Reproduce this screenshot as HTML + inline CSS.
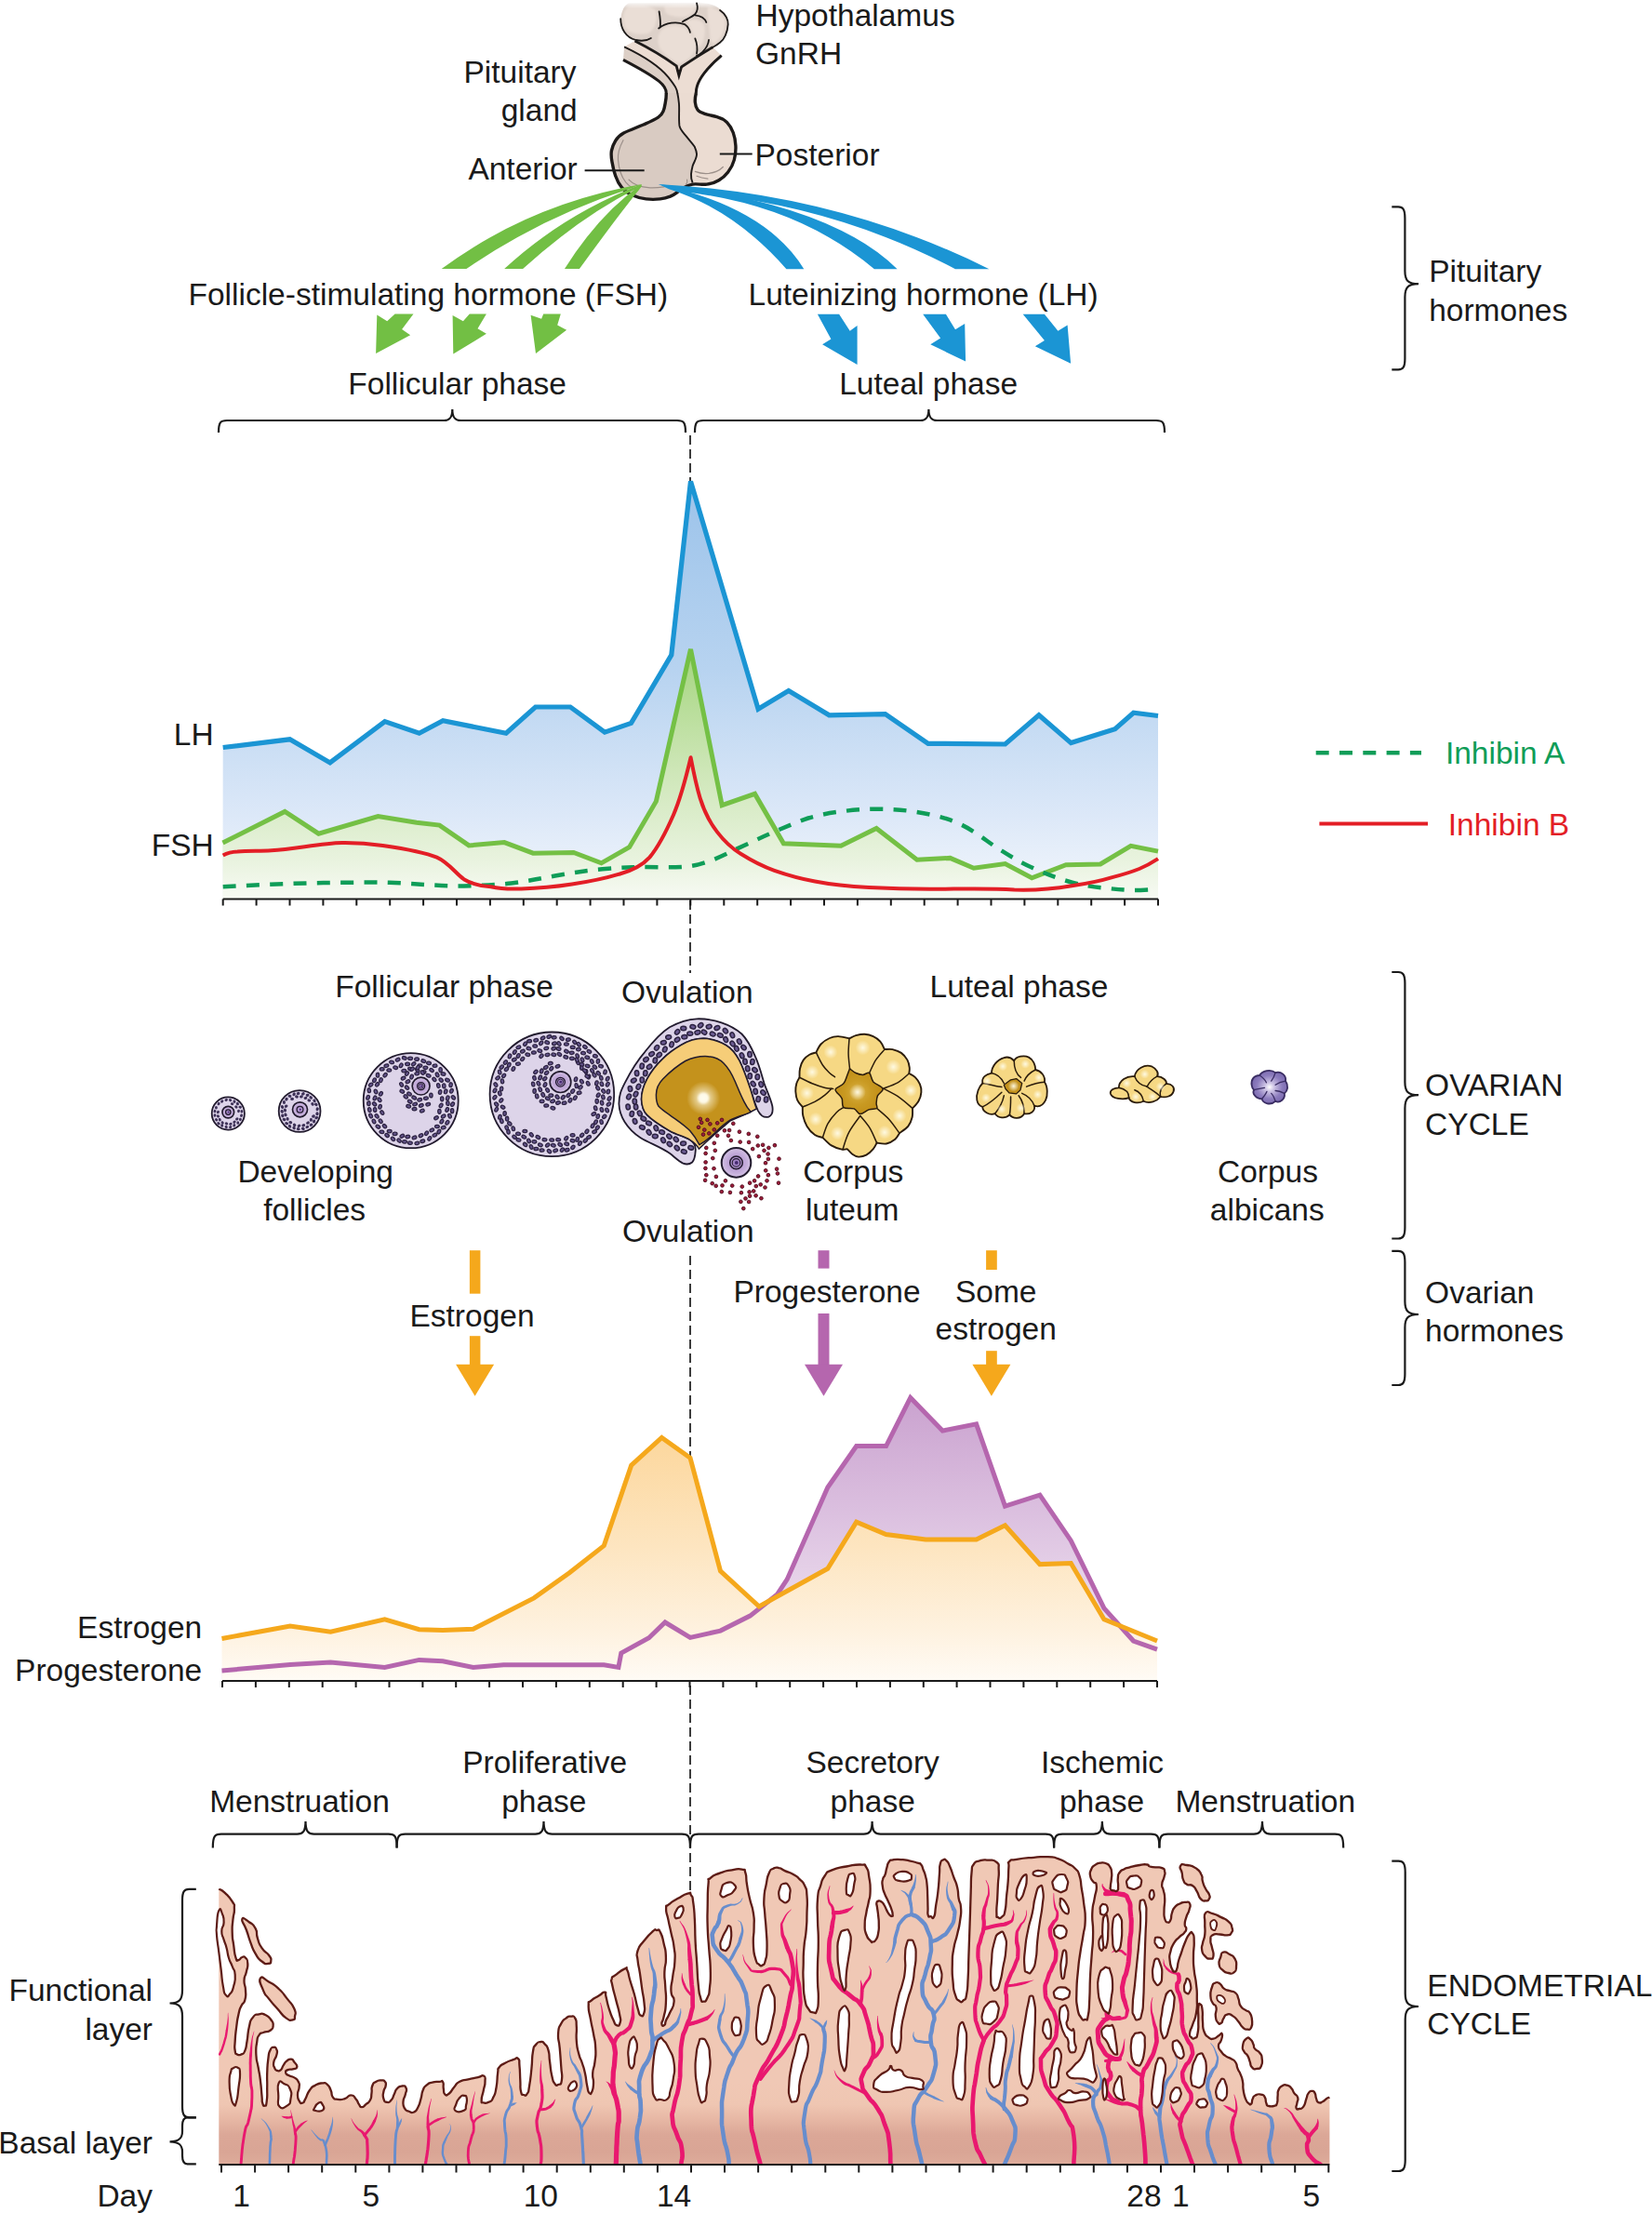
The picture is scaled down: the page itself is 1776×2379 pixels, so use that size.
<!DOCTYPE html>
<html lang="en"><head><meta charset="utf-8"><title>Menstrual cycle</title>
<style>
html,body{margin:0;padding:0;background:#fff;overflow:hidden}
body{width:1776px;height:2379px}
svg{display:block}
text{font-family:"Liberation Sans",sans-serif;font-size:33.5px;fill:#1a1a1a}
</style></head><body>
<svg width="1776" height="2379" viewBox="0 0 1776 2379">
<rect width="1776" height="2379" fill="#fff"/>
<g id="charts">
<defs>
<linearGradient id="gLH" x1="0" y1="517" x2="0" y2="966" gradientUnits="userSpaceOnUse"><stop offset="0" stop-color="#9cc3ea"/><stop offset="0.45" stop-color="#b7d3f0"/><stop offset="0.8" stop-color="#dce8f8"/><stop offset="1" stop-color="#f3f7fc"/></linearGradient>
<linearGradient id="gFSH" x1="0" y1="698" x2="0" y2="966" gradientUnits="userSpaceOnUse"><stop offset="0" stop-color="#a4d57e"/><stop offset="0.5" stop-color="#cfe7b9"/><stop offset="0.85" stop-color="#e9f3df"/><stop offset="1" stop-color="#f7faf3"/></linearGradient>
<linearGradient id="gEST" x1="0" y1="1545" x2="0" y2="1807" gradientUnits="userSpaceOnUse"><stop offset="0" stop-color="#fcd79d"/><stop offset="0.45" stop-color="#fde5c0"/><stop offset="0.8" stop-color="#fef2e0"/><stop offset="1" stop-color="#fffbf5"/></linearGradient>
<linearGradient id="gPRO" x1="0" y1="1502" x2="0" y2="1760" gradientUnits="userSpaceOnUse"><stop offset="0" stop-color="#caa2cf"/><stop offset="0.5" stop-color="#dcc1e0"/><stop offset="1" stop-color="#efe2f0"/></linearGradient>
</defs>
<g stroke="#1a1a1a" stroke-width="1.7" stroke-dasharray="10 5" fill="none">
<path d="M742,468 V517"/><path d="M742,968 V1046"/><path d="M742,1350 V1566"/><path d="M742,1812 V2120"/>
</g>
<polygon fill="url(#gLH)" points="239.7,803.5 311.6,794.8 354.8,819.9 413.7,775.6 450.7,788.3 476.2,774.8 544.1,788.3 575.7,760.0 613.1,760.0 650.1,787.2 678.5,777.4 721.8,704.1 742.5,517.4 815.1,762.2 847.8,742.6 891.4,768.8 951.7,767.7 997.8,799.3 1080.6,800.0 1116.9,768.8 1151.4,798.6 1198.7,783.7 1218.6,766.2 1245.0,769.5 1245.0,966.0 239.5,966.0"/>
<polygon fill="url(#gFSH)" points="239.5,906.0 306.2,872.5 342.5,896.2 406.4,877.6 447.8,884.2 472.5,887.1 504.1,908.9 542.2,905.6 573.1,917.2 616.7,916.5 646.5,927.8 676.6,910.7 705.4,861.4 742.5,697.9 776.2,865.7 811.5,853.4 842.4,906.8 904.1,909.3 942.2,890.4 985.8,924.2 1021.4,922.4 1046.8,933.3 1080.6,928.6 1109.3,943.8 1146.0,929.7 1183.0,928.9 1215.7,909.3 1245.0,915.1 1245.0,966.0 239.5,966.0"/>
<polyline fill="none" stroke="#1b95d4" stroke-width="5.2" stroke-linejoin="miter" points="239.7,803.5 311.6,794.8 354.8,819.9 413.7,775.6 450.7,788.3 476.2,774.8 544.1,788.3 575.7,760.0 613.1,760.0 650.1,787.2 678.5,777.4 721.8,704.1 742.5,517.4 815.1,762.2 847.8,742.6 891.4,768.8 951.7,767.7 997.8,799.3 1080.6,800.0 1116.9,768.8 1151.4,798.6 1198.7,783.7 1218.6,766.2 1245.0,769.5"/>
<polyline fill="none" stroke="#74c045" stroke-width="5" stroke-linejoin="miter" points="239.5,906.0 306.2,872.5 342.5,896.2 406.4,877.6 447.8,884.2 472.5,887.1 504.1,908.9 542.2,905.6 573.1,917.2 616.7,916.5 646.5,927.8 676.6,910.7 705.4,861.4 742.5,697.9 776.2,865.7 811.5,853.4 842.4,906.8 904.1,909.3 942.2,890.4 985.8,924.2 1021.4,922.4 1046.8,933.3 1080.6,928.6 1109.3,943.8 1146.0,929.7 1183.0,928.9 1215.7,909.3 1245.0,915.1"/>
<path fill="none" stroke="#0f9d58" stroke-width="4.5" stroke-dasharray="14 11.3" d="M239.7,953.2 C282,951 325,949 367.9,948.8 C385,948.6 402,948.4 418.8,948.8 C446,949.5 472,953 498.7,952.4 C516,952 533,951.5 549.5,949.5 C566,947.5 581,944.5 596.7,941.5 C614,938.3 630,936 647.6,934.3 C664,933 672,932.5 680,932.2 C700,931.5 722,933.5 742.5,931.1 C759,928.5 775,921 789,914 C804,907 818,900.5 832.5,894.1 C845,888.8 857,883.5 868.9,879.5 C881,876 893,873.6 905.2,872.3 C917,870.5 929,869.7 941.5,869.7 C955,869.7 968,870.3 981.5,872.3 C995,874.3 1009,877 1021.4,881.4 C1030,884.5 1039,889 1046.8,894.1 C1057,900.5 1066,908 1075.9,914 C1087,921 1097,927 1108.6,932.2 C1122,938.5 1135,943.5 1148.5,947.5 C1162,951.5 1175,953.6 1188.5,954.7 C1197,955.6 1205,956.5 1213.9,956.9 C1224,957.3 1235,956.3 1245.0,955.8"/>
<path fill="none" stroke="#e31e26" stroke-width="4" stroke-linejoin="round" d="M239.7,919.4 C245,916.5 250,915.6 255.3,915.4 C268,914.6 280,915 291.6,914.3 C318,912.5 345,906.5 367.9,906 C384,905.8 398,907 411.5,908.9 C433,912 455,915.5 469.6,921.6 C482,927 490,939 498.7,945.2 C508,951 517,952.5 527.7,953.2 C539,955.8 549,955.8 560.4,955.4 C579,955 597,953.4 614.9,950.6 C632,948 650,944.5 665.7,939.7 C679,936 690,931 698.4,921.6 C708,910 717,892 723.9,876.2 C731,860 737,838 742.6,814.3 C746,832 749,846 752.6,857.8 C757,872 763,884 770.8,894.1 C778,903.5 786,911.5 796.2,917.7 C807,924.5 819,931 832.5,935.8 C846,940.5 860,944.5 876.1,947.5 C894,951 914,953 934.2,954 C956,955.2 978,955.8 999.6,955.8 C1030,955.8 1060,954.5 1090.4,956.5 C1112,957.2 1133,955.5 1152.2,952.2 C1168,950 1183,947 1195.7,943.1 C1206,940.5 1216,937.5 1224.8,934 C1232,931 1239,927 1245.0,923.1"/>
<path fill="none" stroke="#1a1a1a" stroke-width="2" d="M239.7,966.5 H1245.0 M239.7,966.5 v7 M275.6,966.5 v7 M311.5,966.5 v7 M347.4,966.5 v7 M383.3,966.5 v7 M419.2,966.5 v7 M455.1,966.5 v7 M491.0,966.5 v7 M526.9,966.5 v7 M562.8,966.5 v7 M598.7,966.5 v7 M634.6,966.5 v7 M670.5,966.5 v7 M706.4,966.5 v7 M742.3,966.5 v7 M778.3,966.5 v7 M814.2,966.5 v7 M850.1,966.5 v7 M886.0,966.5 v7 M921.9,966.5 v7 M957.8,966.5 v7 M993.7,966.5 v7 M1029.6,966.5 v7 M1065.5,966.5 v7 M1101.4,966.5 v7 M1137.3,966.5 v7 M1173.2,966.5 v7 M1209.1,966.5 v7 M1245.0,966.5 v7"/>
<polygon fill="url(#gPRO)" points="238.5,1796.0 311.9,1789.4 355.4,1786.9 413.6,1792.4 450.6,1784.4 476.0,1785.8 508.7,1792.4 541.4,1789.8 649.3,1789.8 664.9,1792.4 667.8,1777.1 697.6,1760.8 715.0,1744.0 742.0,1760.4 774.5,1753.1 806.3,1737.1 835.3,1714.3 846.2,1697.9 889.8,1599.1 920.7,1554.5 952.6,1554.5 978.8,1502.5 1013.3,1538.1 1049.6,1530.8 1080.5,1619.1 1117.9,1607.1 1151.3,1656.2 1186.9,1728.8 1218.5,1764.0 1244.0,1773.1 1244,1807.0 238.5,1807.0"/>
<polygon fill="url(#gEST)" points="238.5,1761.5 311.9,1748.0 355.4,1754.2 413.6,1740.8 450.6,1751.7 476.0,1752.4 508.7,1751.3 574.1,1717.9 612.2,1690.7 649.3,1661.6 678.7,1575.2 711.4,1545.4 742.0,1567.2 774.5,1688.8 816.1,1727.0 889.8,1686.3 920.7,1636.2 952.6,1649.6 995.1,1655.1 1049.6,1655.1 1080.5,1639.8 1117.9,1681.6 1151.3,1680.5 1186.9,1740.8 1244.0,1764.0 1244,1807.0 238.5,1807.0"/>
<polyline fill="none" stroke="#b566ae" stroke-width="5" stroke-linejoin="miter" points="238.5,1796.0 311.9,1789.4 355.4,1786.9 413.6,1792.4 450.6,1784.4 476.0,1785.8 508.7,1792.4 541.4,1789.8 649.3,1789.8 664.9,1792.4 667.8,1777.1 697.6,1760.8 715.0,1744.0 742.0,1760.4 774.5,1753.1 806.3,1737.1 835.3,1714.3 846.2,1697.9 889.8,1599.1 920.7,1554.5 952.6,1554.5 978.8,1502.5 1013.3,1538.1 1049.6,1530.8 1080.5,1619.1 1117.9,1607.1 1151.3,1656.2 1186.9,1728.8 1218.5,1764.0 1244.0,1773.1"/>
<polyline fill="none" stroke="#f5a81c" stroke-width="5" stroke-linejoin="miter" points="238.5,1761.5 311.9,1748.0 355.4,1754.2 413.6,1740.8 450.6,1751.7 476.0,1752.4 508.7,1751.3 574.1,1717.9 612.2,1690.7 649.3,1661.6 678.7,1575.2 711.4,1545.4 742.0,1567.2 774.5,1688.8 816.1,1727.0 889.8,1686.3 920.7,1636.2 952.6,1649.6 995.1,1655.1 1049.6,1655.1 1080.5,1639.8 1117.9,1681.6 1151.3,1680.5 1186.9,1740.8 1244.0,1764.0"/>
<path fill="none" stroke="#1a1a1a" stroke-width="2" d="M239.0,1807.0 H1244.0 M239.0,1807.0 v7 M274.9,1807.0 v7 M310.8,1807.0 v7 M346.7,1807.0 v7 M382.6,1807.0 v7 M418.5,1807.0 v7 M454.4,1807.0 v7 M490.2,1807.0 v7 M526.1,1807.0 v7 M562.0,1807.0 v7 M597.9,1807.0 v7 M633.8,1807.0 v7 M669.7,1807.0 v7 M705.6,1807.0 v7 M741.5,1807.0 v7 M777.4,1807.0 v7 M813.3,1807.0 v7 M849.2,1807.0 v7 M885.1,1807.0 v7 M921.0,1807.0 v7 M956.9,1807.0 v7 M992.8,1807.0 v7 M1028.6,1807.0 v7 M1064.5,1807.0 v7 M1100.4,1807.0 v7 M1136.3,1807.0 v7 M1172.2,1807.0 v7 M1208.1,1807.0 v7 M1244.0,1807.0 v7"/>
<path d="M1414.7,809.2 H1528" stroke="#0f9d58" stroke-width="4.5" stroke-dasharray="14 11.3" fill="none"/>
<path d="M1418.4,885.4 H1535" stroke="#e31e26" stroke-width="4" fill="none"/>
</g>
<g id="pituitary">
<defs>
<linearGradient id="gHypTop" x1="0" y1="0" x2="0" y2="9" gradientUnits="userSpaceOnUse"><stop offset="0.2" stop-color="#fff"/><stop offset="1" stop-color="#fff" stop-opacity="0"/></linearGradient>
<filter id="blur1" x="-10%" y="-10%" width="120%" height="120%"><feGaussianBlur stdDeviation="1.2"/></filter>
</defs>
<path d="M 671.1,50.3 C 689.0,58.8 707.6,69.7 718.4,82.8 C 726.1,92.6 728.0,95.9 728.3,101.3 L 748.4,101.3 C 747.9,92.6 751.1,80.6 775.7,59.7 L 766.4,50.7 L 729.3,71.9 L 682.5,44.1 Z" fill="#ecddd3"/>
<path d="M 671.1,50.3 C 689.0,58.8 707.6,69.7 718.4,82.8 C 726.1,92.6 728.0,95.9 728.3,101.3 L 716.3,101.3 C 716.8,92.6 709.7,85.0 670.0,64.3 Z" fill="#dccfc6"/>
<path d="M716.3,100 C716.3,104 715.8,108 715.2,110.9 C714.6,114.5 714.2,117 713,119.6 C711.8,122.5 710.2,124.5 707.6,126.1 C703,129 698,131.2 692.3,133.8 C685,137 677,139.8 670.5,143 C666.5,145.2 663.8,147.8 661.8,151.2 C659.5,155 658,158.5 657.4,162.1 C656.8,166 657.2,170 658,174.1 C658.9,179.5 660,184.5 661.8,189.3 C663.3,193.8 665.3,197.8 668.3,201.3 C671.5,205.2 675.5,208 680.3,210 C685,212.1 689.5,213.5 694.5,213.9 C699.5,214.5 704.5,214.5 709.7,213.9 C713.5,213.4 717,212.5 720.6,211.1 C723,210.1 725.2,208.8 727.2,207.3 C729.8,205.4 732,203.4 734.8,201.9 C737.8,200.1 741,198.7 744.6,198.1 C749.5,197.4 754.8,198.8 759.9,198.1 C764.5,197.5 769,196.1 772.9,193.7 C776.8,191.4 780,188.6 782.7,185 C785.7,181.2 788,176.8 789.3,171.9 C790.6,167 791.2,162 790.9,156.7 C790.7,151.8 789.9,147 788.2,142.5 C786.7,138.4 784.6,134.7 781.6,131.6 C778.6,128.6 775,126.8 770.7,125.6 C766.5,124.4 762,123.7 757.7,122.3 C754.5,121.3 751.7,120.2 750,118 C748.3,115.8 747.6,113 747.3,109.8 C747,106.5 747.6,103 748.4,100 Z" fill="#ebdcd2"/>
<path d="M716.3,100 C716.3,104 715.8,108 715.2,110.9 C714.6,114.5 714.2,117 713,119.6 C711.8,122.5 710.2,124.5 707.6,126.1 C703,129 698,131.2 692.3,133.8 C685,137 677,139.8 670.5,143 C666.5,145.2 663.8,147.8 661.8,151.2 C659.5,155 658,158.5 657.4,162.1 C656.8,166 657.2,170 658,174.1 C658.9,179.5 660,184.5 661.8,189.3 C663.3,193.8 665.3,197.8 668.3,201.3 C671.5,205.2 675.5,208 680.3,210 C685,212.1 689.5,213.5 694.5,213.9 C699.5,214.5 704.5,214.5 709.7,213.9 C713.5,213.4 717,212.5 720.6,211.1 C723,210.1 725.2,208.8 727.2,207.3 C729.8,205.4 732,203.4 734.8,201.9 C737.8,200.1 741,198.7 744.6,196.5 C743.2,193 742.8,190 743,187.2 C743.3,184 743.9,181 744.6,178.4 C746.3,173.5 749.3,170 749,165.4 C748.7,162 747.8,160 746.8,157.8 C744,153.5 740.8,150.5 738.1,146.9 C734.8,142.6 731,139.5 730.4,134.9 C729.5,126 730.6,118 729.9,110.9 C729.5,106.5 728.8,102.5 728.3,100 Z" fill="#d9cbc2"/>
<g fill="none" stroke="#9c908a" stroke-width="1.2" stroke-linecap="round">
<path d="M 670.0,150.7 C 665.6,158.8 664.0,165.4 664.5,171.9 C 665.3,181.7 668.3,190.4 672.7,195.9 C 677.0,200.8 681.4,203.5 685.8,204.6"/>
<path d="M 676.0,193.2 C 680.3,198.1 689.0,201.3 698.8,201.9 C 705.4,202.2 709.7,201.5 714.1,200.8"/>
<path d="M 747.3,184.4 C 752.2,186.3 757.7,186.8 762.0,186.4 C 768.6,185.6 774.0,182.8 777.3,179.5"/>
<path d="M 749.0,189.3 C 753.3,191.0 757.7,191.7 760.9,192.1"/>
<path d="M 738.6,193.2 C 739.2,195.3 738.6,197.0 737.5,198.1"/>
</g>
<path d="M716.3,100 C716.3,104 715.8,108 715.2,110.9 C714.6,114.5 714.2,117 713,119.6 C711.8,122.5 710.2,124.5 707.6,126.1 C703,129 698,131.2 692.3,133.8 C685,137 677,139.8 670.5,143 C666.5,145.2 663.8,147.8 661.8,151.2 C659.5,155 658,158.5 657.4,162.1 C656.8,166 657.2,170 658,174.1 C658.9,179.5 660,184.5 661.8,189.3 C663.3,193.8 665.3,197.8 668.3,201.3 C671.5,205.2 675.5,208 680.3,210 C685,212.1 689.5,213.5 694.5,213.9 C699.5,214.5 704.5,214.5 709.7,213.9 C713.5,213.4 717,212.5 720.6,211.1 C723,210.1 725.2,208.8 727.2,207.3 C729.8,205.4 732,203.4 734.8,201.9 C737.8,200.1 741,198.7 744.6,198.1 C749.5,197.4 754.8,198.8 759.9,198.1 C764.5,197.5 769,196.1 772.9,193.7 C776.8,191.4 780,188.6 782.7,185 C785.7,181.2 788,176.8 789.3,171.9 C790.6,167 791.2,162 790.9,156.7 C790.7,151.8 789.9,147 788.2,142.5 C786.7,138.4 784.6,134.7 781.6,131.6 C778.6,128.6 775,126.8 770.7,125.6 C766.5,124.4 762,123.7 757.7,122.3 C754.5,121.3 751.7,120.2 750,118 C748.3,115.8 747.6,113 747.3,109.8 C747,106.5 747.6,103 748.4,100" fill="none" stroke="#1d1a19" stroke-width="3.4" stroke-linejoin="round"/>
<path d="M728.3,100 C728.8,102.5 729.5,106.5 729.9,110.9 C730.6,118 729.5,126 730.4,134.9 C731,139.5 734.8,142.6 738.1,146.9 C740.8,150.5 744,153.5 746.8,157.8 C747.8,160 748.7,162 749,165.4 C749.3,170 746.3,173.5 744.6,178.4 C743.9,181 743.3,184 743,187.2 C742.8,190 743.2,193 744.6,196.5" fill="none" stroke="#1d1a19" stroke-width="1.9"/>
<path d="M 670.0,64.3 C 709.7,85.0 716.8,92.6 716.3,100.5" fill="none" stroke="#1d1a19" stroke-width="3"/>
<path d="M 775.7,59.7 C 751.1,80.6 747.9,92.6 748.4,100.5" fill="none" stroke="#1d1a19" stroke-width="3"/>
<path d="M 671.1,50.3 C 689.0,58.8 707.6,69.7 718.4,82.8 C 726.1,92.6 728.0,95.9 728.3,100.5" fill="none" stroke="#1d1a19" stroke-width="1.9"/>
<path d="M 676.0,3.3 C 671.6,5.4 668.3,10.9 667.2,20.7 C 667.0,28.3 671.6,37.0 676.0,39.8 C 678.1,41.9 680.3,43.4 682.5,44.1 L 729.3,71.9 L 766.4,50.7 C 771.8,47.4 777.3,41.4 780.6,34.9 C 783.0,27.2 783.0,20.7 780.6,16.3 C 778.4,12.0 770.7,6.5 765.3,4.9 C 759.9,3.3 754.4,2.7 749.0,2.7 Z" fill="#ddd1c9"/>
<g fill="#eaded6" filter="url(#blur1)">
<path d="M 676.0,6.5 C 685.8,4.4 701.0,5.4 705.4,12.0 C 707.6,21.8 703.2,32.7 696.7,36.0 C 687.9,38.1 677.0,36.0 672.7,30.5 C 668.3,21.8 669.4,10.9 676.0,6.5 Z"/>
<path d="M 710.8,32.7 C 716.3,27.2 729.3,26.1 737.0,30.5 C 744.6,37.0 749.0,45.8 746.8,54.5 C 743.5,62.1 735.9,67.6 729.3,68.6 C 722.8,65.4 714.1,58.8 709.7,52.3 C 706.5,45.8 706.5,38.1 710.8,32.7 Z"/>
<path d="M 714.1,6.5 C 722.8,4.4 738.1,4.4 746.8,6.5 C 747.9,10.9 744.6,15.3 738.1,17.4 C 729.3,19.6 718.4,17.4 715.2,13.1 Z"/>
<path d="M 738.1,22.9 C 744.6,19.6 753.3,20.7 756.6,26.1 C 758.8,32.7 757.7,41.4 754.4,47.9 C 752.2,51.2 749.0,52.3 747.9,47.9 C 746.8,39.2 743.5,30.5 738.1,22.9 Z"/>
<path d="M 760.9,7.6 C 768.6,7.6 777.3,14.2 779.5,21.8 C 780.6,30.5 776.2,40.3 769.7,45.8 C 765.3,47.9 763.1,43.6 763.1,37.0 C 763.1,28.3 759.9,17.4 760.9,7.6 Z"/>
</g>
<rect x="655" y="0" width="140" height="9" fill="url(#gHypTop)"/>
<g fill="none" stroke="#1d1a19" stroke-width="1.8" stroke-linecap="round">
<path d="M 667.2,20.2 C 667.2,30.5 672.7,40.3 683.6,43.0 C 691.2,44.7 696.7,43.0 699.9,40.9"/>
<path d="M 708.6,12.5 C 709.7,18.5 710.3,24.0 709.7,29.4"/>
<path d="M 708.1,30.5 C 716.3,24.0 727.2,22.9 735.9,26.1 C 739.2,28.3 741.3,31.6 741.9,34.9"/>
<path d="M 749.0,3.3 C 750.3,7.6 750.0,12.0 747.3,15.3 C 743.5,18.5 738.1,20.7 733.7,23.4"/>
<path d="M 747.3,16.3 C 753.3,16.9 757.7,19.6 759.3,24.0"/>
<path d="M 774.0,10.9 C 780.6,15.3 783.0,21.8 782.7,26.1 C 782.2,34.9 778.4,42.5 774.0,45.8 C 770.7,48.5 768.6,49.6 766.4,50.7"/>
<path d="M 747.3,41.4 C 749.5,46.9 750.0,52.3 749.0,57.7"/>
<path d="M 762.0,43.0 C 761.5,47.9 758.8,52.3 755.5,55.6 C 753.3,57.7 751.1,59.4 749.0,59.9"/>
</g>
<path d="M 682.5,44.1 C 696.7,51.2 716.3,63.2 727.2,70.8 L 729.9,81.2 L 732.6,71.9 C 742.4,65.4 755.5,56.7 766.4,50.7" fill="none" stroke="#1d1a19" stroke-width="2.8" stroke-linejoin="miter"/>
<path d="M 727.2,75.2 L 729.9,81.7 L 732.6,75.2 Z" fill="#1d1a19"/>
</g>
<g id="arrows">
<g fill="#72bf44">
<path d="M689.7,198.1 Q568.7,219.3 474.7,289.1 L501.4,289.1 Q581.7,233.5 678.4,202.6 Z"/>
<path d="M689.7,198.1 Q605.0,230.8 542.2,289.1 L562.1,289.1 Q622.2,234.3 684.6,202.6 Z"/>
<path d="M689.7,198.1 Q642.6,231.7 607.0,289.1 L622.9,289.1 Q659.3,238.7 689.7,200.6 Z"/>
<polygon points="405.3,338.4 416.2,345.3 424.6,337.6 444.5,337.6 432.1,354.0 441.1,360.2 404.1,380.1"/>
<polygon points="486.6,339.0 497.9,345.3 504.8,337.6 522.9,337.6 513.5,353.2 522.9,358.8 487.3,380.6"/>
<polygon points="570.6,338.7 582.1,342.8 584.2,337.6 602.8,337.6 599.2,349.6 609.1,354.7 576.0,380.1"/>
</g>
<g fill="#1b95d4">
<path d="M708.0,198.0 Q823.4,222.7 864.3,289.2 L845.4,289.2 Q789.4,225.3 719.1,203.2 Z"/>
<path d="M708.0,198.0 Q892.2,218.1 964.6,289.2 L939.9,289.2 Q857.1,219.8 733.6,206.1 Z"/>
<path d="M708.0,198.0 Q900.9,208.2 1063.4,289.2 L1027.0,289.2 Q903.6,224.2 762.6,209.1 Z"/>
<polygon points="878.9,337.8 902.1,337.8 913.7,355.8 921.6,350.0 921.6,392.1 884.1,370.3 893.4,364.5"/>
<polygon points="992.2,337.8 1016.9,337.8 1027.0,354.3 1037.2,347.9 1038.1,388.6 1000.3,370.3 1011.1,363.6"/>
<polygon points="1099.7,337.8 1122.9,337.8 1137.4,355.8 1147.6,349.4 1151.1,390.7 1112.8,372.3 1122.9,366.0"/>
</g>
<rect x="504.9" y="1344.2" width="11.5" height="46.5" fill="#f5a81c"/><rect x="504.9" y="1436.2" width="11.5" height="31.3" fill="#f5a81c"/><polygon fill="#f5a81c" points="490.1,1466.8 531.1,1466.8 510.6,1500.7"/>
<rect x="879.5" y="1344.2" width="12" height="19.4" fill="#b566ae"/><rect x="879.5" y="1412" width="12" height="55.5" fill="#b566ae"/><polygon fill="#b566ae" points="865.0,1466.8 906.0,1466.8 885.5,1500.7"/>
<rect x="1060.1" y="1344.2" width="11.7" height="20.8" fill="#f5a81c"/><rect x="1060.1" y="1452.2" width="11.7" height="15.3" fill="#f5a81c"/><polygon fill="#f5a81c" points="1045.4,1466.8 1086.4,1466.8 1065.9,1500.7"/>
</g>
<g id="ovary">
<defs>
<radialGradient id="gOo" cx="0.5" cy="0.5" r="0.5"><stop offset="0" stop-color="#b294cd"/><stop offset="0.6" stop-color="#c0a7d8"/><stop offset="1" stop-color="#d3c2e4"/></radialGradient>
<radialGradient id="gGold" cx="0.5" cy="0.5" r="0.5"><stop offset="0" stop-color="#fffdf2"/><stop offset="0.1" stop-color="#f6e7b4"/><stop offset="0.35" stop-color="#d3a63a"/><stop offset="0.6" stop-color="#c4921c"/><stop offset="1" stop-color="#c4921c"/></radialGradient>
<radialGradient id="gAlb" cx="0.5" cy="0.5" r="0.5"><stop offset="0" stop-color="#fff"/><stop offset="0.25" stop-color="#cfc6e6"/><stop offset="0.7" stop-color="#8d7dbe"/><stop offset="1" stop-color="#7c6bb0"/></radialGradient>
<radialGradient id="gGold2" cx="0.48" cy="0.52" r="0.55"><stop offset="0" stop-color="#d9b044"/><stop offset="0.5" stop-color="#c99a22"/><stop offset="1" stop-color="#c08c16"/></radialGradient>
<radialGradient id="gHi" cx="0.5" cy="0.5" r="0.5"><stop offset="0" stop-color="#fffbe6" stop-opacity="0.95"/><stop offset="1" stop-color="#fffbe6" stop-opacity="0"/></radialGradient>
</defs>
<circle cx="245.3" cy="1197" r="17.6" fill="#ddd4e9" stroke="#221b2e" stroke-width="1.8"/>
<circle cx="322.1" cy="1194.5" r="22.4" fill="#ddd4e9" stroke="#221b2e" stroke-width="1.8"/>
<circle cx="441.7" cy="1183.2" r="51.0" fill="#ddd4e9" stroke="#221b2e" stroke-width="1.8"/>
<circle cx="593.4" cy="1176.3" r="66.8" fill="#ddd4e9" stroke="#221b2e" stroke-width="1.8"/>
<path d="M 665.4,1186.5 C 665.4,1176.9 667.8,1172.0 671.5,1164.7 C 677.5,1152.6 684.8,1140.5 693.3,1130.8 C 701.7,1120.0 710.2,1110.3 719.9,1104.2 C 729.6,1098.9 739.3,1095.7 749.0,1095.3 C 758.6,1095.0 767.1,1096.5 775.6,1099.4 C 784.1,1102.3 791.3,1106.2 797.4,1111.5 C 804.6,1118.7 808.3,1127.2 811.9,1135.7 C 816.3,1145.4 818.7,1155.1 821.6,1164.7 C 824.5,1173.2 828.4,1180.5 830.3,1189.0 C 831.3,1195.0 830.1,1199.1 826.4,1200.6 C 822.1,1201.8 818.0,1199.9 814.8,1193.8 C 811.4,1186.5 809.5,1179.3 807.1,1172.0 C 803.4,1161.1 799.8,1150.2 795.0,1140.5 C 791.3,1133.3 786.5,1127.2 780.4,1123.6 C 773.2,1119.2 764.7,1116.8 756.2,1116.3 C 747.7,1116.3 739.3,1119.2 732.0,1123.6 C 724.7,1127.9 718.2,1132.5 712.6,1138.1 C 705.4,1144.9 700.0,1151.9 695.7,1159.9 C 692.1,1166.7 689.6,1174.4 689.6,1181.7 C 689.9,1189.0 691.3,1194.3 695.7,1198.6 C 701.7,1204.7 710.7,1210.3 719.9,1215.6 C 727.7,1220.0 735.6,1221.6 741.7,1225.3 C 746.5,1228.2 748.2,1232.5 747.7,1237.4 C 747.3,1243.4 746.5,1247.1 744.1,1249.5 C 741.2,1251.9 737.6,1251.9 734.4,1250.7 C 729.6,1248.3 724.7,1243.4 719.9,1239.8 C 710.2,1233.0 698.1,1228.9 688.4,1222.9 C 681.6,1218.5 675.8,1212.7 671.5,1205.9 C 668.1,1200.6 665.7,1193.8 665.4,1186.5 Z" fill="#ddd4e9" stroke="#221b2e" stroke-width="1.8"/>
<path d="M 689.6,1181.7 C 689.6,1174.4 692.1,1166.7 695.7,1159.9 C 700.0,1151.9 705.4,1144.9 712.6,1138.1 C 718.2,1132.5 724.7,1127.9 732.0,1123.6 C 739.3,1119.2 747.7,1116.3 756.2,1116.3 C 764.7,1116.8 773.2,1119.2 780.4,1123.6 C 786.5,1127.2 791.3,1133.3 795.0,1140.5 C 799.8,1150.2 803.4,1161.1 807.1,1172.0 C 809.5,1179.3 810.9,1186.5 813.4,1191.9 L 806.1,1195.7 L 785.3,1204.7 L 767.1,1220.4 L 751.4,1235.0 C 749.4,1231.3 746.5,1228.2 741.7,1225.3 C 735.6,1221.6 727.7,1220.0 719.9,1215.6 C 710.7,1210.3 701.7,1204.7 695.7,1198.6 C 691.3,1194.3 689.9,1189.0 689.6,1181.7 Z" fill="#f6cd78" stroke="#221b2e" stroke-width="1.5"/>
<path d="M 705.4,1176.9 C 705.4,1169.6 708.3,1164.3 712.6,1159.9 C 719.9,1152.6 728.4,1145.4 736.9,1140.5 C 744.6,1136.9 753.3,1135.2 761.1,1135.7 C 768.3,1136.2 773.7,1138.6 778.0,1143.0 C 783.3,1148.3 787.2,1155.5 790.1,1162.3 C 793.5,1170.1 796.2,1177.3 799.8,1184.1 C 801.7,1188.0 804.2,1191.9 807.1,1195.3 C 799.8,1199.1 792.5,1200.1 785.3,1204.0 C 778.0,1208.3 772.0,1214.6 765.9,1220.4 C 761.1,1224.8 756.7,1228.2 751.9,1230.6 C 749.0,1225.3 745.6,1220.0 741.7,1215.6 C 735.6,1209.3 727.2,1204.0 719.9,1198.6 C 715.1,1195.3 710.7,1192.3 707.8,1189.0 C 705.9,1185.6 705.4,1181.7 705.4,1176.9 Z" fill="#c4921c" stroke="#221b2e" stroke-width="1.5"/>
<circle cx="756.2" cy="1180.5" r="18" fill="url(#gHi)"/>
<circle cx="756.2" cy="1180.5" r="6" fill="#fffdf0" opacity="0.9" filter="url(#blur1)"/>
<g fill="#63548a" stroke="#2d2342" stroke-width="1.25"><ellipse cx="486.5" cy="1187.1" rx="2.45" ry="1.7" transform="rotate(124 486.5 1187.1)"/><ellipse cx="486.1" cy="1194.2" rx="2.45" ry="1.7" transform="rotate(90 486.1 1194.2)"/><ellipse cx="483.5" cy="1199.7" rx="2.45" ry="1.7" transform="rotate(68 483.5 1199.7)"/><ellipse cx="480.9" cy="1206.8" rx="2.45" ry="1.7" transform="rotate(123 480.9 1206.8)"/><ellipse cx="476.7" cy="1212.1" rx="2.45" ry="1.7" transform="rotate(163 476.7 1212.1)"/><ellipse cx="471.9" cy="1216.6" rx="2.45" ry="1.7" transform="rotate(116 471.9 1216.6)"/><ellipse cx="467.4" cy="1220.2" rx="2.45" ry="1.7" transform="rotate(153 467.4 1220.2)"/><ellipse cx="461.8" cy="1223.9" rx="2.45" ry="1.7" transform="rotate(121 461.8 1223.9)"/><ellipse cx="454.3" cy="1226.7" rx="2.45" ry="1.7" transform="rotate(160 454.3 1226.7)"/><ellipse cx="448.4" cy="1228.9" rx="2.45" ry="1.7" transform="rotate(164 448.4 1228.9)"/><ellipse cx="440.9" cy="1228.7" rx="2.45" ry="1.7" transform="rotate(184 440.9 1228.7)"/><ellipse cx="435.0" cy="1227.4" rx="2.45" ry="1.7" transform="rotate(183 435.0 1227.4)"/><ellipse cx="429.1" cy="1226.1" rx="2.45" ry="1.7" transform="rotate(223 429.1 1226.1)"/><ellipse cx="422.5" cy="1224.4" rx="2.45" ry="1.7" transform="rotate(225 422.5 1224.4)"/><ellipse cx="416.1" cy="1220.5" rx="2.45" ry="1.7" transform="rotate(216 416.1 1220.5)"/><ellipse cx="410.4" cy="1216.8" rx="2.45" ry="1.7" transform="rotate(188 410.4 1216.8)"/><ellipse cx="406.4" cy="1211.2" rx="2.45" ry="1.7" transform="rotate(211 406.4 1211.2)"/><ellipse cx="402.0" cy="1205.5" rx="2.45" ry="1.7" transform="rotate(246 402.0 1205.5)"/><ellipse cx="398.6" cy="1199.6" rx="2.45" ry="1.7" transform="rotate(244 398.6 1199.6)"/><ellipse cx="397.3" cy="1193.1" rx="2.45" ry="1.7" transform="rotate(258 397.3 1193.1)"/><ellipse cx="396.4" cy="1186.2" rx="2.45" ry="1.7" transform="rotate(269 396.4 1186.2)"/><ellipse cx="395.6" cy="1179.8" rx="2.45" ry="1.7" transform="rotate(292 395.6 1179.8)"/><ellipse cx="396.8" cy="1172.2" rx="2.45" ry="1.7" transform="rotate(262 396.8 1172.2)"/><ellipse cx="398.7" cy="1166.2" rx="2.45" ry="1.7" transform="rotate(322 398.7 1166.2)"/><ellipse cx="402.5" cy="1161.3" rx="2.45" ry="1.7" transform="rotate(294 402.5 1161.3)"/><ellipse cx="406.0" cy="1155.7" rx="2.45" ry="1.7" transform="rotate(269 406.0 1155.7)"/><ellipse cx="410.7" cy="1149.3" rx="2.45" ry="1.7" transform="rotate(353 410.7 1149.3)"/><ellipse cx="415.4" cy="1145.7" rx="2.45" ry="1.7" transform="rotate(339 415.4 1145.7)"/><ellipse cx="421.1" cy="1141.9" rx="2.45" ry="1.7" transform="rotate(376 421.1 1141.9)"/><ellipse cx="427.6" cy="1139.2" rx="2.45" ry="1.7" transform="rotate(333 427.6 1139.2)"/><ellipse cx="434.8" cy="1137.4" rx="2.45" ry="1.7" transform="rotate(381 434.8 1137.4)"/><ellipse cx="441.1" cy="1137.8" rx="2.45" ry="1.7" transform="rotate(361 441.1 1137.8)"/><ellipse cx="448.1" cy="1138.6" rx="2.45" ry="1.7" transform="rotate(352 448.1 1138.6)"/><ellipse cx="455.3" cy="1140.6" rx="2.45" ry="1.7" transform="rotate(383 455.3 1140.6)"/><ellipse cx="461.0" cy="1142.9" rx="2.45" ry="1.7" transform="rotate(370 461.0 1142.9)"/><ellipse cx="467.5" cy="1145.7" rx="2.45" ry="1.7" transform="rotate(355 467.5 1145.7)"/><ellipse cx="473.6" cy="1150.1" rx="2.45" ry="1.7" transform="rotate(446 473.6 1150.1)"/><ellipse cx="476.5" cy="1154.5" rx="2.45" ry="1.7" transform="rotate(369 476.5 1154.5)"/><ellipse cx="481.0" cy="1161.1" rx="2.45" ry="1.7" transform="rotate(387 481.0 1161.1)"/><ellipse cx="484.6" cy="1166.2" rx="2.45" ry="1.7" transform="rotate(457 484.6 1166.2)"/><ellipse cx="485.4" cy="1172.8" rx="2.45" ry="1.7" transform="rotate(474 485.4 1172.8)"/><ellipse cx="487.4" cy="1179.9" rx="2.45" ry="1.7" transform="rotate(409 487.4 1179.9)"/><ellipse cx="481.4" cy="1186.0" rx="2.45" ry="1.7" transform="rotate(87 481.4 1186.0)"/><ellipse cx="480.7" cy="1192.9" rx="2.45" ry="1.7" transform="rotate(116 480.7 1192.9)"/><ellipse cx="476.7" cy="1200.0" rx="2.45" ry="1.7" transform="rotate(148 476.7 1200.0)"/><ellipse cx="474.9" cy="1205.6" rx="2.45" ry="1.7" transform="rotate(120 474.9 1205.6)"/><ellipse cx="469.9" cy="1211.0" rx="2.45" ry="1.7" transform="rotate(173 469.9 1211.0)"/><ellipse cx="464.3" cy="1214.9" rx="2.45" ry="1.7" transform="rotate(147 464.3 1214.9)"/><ellipse cx="458.5" cy="1218.3" rx="2.45" ry="1.7" transform="rotate(124 458.5 1218.3)"/><ellipse cx="452.5" cy="1220.7" rx="2.45" ry="1.7" transform="rotate(147 452.5 1220.7)"/><ellipse cx="445.5" cy="1222.9" rx="2.45" ry="1.7" transform="rotate(156 445.5 1222.9)"/><ellipse cx="438.3" cy="1222.0" rx="2.45" ry="1.7" transform="rotate(171 438.3 1222.0)"/><ellipse cx="432.3" cy="1221.2" rx="2.45" ry="1.7" transform="rotate(150 432.3 1221.2)"/><ellipse cx="424.6" cy="1218.9" rx="2.45" ry="1.7" transform="rotate(178 424.6 1218.9)"/><ellipse cx="418.7" cy="1216.1" rx="2.45" ry="1.7" transform="rotate(180 418.7 1216.1)"/><ellipse cx="413.5" cy="1210.7" rx="2.45" ry="1.7" transform="rotate(225 413.5 1210.7)"/><ellipse cx="409.2" cy="1205.3" rx="2.45" ry="1.7" transform="rotate(236 409.2 1205.3)"/><ellipse cx="405.1" cy="1199.9" rx="2.45" ry="1.7" transform="rotate(231 405.1 1199.9)"/><ellipse cx="403.1" cy="1193.0" rx="2.45" ry="1.7" transform="rotate(268 403.1 1193.0)"/><ellipse cx="402.6" cy="1186.8" rx="2.45" ry="1.7" transform="rotate(225 402.6 1186.8)"/><ellipse cx="403.0" cy="1180.4" rx="2.45" ry="1.7" transform="rotate(296 403.0 1180.4)"/><ellipse cx="404.0" cy="1173.5" rx="2.45" ry="1.7" transform="rotate(247 404.0 1173.5)"/><ellipse cx="405.6" cy="1165.8" rx="2.45" ry="1.7" transform="rotate(311 405.6 1165.8)"/><ellipse cx="409.5" cy="1161.1" rx="2.45" ry="1.7" transform="rotate(286 409.5 1161.1)"/><ellipse cx="414.1" cy="1155.7" rx="2.45" ry="1.7" transform="rotate(310 414.1 1155.7)"/><ellipse cx="418.3" cy="1150.5" rx="2.45" ry="1.7" transform="rotate(367 418.3 1150.5)"/><ellipse cx="425.2" cy="1147.7" rx="2.45" ry="1.7" transform="rotate(377 425.2 1147.7)"/><ellipse cx="431.2" cy="1145.3" rx="2.45" ry="1.7" transform="rotate(300 431.2 1145.3)"/><ellipse cx="438.1" cy="1143.9" rx="2.45" ry="1.7" transform="rotate(355 438.1 1143.9)"/><ellipse cx="444.7" cy="1143.8" rx="2.45" ry="1.7" transform="rotate(320 444.7 1143.8)"/><ellipse cx="451.4" cy="1145.6" rx="2.45" ry="1.7" transform="rotate(365 451.4 1145.6)"/><ellipse cx="457.4" cy="1147.8" rx="2.45" ry="1.7" transform="rotate(366 457.4 1147.8)"/><ellipse cx="464.1" cy="1150.5" rx="2.45" ry="1.7" transform="rotate(397 464.1 1150.5)"/><ellipse cx="470.1" cy="1155.4" rx="2.45" ry="1.7" transform="rotate(425 470.1 1155.4)"/><ellipse cx="474.2" cy="1161.1" rx="2.45" ry="1.7" transform="rotate(400 474.2 1161.1)"/><ellipse cx="477.3" cy="1167.4" rx="2.45" ry="1.7" transform="rotate(446 477.3 1167.4)"/><ellipse cx="479.2" cy="1173.4" rx="2.45" ry="1.7" transform="rotate(466 479.2 1173.4)"/><ellipse cx="481.3" cy="1180.4" rx="2.45" ry="1.7" transform="rotate(467 481.3 1180.4)"/><ellipse cx="434.3" cy="1151.1" rx="2.45" ry="1.7" transform="rotate(-11 434.3 1151.1)"/><ellipse cx="441.0" cy="1149.2" rx="2.45" ry="1.7" transform="rotate(26 441.0 1149.2)"/><ellipse cx="448.7" cy="1150.3" rx="2.45" ry="1.7" transform="rotate(47 448.7 1150.3)"/><ellipse cx="455.5" cy="1152.4" rx="2.45" ry="1.7" transform="rotate(-0 455.5 1152.4)"/><ellipse cx="460.7" cy="1156.3" rx="2.45" ry="1.7" transform="rotate(23 460.7 1156.3)"/><ellipse cx="466.9" cy="1160.4" rx="2.45" ry="1.7" transform="rotate(53 466.9 1160.4)"/><ellipse cx="471.3" cy="1167.1" rx="2.45" ry="1.7" transform="rotate(78 471.3 1167.1)"/><ellipse cx="473.1" cy="1174.0" rx="2.45" ry="1.7" transform="rotate(101 473.1 1174.0)"/><ellipse cx="475.2" cy="1181.3" rx="2.45" ry="1.7" transform="rotate(90 475.2 1181.3)"/><ellipse cx="474.1" cy="1188.4" rx="2.45" ry="1.7" transform="rotate(120 474.1 1188.4)"/><ellipse cx="472.4" cy="1194.8" rx="2.45" ry="1.7" transform="rotate(90 472.4 1194.8)"/><ellipse cx="469.0" cy="1201.8" rx="2.45" ry="1.7" transform="rotate(146 469.0 1201.8)"/><ellipse cx="410.8" cy="1196.1" rx="2.45" ry="1.7" transform="rotate(237 410.8 1196.1)"/><ellipse cx="408.6" cy="1189.8" rx="2.45" ry="1.7" transform="rotate(283 408.6 1189.8)"/><ellipse cx="408.0" cy="1182.3" rx="2.45" ry="1.7" transform="rotate(233 408.0 1182.3)"/><ellipse cx="409.4" cy="1175.8" rx="2.45" ry="1.7" transform="rotate(305 409.4 1175.8)"/><ellipse cx="463.4" cy="1177.5" rx="2.45" ry="1.7" transform="rotate(89 463.4 1177.5)"/><ellipse cx="457.9" cy="1180.7" rx="2.45" ry="1.7" transform="rotate(173 457.9 1180.7)"/><ellipse cx="451.2" cy="1182.3" rx="2.45" ry="1.7" transform="rotate(167 451.2 1182.3)"/><ellipse cx="445.2" cy="1180.0" rx="2.45" ry="1.7" transform="rotate(208 445.2 1180.0)"/><ellipse cx="440.0" cy="1176.0" rx="2.45" ry="1.7" transform="rotate(209 440.0 1176.0)"/><ellipse cx="437.5" cy="1169.2" rx="2.45" ry="1.7" transform="rotate(221 437.5 1169.2)"/><ellipse cx="438.4" cy="1162.7" rx="2.45" ry="1.7" transform="rotate(331 438.4 1162.7)"/><ellipse cx="442.6" cy="1157.6" rx="2.45" ry="1.7" transform="rotate(289 442.6 1157.6)"/><ellipse cx="448.3" cy="1154.2" rx="2.45" ry="1.7" transform="rotate(349 448.3 1154.2)"/><ellipse cx="454.2" cy="1153.1" rx="2.45" ry="1.7" transform="rotate(407 454.2 1153.1)"/><ellipse cx="460.2" cy="1187.2" rx="2.45" ry="1.7" transform="rotate(159 460.2 1187.2)"/><ellipse cx="452.8" cy="1188.4" rx="2.45" ry="1.7" transform="rotate(155 452.8 1188.4)"/><ellipse cx="446.1" cy="1187.0" rx="2.45" ry="1.7" transform="rotate(156 446.1 1187.0)"/><ellipse cx="440.7" cy="1184.2" rx="2.45" ry="1.7" transform="rotate(211 440.7 1184.2)"/><ellipse cx="436.2" cy="1178.9" rx="2.45" ry="1.7" transform="rotate(221 436.2 1178.9)"/><ellipse cx="432.3" cy="1173.2" rx="2.45" ry="1.7" transform="rotate(210 432.3 1173.2)"/><ellipse cx="431.6" cy="1165.9" rx="2.45" ry="1.7" transform="rotate(240 431.6 1165.9)"/><ellipse cx="433.6" cy="1159.1" rx="2.45" ry="1.7" transform="rotate(330 433.6 1159.1)"/><ellipse cx="437.5" cy="1154.1" rx="2.45" ry="1.7" transform="rotate(302 437.5 1154.1)"/><ellipse cx="443.1" cy="1149.3" rx="2.45" ry="1.7" transform="rotate(320 443.1 1149.3)"/><ellipse cx="449.2" cy="1147.7" rx="2.45" ry="1.7" transform="rotate(310 449.2 1147.7)"/><ellipse cx="453.8" cy="1194.1" rx="2.45" ry="1.7" transform="rotate(158 453.8 1194.1)"/><ellipse cx="445.5" cy="1192.2" rx="2.45" ry="1.7" transform="rotate(175 445.5 1192.2)"/><ellipse cx="439.2" cy="1189.3" rx="2.45" ry="1.7" transform="rotate(200 439.2 1189.3)"/><ellipse cx="655.1" cy="1180.9" rx="2.45" ry="1.7" transform="rotate(122 655.1 1180.9)"/><ellipse cx="654.4" cy="1187.0" rx="2.45" ry="1.7" transform="rotate(140 654.4 1187.0)"/><ellipse cx="652.6" cy="1193.5" rx="2.45" ry="1.7" transform="rotate(66 652.6 1193.5)"/><ellipse cx="649.7" cy="1200.3" rx="2.45" ry="1.7" transform="rotate(136 649.7 1200.3)"/><ellipse cx="646.6" cy="1206.1" rx="2.45" ry="1.7" transform="rotate(79 646.6 1206.1)"/><ellipse cx="642.3" cy="1212.3" rx="2.45" ry="1.7" transform="rotate(124 642.3 1212.3)"/><ellipse cx="639.1" cy="1216.6" rx="2.45" ry="1.7" transform="rotate(153 639.1 1216.6)"/><ellipse cx="633.1" cy="1222.5" rx="2.45" ry="1.7" transform="rotate(153 633.1 1222.5)"/><ellipse cx="629.3" cy="1226.1" rx="2.45" ry="1.7" transform="rotate(135 629.3 1226.1)"/><ellipse cx="623.5" cy="1229.1" rx="2.45" ry="1.7" transform="rotate(124 623.5 1229.1)"/><ellipse cx="615.9" cy="1233.3" rx="2.45" ry="1.7" transform="rotate(133 615.9 1233.3)"/><ellipse cx="609.6" cy="1236.2" rx="2.45" ry="1.7" transform="rotate(160 609.6 1236.2)"/><ellipse cx="604.4" cy="1236.1" rx="2.45" ry="1.7" transform="rotate(133 604.4 1236.1)"/><ellipse cx="597.2" cy="1236.8" rx="2.45" ry="1.7" transform="rotate(153 597.2 1236.8)"/><ellipse cx="590.5" cy="1237.6" rx="2.45" ry="1.7" transform="rotate(218 590.5 1237.6)"/><ellipse cx="582.6" cy="1236.5" rx="2.45" ry="1.7" transform="rotate(182 582.6 1236.5)"/><ellipse cx="576.4" cy="1235.0" rx="2.45" ry="1.7" transform="rotate(182 576.4 1235.0)"/><ellipse cx="571.1" cy="1233.0" rx="2.45" ry="1.7" transform="rotate(244 571.1 1233.0)"/><ellipse cx="564.6" cy="1230.4" rx="2.45" ry="1.7" transform="rotate(220 564.6 1230.4)"/><ellipse cx="557.5" cy="1225.4" rx="2.45" ry="1.7" transform="rotate(196 557.5 1225.4)"/><ellipse cx="553.1" cy="1222.3" rx="2.45" ry="1.7" transform="rotate(216 553.1 1222.3)"/><ellipse cx="546.5" cy="1216.7" rx="2.45" ry="1.7" transform="rotate(263 546.5 1216.7)"/><ellipse cx="544.7" cy="1212.3" rx="2.45" ry="1.7" transform="rotate(252 544.7 1212.3)"/><ellipse cx="539.3" cy="1205.1" rx="2.45" ry="1.7" transform="rotate(250 539.3 1205.1)"/><ellipse cx="537.4" cy="1200.8" rx="2.45" ry="1.7" transform="rotate(285 537.4 1200.8)"/><ellipse cx="533.7" cy="1192.7" rx="2.45" ry="1.7" transform="rotate(297 533.7 1192.7)"/><ellipse cx="533.7" cy="1187.1" rx="2.45" ry="1.7" transform="rotate(229 533.7 1187.1)"/><ellipse cx="531.9" cy="1179.7" rx="2.45" ry="1.7" transform="rotate(307 531.9 1179.7)"/><ellipse cx="532.0" cy="1172.3" rx="2.45" ry="1.7" transform="rotate(298 532.0 1172.3)"/><ellipse cx="532.9" cy="1166.1" rx="2.45" ry="1.7" transform="rotate(238 532.9 1166.1)"/><ellipse cx="535.1" cy="1158.8" rx="2.45" ry="1.7" transform="rotate(325 535.1 1158.8)"/><ellipse cx="537.2" cy="1152.6" rx="2.45" ry="1.7" transform="rotate(259 537.2 1152.6)"/><ellipse cx="539.3" cy="1147.1" rx="2.45" ry="1.7" transform="rotate(316 539.3 1147.1)"/><ellipse cx="543.4" cy="1142.0" rx="2.45" ry="1.7" transform="rotate(307 543.4 1142.0)"/><ellipse cx="548.0" cy="1135.4" rx="2.45" ry="1.7" transform="rotate(287 548.0 1135.4)"/><ellipse cx="553.3" cy="1131.0" rx="2.45" ry="1.7" transform="rotate(301 553.3 1131.0)"/><ellipse cx="557.4" cy="1125.8" rx="2.45" ry="1.7" transform="rotate(338 557.4 1125.8)"/><ellipse cx="564.6" cy="1122.2" rx="2.45" ry="1.7" transform="rotate(308 564.6 1122.2)"/><ellipse cx="569.1" cy="1119.2" rx="2.45" ry="1.7" transform="rotate(355 569.1 1119.2)"/><ellipse cx="576.2" cy="1118.3" rx="2.45" ry="1.7" transform="rotate(343 576.2 1118.3)"/><ellipse cx="583.6" cy="1115.9" rx="2.45" ry="1.7" transform="rotate(329 583.6 1115.9)"/><ellipse cx="590.3" cy="1114.4" rx="2.45" ry="1.7" transform="rotate(333 590.3 1114.4)"/><ellipse cx="595.7" cy="1115.3" rx="2.45" ry="1.7" transform="rotate(355 595.7 1115.3)"/><ellipse cx="604.0" cy="1116.4" rx="2.45" ry="1.7" transform="rotate(397 604.0 1116.4)"/><ellipse cx="610.9" cy="1117.6" rx="2.45" ry="1.7" transform="rotate(350 610.9 1117.6)"/><ellipse cx="617.8" cy="1120.4" rx="2.45" ry="1.7" transform="rotate(412 617.8 1120.4)"/><ellipse cx="622.3" cy="1122.7" rx="2.45" ry="1.7" transform="rotate(412 622.3 1122.7)"/><ellipse cx="628.9" cy="1125.4" rx="2.45" ry="1.7" transform="rotate(395 628.9 1125.4)"/><ellipse cx="633.4" cy="1130.4" rx="2.45" ry="1.7" transform="rotate(394 633.4 1130.4)"/><ellipse cx="639.9" cy="1135.3" rx="2.45" ry="1.7" transform="rotate(377 639.9 1135.3)"/><ellipse cx="642.9" cy="1140.9" rx="2.45" ry="1.7" transform="rotate(457 642.9 1140.9)"/><ellipse cx="646.0" cy="1146.2" rx="2.45" ry="1.7" transform="rotate(381 646.0 1146.2)"/><ellipse cx="650.5" cy="1152.4" rx="2.45" ry="1.7" transform="rotate(462 650.5 1152.4)"/><ellipse cx="653.2" cy="1159.7" rx="2.45" ry="1.7" transform="rotate(473 653.2 1159.7)"/><ellipse cx="653.3" cy="1165.7" rx="2.45" ry="1.7" transform="rotate(479 653.3 1165.7)"/><ellipse cx="653.9" cy="1173.5" rx="2.45" ry="1.7" transform="rotate(462 653.9 1173.5)"/><ellipse cx="648.4" cy="1179.4" rx="2.45" ry="1.7" transform="rotate(78 648.4 1179.4)"/><ellipse cx="647.1" cy="1185.6" rx="2.45" ry="1.7" transform="rotate(80 647.1 1185.6)"/><ellipse cx="646.9" cy="1193.0" rx="2.45" ry="1.7" transform="rotate(73 646.9 1193.0)"/><ellipse cx="642.8" cy="1200.1" rx="2.45" ry="1.7" transform="rotate(103 642.8 1200.1)"/><ellipse cx="640.5" cy="1206.3" rx="2.45" ry="1.7" transform="rotate(116 640.5 1206.3)"/><ellipse cx="637.1" cy="1210.2" rx="2.45" ry="1.7" transform="rotate(116 637.1 1210.2)"/><ellipse cx="630.9" cy="1216.3" rx="2.45" ry="1.7" transform="rotate(125 630.9 1216.3)"/><ellipse cx="625.6" cy="1220.3" rx="2.45" ry="1.7" transform="rotate(136 625.6 1220.3)"/><ellipse cx="620.7" cy="1224.9" rx="2.45" ry="1.7" transform="rotate(109 620.7 1224.9)"/><ellipse cx="615.6" cy="1226.2" rx="2.45" ry="1.7" transform="rotate(194 615.6 1226.2)"/><ellipse cx="609.2" cy="1229.7" rx="2.45" ry="1.7" transform="rotate(199 609.2 1229.7)"/><ellipse cx="602.2" cy="1230.5" rx="2.45" ry="1.7" transform="rotate(212 602.2 1230.5)"/><ellipse cx="594.8" cy="1231.2" rx="2.45" ry="1.7" transform="rotate(198 594.8 1231.2)"/><ellipse cx="588.7" cy="1231.0" rx="2.45" ry="1.7" transform="rotate(140 588.7 1231.0)"/><ellipse cx="580.9" cy="1230.8" rx="2.45" ry="1.7" transform="rotate(205 580.9 1230.8)"/><ellipse cx="574.4" cy="1227.4" rx="2.45" ry="1.7" transform="rotate(176 574.4 1227.4)"/><ellipse cx="568.5" cy="1226.5" rx="2.45" ry="1.7" transform="rotate(247 568.5 1226.5)"/><ellipse cx="563.3" cy="1222.2" rx="2.45" ry="1.7" transform="rotate(207 563.3 1222.2)"/><ellipse cx="557.0" cy="1218.8" rx="2.45" ry="1.7" transform="rotate(192 557.0 1218.8)"/><ellipse cx="551.8" cy="1213.3" rx="2.45" ry="1.7" transform="rotate(257 551.8 1213.3)"/><ellipse cx="547.8" cy="1207.9" rx="2.45" ry="1.7" transform="rotate(220 547.8 1207.9)"/><ellipse cx="545.1" cy="1202.7" rx="2.45" ry="1.7" transform="rotate(267 545.1 1202.7)"/><ellipse cx="542.6" cy="1197.0" rx="2.45" ry="1.7" transform="rotate(271 542.6 1197.0)"/><ellipse cx="540.6" cy="1190.2" rx="2.45" ry="1.7" transform="rotate(213 540.6 1190.2)"/><ellipse cx="538.8" cy="1182.9" rx="2.45" ry="1.7" transform="rotate(306 538.8 1182.9)"/><ellipse cx="537.3" cy="1175.4" rx="2.45" ry="1.7" transform="rotate(250 537.3 1175.4)"/><ellipse cx="539.1" cy="1170.5" rx="2.45" ry="1.7" transform="rotate(276 539.1 1170.5)"/><ellipse cx="540.0" cy="1162.4" rx="2.45" ry="1.7" transform="rotate(261 540.0 1162.4)"/><ellipse cx="541.6" cy="1156.4" rx="2.45" ry="1.7" transform="rotate(307 541.6 1156.4)"/><ellipse cx="544.5" cy="1149.4" rx="2.45" ry="1.7" transform="rotate(314 544.5 1149.4)"/><ellipse cx="547.3" cy="1144.7" rx="2.45" ry="1.7" transform="rotate(286 547.3 1144.7)"/><ellipse cx="552.8" cy="1139.1" rx="2.45" ry="1.7" transform="rotate(334 552.8 1139.1)"/><ellipse cx="557.2" cy="1135.0" rx="2.45" ry="1.7" transform="rotate(296 557.2 1135.0)"/><ellipse cx="561.9" cy="1130.1" rx="2.45" ry="1.7" transform="rotate(333 561.9 1130.1)"/><ellipse cx="568.5" cy="1127.1" rx="2.45" ry="1.7" transform="rotate(377 568.5 1127.1)"/><ellipse cx="575.2" cy="1124.5" rx="2.45" ry="1.7" transform="rotate(368 575.2 1124.5)"/><ellipse cx="581.7" cy="1121.4" rx="2.45" ry="1.7" transform="rotate(312 581.7 1121.4)"/><ellipse cx="588.2" cy="1120.7" rx="2.45" ry="1.7" transform="rotate(385 588.2 1120.7)"/><ellipse cx="596.0" cy="1121.8" rx="2.45" ry="1.7" transform="rotate(344 596.0 1121.8)"/><ellipse cx="601.0" cy="1122.0" rx="2.45" ry="1.7" transform="rotate(411 601.0 1122.0)"/><ellipse cx="608.9" cy="1122.5" rx="2.45" ry="1.7" transform="rotate(365 608.9 1122.5)"/><ellipse cx="615.7" cy="1125.8" rx="2.45" ry="1.7" transform="rotate(362 615.7 1125.8)"/><ellipse cx="621.9" cy="1128.1" rx="2.45" ry="1.7" transform="rotate(355 621.9 1128.1)"/><ellipse cx="627.0" cy="1132.1" rx="2.45" ry="1.7" transform="rotate(372 627.0 1132.1)"/><ellipse cx="631.3" cy="1136.8" rx="2.45" ry="1.7" transform="rotate(377 631.3 1136.8)"/><ellipse cx="636.3" cy="1141.1" rx="2.45" ry="1.7" transform="rotate(424 636.3 1141.1)"/><ellipse cx="639.4" cy="1147.1" rx="2.45" ry="1.7" transform="rotate(402 639.4 1147.1)"/><ellipse cx="643.3" cy="1153.8" rx="2.45" ry="1.7" transform="rotate(409 643.3 1153.8)"/><ellipse cx="646.3" cy="1158.8" rx="2.45" ry="1.7" transform="rotate(436 646.3 1158.8)"/><ellipse cx="646.9" cy="1165.3" rx="2.45" ry="1.7" transform="rotate(429 646.9 1165.3)"/><ellipse cx="648.8" cy="1173.0" rx="2.45" ry="1.7" transform="rotate(410 648.8 1173.0)"/><ellipse cx="551.9" cy="1149.0" rx="2.45" ry="1.7" transform="rotate(-65 551.9 1149.0)"/><ellipse cx="556.9" cy="1143.7" rx="2.45" ry="1.7" transform="rotate(-7 556.9 1143.7)"/><ellipse cx="561.7" cy="1138.4" rx="2.45" ry="1.7" transform="rotate(-53 561.7 1138.4)"/><ellipse cx="567.3" cy="1133.8" rx="2.45" ry="1.7" transform="rotate(13 567.3 1133.8)"/><ellipse cx="573.9" cy="1131.5" rx="2.45" ry="1.7" transform="rotate(-3 573.9 1131.5)"/><ellipse cx="580.3" cy="1129.6" rx="2.45" ry="1.7" transform="rotate(20 580.3 1129.6)"/><ellipse cx="587.3" cy="1126.9" rx="2.45" ry="1.7" transform="rotate(-15 587.3 1126.9)"/><ellipse cx="595.3" cy="1127.1" rx="2.45" ry="1.7" transform="rotate(-28 595.3 1127.1)"/><ellipse cx="600.6" cy="1127.5" rx="2.45" ry="1.7" transform="rotate(21 600.6 1127.5)"/><ellipse cx="609.0" cy="1130.2" rx="2.45" ry="1.7" transform="rotate(30 609.0 1130.2)"/><ellipse cx="614.7" cy="1131.8" rx="2.45" ry="1.7" transform="rotate(-6 614.7 1131.8)"/><ellipse cx="620.7" cy="1135.2" rx="2.45" ry="1.7" transform="rotate(72 620.7 1135.2)"/><ellipse cx="626.0" cy="1139.3" rx="2.45" ry="1.7" transform="rotate(69 626.0 1139.3)"/><ellipse cx="631.6" cy="1145.9" rx="2.45" ry="1.7" transform="rotate(18 631.6 1145.9)"/><ellipse cx="636.6" cy="1151.0" rx="2.45" ry="1.7" transform="rotate(58 636.6 1151.0)"/><ellipse cx="639.0" cy="1155.8" rx="2.45" ry="1.7" transform="rotate(56 639.0 1155.8)"/><ellipse cx="641.4" cy="1164.3" rx="2.45" ry="1.7" transform="rotate(105 641.4 1164.3)"/><ellipse cx="642.7" cy="1169.7" rx="2.45" ry="1.7" transform="rotate(57 642.7 1169.7)"/><ellipse cx="643.2" cy="1177.3" rx="2.45" ry="1.7" transform="rotate(121 643.2 1177.3)"/><ellipse cx="641.7" cy="1183.8" rx="2.45" ry="1.7" transform="rotate(90 641.7 1183.8)"/><ellipse cx="640.2" cy="1191.3" rx="2.45" ry="1.7" transform="rotate(74 640.2 1191.3)"/><ellipse cx="638.3" cy="1197.5" rx="2.45" ry="1.7" transform="rotate(151 638.3 1197.5)"/><ellipse cx="615.6" cy="1220.4" rx="2.45" ry="1.7" transform="rotate(176 615.6 1220.4)"/><ellipse cx="608.7" cy="1223.7" rx="2.45" ry="1.7" transform="rotate(128 608.7 1223.7)"/><ellipse cx="600.2" cy="1225.2" rx="2.45" ry="1.7" transform="rotate(184 600.2 1225.2)"/><ellipse cx="593.2" cy="1225.5" rx="2.45" ry="1.7" transform="rotate(188 593.2 1225.5)"/><ellipse cx="585.5" cy="1225.2" rx="2.45" ry="1.7" transform="rotate(184 585.5 1225.2)"/><ellipse cx="578.4" cy="1222.5" rx="2.45" ry="1.7" transform="rotate(209 578.4 1222.5)"/><ellipse cx="571.3" cy="1219.9" rx="2.45" ry="1.7" transform="rotate(231 571.3 1219.9)"/><ellipse cx="564.3" cy="1216.0" rx="2.45" ry="1.7" transform="rotate(187 564.3 1216.0)"/><ellipse cx="582.0" cy="1135.2" rx="2.45" ry="1.7" transform="rotate(-49 582.0 1135.2)"/><ellipse cx="588.5" cy="1133.9" rx="2.45" ry="1.7" transform="rotate(-12 588.5 1133.9)"/><ellipse cx="595.3" cy="1133.8" rx="2.45" ry="1.7" transform="rotate(15 595.3 1133.8)"/><ellipse cx="601.4" cy="1133.4" rx="2.45" ry="1.7" transform="rotate(36 601.4 1133.4)"/><ellipse cx="608.3" cy="1136.4" rx="2.45" ry="1.7" transform="rotate(21 608.3 1136.4)"/><ellipse cx="614.9" cy="1137.9" rx="2.45" ry="1.7" transform="rotate(-4 614.9 1137.9)"/><ellipse cx="621.3" cy="1142.2" rx="2.45" ry="1.7" transform="rotate(60 621.3 1142.2)"/><ellipse cx="625.3" cy="1147.8" rx="2.45" ry="1.7" transform="rotate(92 625.3 1147.8)"/><ellipse cx="630.1" cy="1152.0" rx="2.45" ry="1.7" transform="rotate(94 630.1 1152.0)"/><ellipse cx="633.0" cy="1157.6" rx="2.45" ry="1.7" transform="rotate(103 633.0 1157.6)"/><ellipse cx="619.0" cy="1160.3" rx="2.45" ry="1.7" transform="rotate(103 619.0 1160.3)"/><ellipse cx="619.7" cy="1167.1" rx="2.45" ry="1.7" transform="rotate(82 619.7 1167.1)"/><ellipse cx="615.7" cy="1173.0" rx="2.45" ry="1.7" transform="rotate(127 615.7 1173.0)"/><ellipse cx="611.0" cy="1177.4" rx="2.45" ry="1.7" transform="rotate(128 611.0 1177.4)"/><ellipse cx="605.3" cy="1179.7" rx="2.45" ry="1.7" transform="rotate(129 605.3 1179.7)"/><ellipse cx="599.1" cy="1179.3" rx="2.45" ry="1.7" transform="rotate(231 599.1 1179.3)"/><ellipse cx="592.3" cy="1177.6" rx="2.45" ry="1.7" transform="rotate(186 592.3 1177.6)"/><ellipse cx="588.6" cy="1171.9" rx="2.45" ry="1.7" transform="rotate(241 588.6 1171.9)"/><ellipse cx="586.0" cy="1166.1" rx="2.45" ry="1.7" transform="rotate(293 586.0 1166.1)"/><ellipse cx="585.7" cy="1159.6" rx="2.45" ry="1.7" transform="rotate(316 585.7 1159.6)"/><ellipse cx="587.6" cy="1153.4" rx="2.45" ry="1.7" transform="rotate(315 587.6 1153.4)"/><ellipse cx="592.8" cy="1148.7" rx="2.45" ry="1.7" transform="rotate(305 592.8 1148.7)"/><ellipse cx="599.5" cy="1146.3" rx="2.45" ry="1.7" transform="rotate(337 599.5 1146.3)"/><ellipse cx="625.4" cy="1162.7" rx="2.45" ry="1.7" transform="rotate(60 625.4 1162.7)"/><ellipse cx="624.0" cy="1168.9" rx="2.45" ry="1.7" transform="rotate(134 624.0 1168.9)"/><ellipse cx="622.6" cy="1174.8" rx="2.45" ry="1.7" transform="rotate(164 622.6 1174.8)"/><ellipse cx="618.3" cy="1180.2" rx="2.45" ry="1.7" transform="rotate(120 618.3 1180.2)"/><ellipse cx="613.0" cy="1182.8" rx="2.45" ry="1.7" transform="rotate(120 613.0 1182.8)"/><ellipse cx="606.6" cy="1185.7" rx="2.45" ry="1.7" transform="rotate(171 606.6 1185.7)"/><ellipse cx="600.0" cy="1185.5" rx="2.45" ry="1.7" transform="rotate(162 600.0 1185.5)"/><ellipse cx="594.1" cy="1183.8" rx="2.45" ry="1.7" transform="rotate(157 594.1 1183.8)"/><ellipse cx="588.8" cy="1180.9" rx="2.45" ry="1.7" transform="rotate(205 588.8 1180.9)"/><ellipse cx="583.8" cy="1176.9" rx="2.45" ry="1.7" transform="rotate(242 583.8 1176.9)"/><ellipse cx="580.7" cy="1171.2" rx="2.45" ry="1.7" transform="rotate(248 580.7 1171.2)"/><ellipse cx="578.9" cy="1164.8" rx="2.45" ry="1.7" transform="rotate(243 578.9 1164.8)"/><ellipse cx="580.7" cy="1158.4" rx="2.45" ry="1.7" transform="rotate(295 580.7 1158.4)"/><ellipse cx="582.2" cy="1151.4" rx="2.45" ry="1.7" transform="rotate(291 582.2 1151.4)"/><ellipse cx="586.8" cy="1147.5" rx="2.45" ry="1.7" transform="rotate(328 586.8 1147.5)"/><ellipse cx="591.8" cy="1143.1" rx="2.45" ry="1.7" transform="rotate(345 591.8 1143.1)"/><ellipse cx="620.3" cy="1139.4" rx="2.45" ry="1.7" transform="rotate(58 620.3 1139.4)"/><ellipse cx="625.4" cy="1144.3" rx="2.45" ry="1.7" transform="rotate(9 625.4 1144.3)"/><ellipse cx="628.7" cy="1151.0" rx="2.45" ry="1.7" transform="rotate(41 628.7 1151.0)"/><ellipse cx="631.3" cy="1157.1" rx="2.45" ry="1.7" transform="rotate(34 631.3 1157.1)"/><ellipse cx="632.2" cy="1164.8" rx="2.45" ry="1.7" transform="rotate(61 632.2 1164.8)"/><ellipse cx="594.4" cy="1191.2" rx="2.45" ry="1.7" transform="rotate(197 594.4 1191.2)"/><ellipse cx="587.3" cy="1188.5" rx="2.45" ry="1.7" transform="rotate(182 587.3 1188.5)"/><ellipse cx="582.6" cy="1183.9" rx="2.45" ry="1.7" transform="rotate(183 582.6 1183.9)"/><ellipse cx="577.2" cy="1178.4" rx="2.45" ry="1.7" transform="rotate(258 577.2 1178.4)"/><ellipse cx="574.6" cy="1172.9" rx="2.45" ry="1.7" transform="rotate(273 574.6 1172.9)"/><ellipse cx="573.2" cy="1165.5" rx="2.45" ry="1.7" transform="rotate(261 573.2 1165.5)"/><ellipse cx="574.5" cy="1158.9" rx="2.45" ry="1.7" transform="rotate(255 574.5 1158.9)"/><ellipse cx="575.9" cy="1152.4" rx="2.45" ry="1.7" transform="rotate(315 575.9 1152.4)"/></g>
<g fill="#3d3157"><ellipse cx="259.5" cy="1199.2" rx="1.75" ry="1.45" transform="rotate(112 259.5 1199.2)"/><ellipse cx="258.4" cy="1203.4" rx="1.75" ry="1.45" transform="rotate(104 258.4 1203.4)"/><ellipse cx="255.8" cy="1207.1" rx="1.75" ry="1.45" transform="rotate(92 255.8 1207.1)"/><ellipse cx="251.8" cy="1209.8" rx="1.75" ry="1.45" transform="rotate(116 251.8 1209.8)"/><ellipse cx="247.7" cy="1211.6" rx="1.75" ry="1.45" transform="rotate(137 247.7 1211.6)"/><ellipse cx="243.2" cy="1211.5" rx="1.75" ry="1.45" transform="rotate(229 243.2 1211.5)"/><ellipse cx="238.7" cy="1209.9" rx="1.75" ry="1.45" transform="rotate(250 238.7 1209.9)"/><ellipse cx="235.0" cy="1207.7" rx="1.75" ry="1.45" transform="rotate(205 235.0 1207.7)"/><ellipse cx="232.6" cy="1203.7" rx="1.75" ry="1.45" transform="rotate(225 232.6 1203.7)"/><ellipse cx="231.0" cy="1199.1" rx="1.75" ry="1.45" transform="rotate(269 231.0 1199.1)"/><ellipse cx="231.0" cy="1194.6" rx="1.75" ry="1.45" transform="rotate(284 231.0 1194.6)"/><ellipse cx="232.4" cy="1190.7" rx="1.75" ry="1.45" transform="rotate(270 232.4 1190.7)"/><ellipse cx="235.1" cy="1186.6" rx="1.75" ry="1.45" transform="rotate(299 235.1 1186.6)"/><ellipse cx="238.7" cy="1184.0" rx="1.75" ry="1.45" transform="rotate(315 238.7 1184.0)"/><ellipse cx="243.2" cy="1182.4" rx="1.75" ry="1.45" transform="rotate(329 243.2 1182.4)"/><ellipse cx="247.6" cy="1182.6" rx="1.75" ry="1.45" transform="rotate(403 247.6 1182.6)"/><ellipse cx="252.0" cy="1184.2" rx="1.75" ry="1.45" transform="rotate(431 252.0 1184.2)"/><ellipse cx="255.4" cy="1186.6" rx="1.75" ry="1.45" transform="rotate(427 255.4 1186.6)"/><ellipse cx="258.2" cy="1190.2" rx="1.75" ry="1.45" transform="rotate(381 258.2 1190.2)"/><ellipse cx="259.9" cy="1194.8" rx="1.75" ry="1.45" transform="rotate(448 259.9 1194.8)"/><ellipse cx="254.8" cy="1202.9" rx="1.75" ry="1.45" transform="rotate(140 254.8 1202.9)"/><ellipse cx="252.0" cy="1206.2" rx="1.75" ry="1.45" transform="rotate(140 252.0 1206.2)"/><ellipse cx="247.9" cy="1208.3" rx="1.75" ry="1.45" transform="rotate(165 247.9 1208.3)"/><ellipse cx="243.5" cy="1207.9" rx="1.75" ry="1.45" transform="rotate(207 243.5 1207.9)"/><ellipse cx="239.2" cy="1206.9" rx="1.75" ry="1.45" transform="rotate(241 239.2 1206.9)"/><ellipse cx="236.3" cy="1203.7" rx="1.75" ry="1.45" transform="rotate(248 236.3 1203.7)"/><ellipse cx="234.4" cy="1199.9" rx="1.75" ry="1.45" transform="rotate(225 234.4 1199.9)"/><ellipse cx="234.4" cy="1195.5" rx="1.75" ry="1.45" transform="rotate(302 234.4 1195.5)"/><ellipse cx="249.6" cy="1186.7" rx="1.75" ry="1.45" transform="rotate(13 249.6 1186.7)"/><ellipse cx="253.9" cy="1190.0" rx="1.75" ry="1.45" transform="rotate(46 253.9 1190.0)"/><ellipse cx="256.5" cy="1194.4" rx="1.75" ry="1.45" transform="rotate(106 256.5 1194.4)"/><ellipse cx="341.0" cy="1197.2" rx="1.95" ry="1.6" transform="rotate(90 341.0 1197.2)"/><ellipse cx="340.2" cy="1201.6" rx="1.95" ry="1.6" transform="rotate(152 340.2 1201.6)"/><ellipse cx="337.6" cy="1205.5" rx="1.95" ry="1.6" transform="rotate(101 337.6 1205.5)"/><ellipse cx="334.5" cy="1209.2" rx="1.95" ry="1.6" transform="rotate(148 334.5 1209.2)"/><ellipse cx="330.3" cy="1211.5" rx="1.95" ry="1.6" transform="rotate(147 330.3 1211.5)"/><ellipse cx="325.8" cy="1213.4" rx="1.95" ry="1.6" transform="rotate(210 325.8 1213.4)"/><ellipse cx="320.7" cy="1213.7" rx="1.95" ry="1.6" transform="rotate(195 320.7 1213.7)"/><ellipse cx="316.1" cy="1212.5" rx="1.95" ry="1.6" transform="rotate(234 316.1 1212.5)"/><ellipse cx="311.5" cy="1210.8" rx="1.95" ry="1.6" transform="rotate(240 311.5 1210.8)"/><ellipse cx="308.2" cy="1207.7" rx="1.95" ry="1.6" transform="rotate(191 308.2 1207.7)"/><ellipse cx="305.5" cy="1203.5" rx="1.95" ry="1.6" transform="rotate(203 305.5 1203.5)"/><ellipse cx="303.8" cy="1199.4" rx="1.95" ry="1.6" transform="rotate(241 303.8 1199.4)"/><ellipse cx="303.2" cy="1194.8" rx="1.95" ry="1.6" transform="rotate(238 303.2 1194.8)"/><ellipse cx="303.5" cy="1190.0" rx="1.95" ry="1.6" transform="rotate(241 303.5 1190.0)"/><ellipse cx="305.4" cy="1185.0" rx="1.95" ry="1.6" transform="rotate(268 305.4 1185.0)"/><ellipse cx="308.0" cy="1181.6" rx="1.95" ry="1.6" transform="rotate(300 308.0 1181.6)"/><ellipse cx="311.5" cy="1178.3" rx="1.95" ry="1.6" transform="rotate(371 311.5 1178.3)"/><ellipse cx="316.1" cy="1176.3" rx="1.95" ry="1.6" transform="rotate(305 316.1 1176.3)"/><ellipse cx="320.6" cy="1175.5" rx="1.95" ry="1.6" transform="rotate(334 320.6 1175.5)"/><ellipse cx="325.9" cy="1175.9" rx="1.95" ry="1.6" transform="rotate(329 325.9 1175.9)"/><ellipse cx="330.6" cy="1177.3" rx="1.95" ry="1.6" transform="rotate(354 330.6 1177.3)"/><ellipse cx="334.2" cy="1179.9" rx="1.95" ry="1.6" transform="rotate(402 334.2 1179.9)"/><ellipse cx="338.0" cy="1183.4" rx="1.95" ry="1.6" transform="rotate(433 338.0 1183.4)"/><ellipse cx="339.8" cy="1187.3" rx="1.95" ry="1.6" transform="rotate(398 339.8 1187.3)"/><ellipse cx="341.2" cy="1192.3" rx="1.95" ry="1.6" transform="rotate(469 341.2 1192.3)"/><ellipse cx="314.1" cy="1181.3" rx="1.95" ry="1.6" transform="rotate(-3 314.1 1181.3)"/><ellipse cx="319.0" cy="1179.0" rx="1.95" ry="1.6" transform="rotate(16 319.0 1179.0)"/><ellipse cx="323.9" cy="1178.9" rx="1.95" ry="1.6" transform="rotate(-18 323.9 1178.9)"/><ellipse cx="328.5" cy="1180.4" rx="1.95" ry="1.6" transform="rotate(-18 328.5 1180.4)"/><ellipse cx="332.3" cy="1182.9" rx="1.95" ry="1.6" transform="rotate(20 332.3 1182.9)"/><ellipse cx="336.0" cy="1186.9" rx="1.95" ry="1.6" transform="rotate(57 336.0 1186.9)"/><ellipse cx="337.0" cy="1200.0" rx="1.95" ry="1.6" transform="rotate(151 337.0 1200.0)"/><ellipse cx="334.4" cy="1203.8" rx="1.95" ry="1.6" transform="rotate(102 334.4 1203.8)"/><ellipse cx="331.0" cy="1207.1" rx="1.95" ry="1.6" transform="rotate(156 331.0 1207.1)"/><ellipse cx="326.3" cy="1209.7" rx="1.95" ry="1.6" transform="rotate(163 326.3 1209.7)"/><ellipse cx="321.5" cy="1210.3" rx="1.95" ry="1.6" transform="rotate(145 321.5 1210.3)"/><ellipse cx="316.6" cy="1209.4" rx="1.95" ry="1.6" transform="rotate(226 316.6 1209.4)"/><ellipse cx="312.3" cy="1206.7" rx="1.95" ry="1.6" transform="rotate(190 312.3 1206.7)"/><ellipse cx="309.1" cy="1202.9" rx="1.95" ry="1.6" transform="rotate(264 309.1 1202.9)"/><ellipse cx="307.0" cy="1198.4" rx="1.95" ry="1.6" transform="rotate(247 307.0 1198.4)"/><ellipse cx="306.4" cy="1193.5" rx="1.95" ry="1.6" transform="rotate(244 306.4 1193.5)"/><ellipse cx="307.6" cy="1189.2" rx="1.95" ry="1.6" transform="rotate(326 307.6 1189.2)"/></g>
<g fill="#6b5b92" stroke="#2d2342" stroke-width="1.5"><ellipse cx="735.3" cy="1238.0" rx="3.0" ry="2.2" transform="rotate(-162 735.3 1238.0)"/><ellipse cx="727.8" cy="1234.1" rx="3.0" ry="2.2" transform="rotate(-130 727.8 1234.1)"/><ellipse cx="719.9" cy="1229.9" rx="3.0" ry="2.2" transform="rotate(-139 719.9 1229.9)"/><ellipse cx="713.0" cy="1225.7" rx="3.0" ry="2.2" transform="rotate(-120 713.0 1225.7)"/><ellipse cx="704.3" cy="1221.5" rx="3.0" ry="2.2" transform="rotate(-172 704.3 1221.5)"/><ellipse cx="697.6" cy="1217.3" rx="3.0" ry="2.2" transform="rotate(-122 697.6 1217.3)"/><ellipse cx="690.4" cy="1211.9" rx="3.0" ry="2.2" transform="rotate(-156 690.4 1211.9)"/><ellipse cx="682.6" cy="1205.4" rx="3.0" ry="2.2" transform="rotate(-106 682.6 1205.4)"/><ellipse cx="679.3" cy="1197.4" rx="3.0" ry="2.2" transform="rotate(-78 679.3 1197.4)"/><ellipse cx="675.2" cy="1189.9" rx="3.0" ry="2.2" transform="rotate(-101 675.2 1189.9)"/><ellipse cx="676.1" cy="1179.0" rx="3.0" ry="2.2" transform="rotate(-60 676.1 1179.0)"/><ellipse cx="677.5" cy="1170.4" rx="3.0" ry="2.2" transform="rotate(-101 677.5 1170.4)"/><ellipse cx="681.3" cy="1161.5" rx="3.0" ry="2.2" transform="rotate(-31 681.3 1161.5)"/><ellipse cx="684.6" cy="1153.7" rx="3.0" ry="2.2" transform="rotate(-95 684.6 1153.7)"/><ellipse cx="690.2" cy="1146.1" rx="3.0" ry="2.2" transform="rotate(-80 690.2 1146.1)"/><ellipse cx="694.5" cy="1139.0" rx="3.0" ry="2.2" transform="rotate(-36 694.5 1139.0)"/><ellipse cx="700.6" cy="1133.1" rx="3.0" ry="2.2" transform="rotate(-32 700.6 1133.1)"/><ellipse cx="706.1" cy="1126.3" rx="3.0" ry="2.2" transform="rotate(-54 706.1 1126.3)"/><ellipse cx="713.3" cy="1120.8" rx="3.0" ry="2.2" transform="rotate(-12 713.3 1120.8)"/><ellipse cx="718.7" cy="1115.0" rx="3.0" ry="2.2" transform="rotate(-10 718.7 1115.0)"/><ellipse cx="728.1" cy="1109.4" rx="3.0" ry="2.2" transform="rotate(-50 728.1 1109.4)"/><ellipse cx="734.8" cy="1105.5" rx="3.0" ry="2.2" transform="rotate(1 734.8 1105.5)"/><ellipse cx="744.9" cy="1103.8" rx="3.0" ry="2.2" transform="rotate(18 744.9 1103.8)"/><ellipse cx="753.2" cy="1102.2" rx="3.0" ry="2.2" transform="rotate(-40 753.2 1102.2)"/><ellipse cx="762.2" cy="1103.6" rx="3.0" ry="2.2" transform="rotate(-12 762.2 1103.6)"/><ellipse cx="770.9" cy="1105.0" rx="3.0" ry="2.2" transform="rotate(-26 770.9 1105.0)"/><ellipse cx="779.9" cy="1108.2" rx="3.0" ry="2.2" transform="rotate(50 779.9 1108.2)"/><ellipse cx="787.3" cy="1112.8" rx="3.0" ry="2.2" transform="rotate(69 787.3 1112.8)"/><ellipse cx="794.8" cy="1119.7" rx="3.0" ry="2.2" transform="rotate(62 794.8 1119.7)"/><ellipse cx="799.5" cy="1126.0" rx="3.0" ry="2.2" transform="rotate(47 799.5 1126.0)"/><ellipse cx="806.0" cy="1133.6" rx="3.0" ry="2.2" transform="rotate(85 806.0 1133.6)"/><ellipse cx="808.9" cy="1141.5" rx="3.0" ry="2.2" transform="rotate(97 808.9 1141.5)"/><ellipse cx="811.5" cy="1150.2" rx="3.0" ry="2.2" transform="rotate(42 811.5 1150.2)"/><ellipse cx="814.3" cy="1157.7" rx="3.0" ry="2.2" transform="rotate(93 814.3 1157.7)"/><ellipse cx="818.2" cy="1165.7" rx="3.0" ry="2.2" transform="rotate(71 818.2 1165.7)"/><ellipse cx="820.5" cy="1174.6" rx="3.0" ry="2.2" transform="rotate(44 820.5 1174.6)"/><ellipse cx="823.6" cy="1182.0" rx="3.0" ry="2.2" transform="rotate(96 823.6 1182.0)"/><ellipse cx="742.8" cy="1233.8" rx="3.0" ry="2.2" transform="rotate(-166 742.8 1233.8)"/><ellipse cx="734.6" cy="1229.2" rx="3.0" ry="2.2" transform="rotate(-185 734.6 1229.2)"/><ellipse cx="726.8" cy="1224.9" rx="3.0" ry="2.2" transform="rotate(-130 726.8 1224.9)"/><ellipse cx="719.5" cy="1221.7" rx="3.0" ry="2.2" transform="rotate(-140 719.5 1221.7)"/><ellipse cx="711.6" cy="1217.1" rx="3.0" ry="2.2" transform="rotate(-159 711.6 1217.1)"/><ellipse cx="705.3" cy="1212.7" rx="3.0" ry="2.2" transform="rotate(-111 705.3 1212.7)"/><ellipse cx="697.5" cy="1207.5" rx="3.0" ry="2.2" transform="rotate(-161 697.5 1207.5)"/><ellipse cx="691.8" cy="1202.6" rx="3.0" ry="2.2" transform="rotate(-151 691.8 1202.6)"/><ellipse cx="687.8" cy="1196.9" rx="3.0" ry="2.2" transform="rotate(-120 687.8 1196.9)"/><ellipse cx="683.6" cy="1189.9" rx="3.0" ry="2.2" transform="rotate(-96 683.6 1189.9)"/><ellipse cx="682.3" cy="1184.0" rx="3.0" ry="2.2" transform="rotate(-92 682.3 1184.0)"/><ellipse cx="683.5" cy="1176.2" rx="3.0" ry="2.2" transform="rotate(-65 683.5 1176.2)"/><ellipse cx="686.4" cy="1168.2" rx="3.0" ry="2.2" transform="rotate(-68 686.4 1168.2)"/><ellipse cx="690.3" cy="1161.0" rx="3.0" ry="2.2" transform="rotate(-93 690.3 1161.0)"/><ellipse cx="693.8" cy="1153.7" rx="3.0" ry="2.2" transform="rotate(-84 693.8 1153.7)"/><ellipse cx="698.1" cy="1146.8" rx="3.0" ry="2.2" transform="rotate(-35 698.1 1146.8)"/><ellipse cx="704.3" cy="1139.9" rx="3.0" ry="2.2" transform="rotate(-79 704.3 1139.9)"/><ellipse cx="708.7" cy="1134.0" rx="3.0" ry="2.2" transform="rotate(-41 708.7 1134.0)"/><ellipse cx="714.8" cy="1128.1" rx="3.0" ry="2.2" transform="rotate(-68 714.8 1128.1)"/><ellipse cx="722.1" cy="1122.8" rx="3.0" ry="2.2" transform="rotate(-75 722.1 1122.8)"/><ellipse cx="728.1" cy="1117.7" rx="3.0" ry="2.2" transform="rotate(-36 728.1 1117.7)"/><ellipse cx="735.8" cy="1114.7" rx="3.0" ry="2.2" transform="rotate(-8 735.8 1114.7)"/><ellipse cx="741.8" cy="1111.1" rx="3.0" ry="2.2" transform="rotate(3 741.8 1111.1)"/><ellipse cx="749.9" cy="1109.9" rx="3.0" ry="2.2" transform="rotate(-17 749.9 1109.9)"/><ellipse cx="757.0" cy="1109.7" rx="3.0" ry="2.2" transform="rotate(35 757.0 1109.7)"/><ellipse cx="766.2" cy="1111.6" rx="3.0" ry="2.2" transform="rotate(23 766.2 1111.6)"/><ellipse cx="774.3" cy="1112.9" rx="3.0" ry="2.2" transform="rotate(20 774.3 1112.9)"/><ellipse cx="780.2" cy="1117.6" rx="3.0" ry="2.2" transform="rotate(65 780.2 1117.6)"/><ellipse cx="787.5" cy="1122.0" rx="3.0" ry="2.2" transform="rotate(52 787.5 1122.0)"/><ellipse cx="791.8" cy="1127.3" rx="3.0" ry="2.2" transform="rotate(70 791.8 1127.3)"/><ellipse cx="797.6" cy="1134.8" rx="3.0" ry="2.2" transform="rotate(68 797.6 1134.8)"/><ellipse cx="801.0" cy="1141.3" rx="3.0" ry="2.2" transform="rotate(80 801.0 1141.3)"/><ellipse cx="803.7" cy="1148.8" rx="3.0" ry="2.2" transform="rotate(78 803.7 1148.8)"/><ellipse cx="806.2" cy="1156.8" rx="3.0" ry="2.2" transform="rotate(94 806.2 1156.8)"/><ellipse cx="809.7" cy="1165.2" rx="3.0" ry="2.2" transform="rotate(52 809.7 1165.2)"/><ellipse cx="812.2" cy="1173.3" rx="3.0" ry="2.2" transform="rotate(79 812.2 1173.3)"/><ellipse cx="815.2" cy="1181.6" rx="3.0" ry="2.2" transform="rotate(103 815.2 1181.6)"/></g>
<circle cx="245.3" cy="1195.6" r="6.3" fill="url(#gOo)" stroke="#221b2e" stroke-width="1.7"/><circle cx="245.3" cy="1195.6" r="2.7" fill="#b093cf" stroke="#221b2e" stroke-width="1.3"/><circle cx="245.60000000000002" cy="1195.6" r="1.0" fill="#45296f"/>
<circle cx="322.5" cy="1192.8" r="8.0" fill="url(#gOo)" stroke="#221b2e" stroke-width="1.7"/><circle cx="322.5" cy="1192.8" r="3.4" fill="#b093cf" stroke="#221b2e" stroke-width="1.3"/><circle cx="322.8" cy="1192.8" r="1.0" fill="#45296f"/>
<circle cx="452.6" cy="1167.6" r="9.4" fill="url(#gOo)" stroke="#221b2e" stroke-width="1.7"/><circle cx="452.6" cy="1167.6" r="4.0" fill="#b093cf" stroke="#221b2e" stroke-width="1.3"/><circle cx="452.6" cy="1167.6" r="2.5" fill="#a183c4" stroke="#221b2e" stroke-width="0.9"/><circle cx="452.90000000000003" cy="1167.6" r="1.1" fill="#45296f"/>
<circle cx="602.5" cy="1163.2" r="11.3" fill="url(#gOo)" stroke="#221b2e" stroke-width="1.7"/><circle cx="602.5" cy="1163.2" r="4.9" fill="#b093cf" stroke="#221b2e" stroke-width="1.3"/><circle cx="602.5" cy="1163.2" r="3.1" fill="#a183c4" stroke="#221b2e" stroke-width="0.9"/><circle cx="602.8" cy="1163.2" r="1.4" fill="#45296f"/>
<g fill="#9e1d3a" stroke="#4f0c1d" stroke-width="0.9"><circle cx="752.8" cy="1202.9" r="1.85"/><circle cx="760.5" cy="1203.9" r="1.85"/><circle cx="776.0" cy="1203.9" r="1.85"/><circle cx="754.2" cy="1206.8" r="1.85"/><circle cx="763.4" cy="1208.3" r="1.85"/><circle cx="771.2" cy="1207.3" r="1.85"/><circle cx="751.0" cy="1211.8" r="1.85"/><circle cx="757.3" cy="1214.6" r="1.85"/><circle cx="767.8" cy="1214.4" r="1.85"/><circle cx="756.0" cy="1219.6" r="1.85"/><circle cx="762.3" cy="1218.4" r="1.85"/><circle cx="788.3" cy="1207.8" r="1.85"/><circle cx="778.9" cy="1215.3" r="1.85"/><circle cx="784.1" cy="1215.0" r="1.85"/><circle cx="794.9" cy="1216.7" r="1.85"/><circle cx="804.8" cy="1218.9" r="1.85"/><circle cx="814.3" cy="1221.8" r="1.85"/><circle cx="771.2" cy="1220.8" r="1.85"/><circle cx="783.0" cy="1220.8" r="1.85"/><circle cx="785.9" cy="1226.0" r="1.85"/><circle cx="795.7" cy="1227.6" r="1.85"/><circle cx="805.1" cy="1227.9" r="1.85"/><circle cx="767.8" cy="1228.8" r="1.85"/><circle cx="759.3" cy="1233.9" r="1.85"/><circle cx="768.8" cy="1236.8" r="1.85"/><circle cx="758.6" cy="1239.9" r="1.85"/><circle cx="766.3" cy="1245.1" r="1.85"/><circle cx="758.6" cy="1249.4" r="1.85"/><circle cx="758.4" cy="1255.9" r="1.85"/><circle cx="767.5" cy="1256.2" r="1.85"/><circle cx="759.3" cy="1263.2" r="1.85"/><circle cx="769.9" cy="1264.9" r="1.85"/><circle cx="758.1" cy="1268.8" r="1.85"/><circle cx="765.7" cy="1272.2" r="1.85"/><circle cx="769.7" cy="1274.8" r="1.85"/><circle cx="779.9" cy="1269.3" r="1.85"/><circle cx="776.5" cy="1274.4" r="1.85"/><circle cx="787.2" cy="1274.6" r="1.85"/><circle cx="775.8" cy="1281.1" r="1.85"/><circle cx="784.9" cy="1281.9" r="1.85"/><circle cx="797.8" cy="1275.6" r="1.85"/><circle cx="796.9" cy="1282.2" r="1.85"/><circle cx="806.1" cy="1271.7" r="1.85"/><circle cx="811.1" cy="1269.3" r="1.85"/><circle cx="815.1" cy="1264.4" r="1.85"/><circle cx="812.8" cy="1275.1" r="1.85"/><circle cx="817.7" cy="1273.4" r="1.85"/><circle cx="822.5" cy="1276.5" r="1.85"/><circle cx="824.5" cy="1269.3" r="1.85"/><circle cx="825.9" cy="1263.2" r="1.85"/><circle cx="823.2" cy="1258.3" r="1.85"/><circle cx="823.0" cy="1250.2" r="1.85"/><circle cx="825.9" cy="1246.0" r="1.85"/><circle cx="825.6" cy="1240.5" r="1.85"/><circle cx="821.5" cy="1236.8" r="1.85"/><circle cx="826.4" cy="1233.9" r="1.85"/><circle cx="820.1" cy="1230.8" r="1.85"/><circle cx="814.8" cy="1231.5" r="1.85"/><circle cx="809.2" cy="1235.1" r="1.85"/><circle cx="815.9" cy="1243.1" r="1.85"/><circle cx="832.9" cy="1231.2" r="1.85"/><circle cx="837.5" cy="1245.7" r="1.85"/><circle cx="835.1" cy="1256.7" r="1.85"/><circle cx="835.9" cy="1261.5" r="1.85"/><circle cx="837.0" cy="1271.7" r="1.85"/><circle cx="805.6" cy="1281.4" r="1.85"/><circle cx="810.2" cy="1280.4" r="1.85"/><circle cx="806.1" cy="1285.7" r="1.85"/><circle cx="812.6" cy="1285.3" r="1.85"/><circle cx="801.5" cy="1288.4" r="1.85"/><circle cx="818.4" cy="1288.2" r="1.85"/><circle cx="796.4" cy="1291.8" r="1.85"/><circle cx="805.1" cy="1292.0" r="1.85"/><circle cx="799.3" cy="1299.1" r="1.85"/></g>
<circle cx="791.5" cy="1249.9" r="15.8" fill="url(#gOo)" stroke="#221b2e" stroke-width="2.0"/><circle cx="791.5" cy="1249.9" r="6.8" fill="#b093cf" stroke="#221b2e" stroke-width="1.5"/><circle cx="791.5" cy="1249.9" r="4.3" fill="#a183c4" stroke="#221b2e" stroke-width="1.1"/><circle cx="791.8" cy="1249.9" r="1.9" fill="#45296f"/>
<path d="M913.0,1116.4 C914.2,1115.9 917.3,1113.9 920.1,1113.1 C922.8,1112.4 926.3,1111.6 929.4,1111.7 C932.6,1111.9 936.0,1112.7 938.8,1114.1 C941.6,1115.4 944.3,1117.4 946.3,1119.7 C948.4,1122.0 950.2,1126.7 951.0,1128.1 C952.4,1128.1 956.5,1127.5 959.5,1128.1 C962.4,1128.8 966.2,1130.0 968.9,1131.9 C971.5,1133.8 973.9,1136.7 975.4,1139.4 C976.9,1142.1 977.5,1145.4 977.8,1147.9 C978.1,1150.3 977.4,1152.9 977.3,1154.0 C978.4,1154.7 981.9,1156.2 983.9,1158.2 C985.8,1160.1 987.9,1163.0 989.0,1165.7 C990.1,1168.3 990.7,1171.2 990.4,1174.1 C990.2,1177.1 989.2,1180.6 987.6,1183.5 C986.1,1186.4 982.1,1190.2 981.0,1191.5 C981.0,1193.1 981.4,1198.1 980.6,1201.3 C979.8,1204.5 978.6,1207.9 976.4,1210.7 C974.1,1213.5 968.5,1217.0 967.0,1218.2 C966.2,1219.3 964.6,1222.9 962.3,1224.8 C959.9,1226.7 956.2,1228.9 952.9,1229.5 C949.6,1230.1 944.3,1228.7 942.6,1228.5 C942.0,1229.6 940.7,1232.9 938.8,1235.1 C936.9,1237.3 934.0,1240.3 931.3,1241.7 C928.7,1243.1 925.4,1243.7 922.9,1243.6 C920.4,1243.4 918.3,1242.1 916.3,1240.7 C914.3,1239.3 911.6,1236.0 910.7,1235.1 C909.7,1235.2 907.9,1236.2 905.0,1235.6 C902.2,1235.0 897.2,1233.5 893.8,1231.4 C890.3,1229.2 886.0,1224.3 884.4,1222.9 C883.0,1222.4 878.8,1222.1 876.0,1220.1 C873.1,1218.1 869.6,1214.2 867.5,1210.7 C865.4,1207.3 864.1,1202.9 863.3,1199.5 C862.5,1196.0 862.9,1191.6 862.8,1190.1 C861.9,1188.8 858.4,1185.4 857.2,1182.6 C855.9,1179.8 855.5,1176.2 855.3,1173.2 C855.2,1170.2 855.6,1167.2 856.3,1164.7 C857.0,1162.2 859.0,1159.3 859.5,1158.2 C859.6,1156.6 859.3,1151.9 860.0,1148.8 C860.7,1145.7 862.0,1141.9 863.8,1139.4 C865.5,1136.9 868.1,1135.1 870.3,1133.8 C872.6,1132.4 876.2,1131.8 877.4,1131.4 C878.2,1129.9 880.1,1125.1 882.5,1122.5 C885.0,1119.9 888.8,1117.4 891.9,1116.0 C895.0,1114.5 897.8,1114.0 901.3,1114.1 C904.8,1114.2 911.1,1116.0 913.0,1116.4 Z" fill="#f6d884" stroke="#2b1c0c" stroke-width="1.9" stroke-linejoin="round"/>
<path d="M913.5,1148.8 C914.6,1149.6 917.7,1152.4 920.1,1153.5 C922.4,1154.6 925.1,1155.4 927.6,1155.4 C930.0,1155.4 932.7,1152.2 934.6,1153.5 C936.5,1154.7 936.4,1160.0 938.8,1162.9 C941.3,1165.7 948.4,1167.9 949.1,1170.4 C949.9,1172.9 944.7,1175.2 943.5,1177.9 C942.3,1180.5 942.3,1184.1 942.1,1186.3 C942.0,1188.6 943.9,1190.4 942.6,1191.5 C941.3,1192.6 937.1,1191.9 934.1,1192.9 C931.2,1193.9 927.4,1197.7 924.8,1197.6 C922.1,1197.4 921.2,1193.1 918.2,1191.9 C915.2,1190.8 909.1,1192.4 906.9,1190.5 C904.7,1188.7 906.3,1183.4 905.0,1180.7 C903.8,1178.0 900.5,1175.8 899.4,1174.1 C898.3,1172.4 897.2,1171.9 898.5,1170.4 C899.7,1168.8 904.9,1167.1 906.9,1164.7 C909.0,1162.4 909.6,1159.0 910.7,1156.3 C911.8,1153.6 913.0,1150.0 913.5,1148.8 Z" fill="url(#gGold2)" stroke="#2b1c0c" stroke-width="1.5" stroke-linejoin="round"/>
<g stroke="#2b1c0c" stroke-width="1.5" fill="none" stroke-linecap="round">
<path d="M913.0,1116.4 C912.9,1119.2 912.0,1127.4 912.1,1132.8 C912.2,1138.2 913.3,1146.1 913.5,1148.8"/>
<path d="M951.0,1128.1 C949.5,1130.0 944.4,1135.2 941.6,1139.4 C938.9,1143.6 935.8,1151.1 934.6,1153.5"/>
<path d="M977.3,1154.0 C975.3,1155.6 969.8,1161.1 965.1,1163.8 C960.4,1166.5 951.8,1169.3 949.1,1170.4"/>
<path d="M981.0,1191.5 C978.7,1189.5 972.1,1183.3 967.0,1179.8 C961.8,1176.2 952.9,1171.9 950.1,1170.4"/>
<path d="M967.0,1218.2 C965.1,1215.7 959.8,1207.7 955.7,1203.2 C951.6,1198.8 944.8,1193.4 942.6,1191.5"/>
<path d="M942.6,1228.5 C941.3,1225.9 938.0,1217.4 935.1,1212.6 C932.1,1207.7 926.5,1201.6 924.8,1199.5"/>
<path d="M906.0,1235.6 C907.1,1232.5 909.4,1223.3 912.6,1217.3 C915.7,1211.3 922.7,1202.4 924.8,1199.5"/>
<path d="M884.4,1222.9 C885.3,1220.4 887.5,1212.4 890.0,1207.9 C892.5,1203.4 896.6,1198.6 899.4,1195.7 C902.2,1192.8 905.7,1191.4 906.9,1190.5"/>
<path d="M862.8,1190.1 C865.0,1189.1 871.9,1186.6 876.0,1184.4 C880.0,1182.3 884.3,1179.3 887.2,1176.9 C890.2,1174.6 892.7,1171.5 893.8,1170.4"/>
<path d="M859.5,1158.2 C861.8,1159.3 868.5,1162.9 873.1,1164.7 C877.8,1166.6 883.5,1168.5 887.2,1169.4 C891.0,1170.4 894.3,1170.2 895.7,1170.4"/>
<path d="M877.4,1131.4 C878.5,1133.7 882.0,1141.4 884.4,1145.0 C886.8,1148.7 889.7,1151.4 891.9,1153.5 C894.1,1155.6 896.6,1157.0 897.5,1157.7"/>
</g>
<circle cx="927.6" cy="1126.3" r="8" fill="url(#gHi)"/>
<circle cx="960.4" cy="1146.9" r="8" fill="url(#gHi)"/>
<circle cx="979.2" cy="1172.2" r="7" fill="url(#gHi)"/>
<circle cx="967.0" cy="1199.5" r="7.5" fill="url(#gHi)"/>
<circle cx="951.0" cy="1217.3" r="7.5" fill="url(#gHi)"/>
<circle cx="900.4" cy="1218.2" r="7.5" fill="url(#gHi)"/>
<circle cx="876.9" cy="1203.2" r="7.5" fill="url(#gHi)"/>
<circle cx="867.5" cy="1175.1" r="7.5" fill="url(#gHi)"/>
<circle cx="873.1" cy="1152.5" r="7.5" fill="url(#gHi)"/>
<circle cx="892.9" cy="1131.0" r="7.5" fill="url(#gHi)"/>
<circle cx="921.9" cy="1174.1" r="9" fill="url(#gHi)"/>
<path d="M 1050.3,1182.6 C 1049.1,1175.4 1052.7,1168.1 1056.3,1164.5 C 1055.1,1158.4 1060.0,1154.8 1066.0,1153.6 C 1066.0,1146.3 1072.1,1139.1 1079.3,1137.1 C 1084.2,1135.4 1087.8,1137.8 1090.2,1140.3 C 1092.6,1135.4 1101.1,1134.2 1106.0,1136.6 C 1110.8,1139.1 1113.2,1145.1 1113.2,1150.0 C 1119.3,1151.2 1124.1,1157.2 1122.9,1163.3 C 1126.5,1168.1 1126.5,1177.8 1124.1,1182.6 C 1120.5,1189.9 1115.6,1189.9 1112.0,1188.7 C 1113.2,1194.7 1107.2,1198.4 1101.1,1197.2 C 1097.5,1203.2 1089.0,1203.2 1085.4,1198.4 C 1080.5,1203.2 1073.3,1202.0 1069.6,1197.2 C 1063.6,1199.6 1056.3,1194.7 1056.3,1189.9 C 1052.7,1188.7 1051.0,1186.3 1050.3,1182.6 Z" fill="#f6d884" stroke="#2b1c0c" stroke-width="1.8"/>
<g stroke="#2b1c0c" stroke-width="1.5" fill="none" stroke-linecap="round">
<path d="M 1066.0,1153.6 C 1072.1,1154.8 1076.9,1159.6 1079.3,1164.5"/>
<path d="M 1090.2,1140.3 C 1090.2,1147.5 1092.6,1154.8 1097.5,1158.4"/>
<path d="M 1113.2,1150.0 C 1108.4,1152.4 1103.5,1156.0 1101.1,1162.1"/>
<path d="M 1122.9,1163.3 C 1115.6,1163.8 1109.6,1165.7 1103.5,1168.1"/>
<path d="M 1112.0,1188.7 C 1109.6,1182.6 1104.7,1177.8 1098.7,1175.4"/>
<path d="M 1101.1,1197.2 C 1101.1,1189.9 1098.7,1182.6 1095.1,1177.8"/>
<path d="M 1085.4,1198.4 C 1086.6,1191.1 1086.6,1183.8 1086.6,1179.0"/>
<path d="M 1069.6,1197.2 C 1074.5,1191.1 1078.1,1183.8 1079.3,1177.8"/>
<path d="M 1056.3,1189.9 C 1063.6,1186.3 1070.8,1180.2 1076.9,1174.2"/>
<path d="M 1056.3,1164.5 C 1063.6,1165.7 1070.8,1167.6 1076.9,1168.6"/>
</g>
<path d="M 1079.3,1166.2 L 1086.6,1160.8 L 1092.6,1159.6 L 1098.7,1164.5 L 1097.0,1171.7 L 1092.6,1175.9 L 1084.9,1174.9 L 1081.0,1170.5 Z" fill="#c4921c" stroke="#2b1c0c" stroke-width="1.3" stroke-linejoin="round"/>
<circle cx="1089.7" cy="1167.6" r="6" fill="url(#gHi)"/>
<circle cx="1078.1" cy="1146.3" r="5" fill="url(#gHi)"/>
<circle cx="1102.3" cy="1143.9" r="5" fill="url(#gHi)"/>
<circle cx="1116.9" cy="1158.4" r="5" fill="url(#gHi)"/>
<circle cx="1115.6" cy="1176.6" r="5" fill="url(#gHi)"/>
<circle cx="1097.5" cy="1191.1" r="5" fill="url(#gHi)"/>
<circle cx="1076.9" cy="1192.3" r="5" fill="url(#gHi)"/>
<circle cx="1060.0" cy="1180.2" r="5" fill="url(#gHi)"/>
<circle cx="1061.2" cy="1162.1" r="5" fill="url(#gHi)"/>
<path d="M 1193.8,1175.4 C 1193.1,1171.7 1198.0,1169.3 1202.8,1169.3 C 1202.8,1162.1 1211.3,1156.0 1219.8,1157.2 C 1221.0,1148.7 1230.7,1143.9 1237.9,1146.3 C 1242.8,1148.7 1246.4,1153.6 1244.0,1157.2 C 1250.0,1157.2 1254.9,1162.1 1253.7,1165.2 C 1259.7,1164.5 1263.3,1169.3 1261.6,1173.4 C 1259.7,1179.0 1252.4,1180.2 1247.6,1179.0 C 1244.0,1183.8 1235.5,1187.0 1229.4,1183.8 C 1223.4,1187.0 1214.9,1185.1 1213.7,1180.2 C 1207.7,1182.6 1195.5,1181.4 1193.8,1175.4 Z" fill="#f6d884" stroke="#2b1c0c" stroke-width="1.8"/>
<g stroke="#2b1c0c" stroke-width="1.5" fill="none" stroke-linecap="round">
<path d="M 1202.8,1169.3 C 1208.9,1170.5 1213.7,1174.2 1213.7,1180.2"/>
<path d="M 1219.8,1157.2 C 1222.2,1163.3 1227.0,1166.9 1233.1,1168.1"/>
<path d="M 1244.0,1157.2 C 1239.1,1159.6 1235.5,1163.8 1233.1,1168.1"/>
<path d="M 1253.7,1165.2 C 1248.8,1168.1 1246.4,1173.0 1247.6,1179.0"/>
<path d="M 1229.4,1183.8 C 1228.2,1177.8 1224.6,1173.4 1219.8,1171.7"/>
<path d="M 1233.1,1168.1 C 1237.9,1171.7 1242.8,1174.2 1247.6,1179.0"/>
</g>
<circle cx="1211.3" cy="1164.5" r="5" fill="url(#gHi)"/>
<circle cx="1230.7" cy="1154.8" r="5" fill="url(#gHi)"/>
<circle cx="1247.6" cy="1168.1" r="5" fill="url(#gHi)"/>
<circle cx="1221.0" cy="1179.0" r="5" fill="url(#gHi)"/>
<circle cx="1239.1" cy="1179.0" r="5" fill="url(#gHi)"/>
<path d="M 1345.7,1166.9 C 1344.5,1160.8 1348.1,1156.0 1354.1,1156.0 C 1356.6,1151.2 1366.2,1148.7 1371.1,1153.1 C 1377.1,1151.2 1383.2,1156.0 1382.0,1162.1 C 1385.6,1166.9 1384.4,1173.0 1380.8,1175.4 C 1382.0,1181.4 1375.9,1186.3 1371.1,1183.8 C 1366.2,1188.7 1357.8,1186.3 1356.6,1181.4 C 1350.5,1181.4 1345.7,1175.4 1348.1,1171.7 C 1346.4,1170.5 1345.9,1168.6 1345.7,1166.9 Z" fill="url(#gAlb)" stroke="#3a2d63" stroke-width="1.8"/>
<g stroke="#3a2d63" stroke-width="1.3" fill="none" stroke-linecap="round">
<path d="M 1354.1,1156.0 C 1357.8,1158.4 1360.2,1160.8 1361.4,1163.8"/>
<path d="M 1371.1,1153.1 C 1369.9,1157.2 1368.7,1159.6 1366.7,1162.1"/>
<path d="M 1382.0,1162.1 C 1377.1,1162.8 1373.5,1164.5 1371.1,1166.2"/>
<path d="M 1380.8,1175.4 C 1377.1,1173.4 1374.0,1172.5 1371.1,1172.5"/>
<path d="M 1371.1,1183.8 C 1369.9,1180.2 1368.7,1177.3 1366.7,1175.4"/>
<path d="M 1356.6,1181.4 C 1359.0,1178.3 1360.9,1175.9 1361.9,1173.4"/>
<path d="M 1348.1,1171.7 C 1352.9,1170.5 1356.6,1170.0 1359.5,1169.3"/>
</g>
</g>
<g id="endo">
<defs>
<linearGradient id="gEndo" x1="0" y1="2240" x2="0" y2="2327" gradientUnits="userSpaceOnUse">
<stop offset="0" stop-color="#f0c8b5"/><stop offset="0.26" stop-color="#efc6b2"/><stop offset="0.42" stop-color="#e8b9a6"/><stop offset="0.63" stop-color="#dba797"/><stop offset="0.85" stop-color="#d9a595"/><stop offset="1" stop-color="#deac9b"/></linearGradient>
<clipPath id="cEndo"><rect x="231.3" y="1990" width="1198.1000000000001" height="337.5"/></clipPath>
</defs>
<path d="M235.3,2030.6 C237.6,2032.1 237.3,2030.6 242.1,2035.1 C246.9,2039.7 246.4,2038.7 249.7,2044.2 C253.0,2049.8 251.7,2045.2 251.9,2051.8 C252.2,2058.3 251.2,2055.3 250.4,2063.9 C249.7,2072.5 249.4,2068.4 249.7,2077.5 C249.9,2086.6 249.9,2082.0 251.2,2091.1 C252.4,2100.2 251.7,2099.4 253.5,2104.7 C255.2,2110.0 254.2,2107.3 256.5,2107.0 C258.8,2106.8 257.7,2104.7 260.3,2104.0 C262.8,2103.2 262.0,2102.5 264.0,2104.7 C266.1,2107.0 266.1,2105.8 266.3,2110.8 C266.6,2115.8 266.1,2113.8 264.8,2119.9 C263.5,2125.9 262.8,2122.4 262.5,2129.0 C262.3,2135.5 263.8,2132.5 264.0,2139.6 C264.3,2146.6 264.8,2144.6 263.3,2150.1 C261.8,2155.7 261.8,2151.2 259.5,2156.2 C257.2,2161.2 258.2,2157.7 256.5,2165.3 C254.7,2172.8 255.5,2169.3 254.2,2178.9 C253.0,2188.5 253.2,2185.5 252.7,2194.0 C252.2,2202.6 251.9,2199.8 252.7,2204.6 C253.5,2209.4 252.7,2207.1 255.0,2208.4 C257.2,2209.7 256.7,2209.7 259.5,2208.4 C262.3,2207.1 261.3,2209.4 263.3,2204.6 C265.3,2199.8 264.0,2202.6 265.6,2194.0 C267.1,2185.5 265.8,2187.2 267.8,2178.9 C269.9,2170.6 268.1,2173.6 271.6,2169.1 C275.1,2164.5 273.9,2166.3 278.4,2165.3 C283.0,2164.3 280.9,2164.0 285.2,2166.0 C289.5,2168.1 288.5,2167.5 291.3,2171.3 C294.1,2175.1 293.8,2173.6 293.6,2177.4 C293.3,2181.2 294.1,2180.2 290.5,2182.7 C287.0,2185.2 287.0,2183.2 283.0,2185.0 C278.9,2186.7 280.7,2184.4 278.4,2188.0 C276.2,2191.5 277.2,2188.5 276.2,2195.5 C275.1,2202.6 274.9,2200.1 275.4,2209.2 C275.9,2218.2 276.2,2213.7 277.7,2222.8 C279.2,2231.9 278.7,2226.3 279.9,2236.4 C281.2,2246.5 280.7,2245.0 281.5,2253.1 C282.2,2261.1 281.2,2257.1 282.2,2260.6 C283.2,2264.1 283.0,2264.1 284.5,2263.6 C286.0,2263.1 285.8,2265.7 286.7,2259.1 C287.7,2252.5 287.1,2254.1 287.2,2244.0 C287.4,2233.9 286.9,2238.9 287.2,2228.8 C287.6,2218.7 287.2,2222.0 288.3,2213.7 C289.4,2205.4 288.5,2208.2 290.5,2203.9 C292.6,2199.6 292.0,2201.1 294.3,2200.8 C296.6,2200.6 296.3,2200.3 297.3,2203.1 C298.4,2205.9 298.4,2204.6 297.3,2209.2 C296.3,2213.7 295.1,2212.2 294.3,2216.7 C293.6,2221.3 293.8,2219.8 295.1,2222.8 C296.3,2225.8 295.8,2225.1 298.1,2225.8 C300.4,2226.6 299.6,2227.1 301.9,2225.1 C304.2,2223.0 302.6,2223.0 304.9,2219.8 C307.2,2216.5 305.9,2217.2 308.7,2215.2 C311.5,2213.2 310.7,2213.2 313.2,2213.7 C315.8,2214.2 314.2,2214.0 316.3,2216.7 C318.3,2219.5 319.8,2219.5 319.3,2222.0 C318.8,2224.6 318.0,2223.3 314.7,2224.3 C311.5,2225.3 312.0,2223.8 309.4,2225.1 C306.9,2226.3 306.9,2226.1 307.2,2228.1 C307.4,2230.1 307.2,2229.3 310.2,2231.1 C313.2,2232.9 312.7,2231.1 316.3,2233.4 C319.8,2235.6 319.0,2234.4 320.8,2237.9 C322.6,2241.4 321.8,2239.4 321.6,2244.0 C321.3,2248.5 320.0,2246.7 320.0,2251.5 C320.0,2256.3 319.8,2255.3 321.6,2258.3 C323.3,2261.4 323.1,2261.4 325.3,2260.6 C327.6,2259.9 325.8,2260.6 328.4,2256.1 C330.9,2251.5 329.4,2251.8 332.9,2247.0 C336.4,2242.2 334.4,2244.2 339.0,2241.7 C343.5,2239.2 342.2,2239.7 346.5,2239.4 C350.8,2239.2 348.8,2238.4 351.8,2240.9 C354.8,2243.5 353.6,2242.5 355.6,2247.0 C357.6,2251.5 355.4,2251.3 357.9,2254.6 C360.4,2257.8 358.9,2256.3 363.2,2256.8 C367.5,2257.3 365.9,2257.6 370.7,2256.1 C375.5,2254.6 373.5,2252.0 377.5,2252.3 C381.6,2252.5 380.1,2253.6 382.8,2256.8 C385.6,2260.1 383.9,2259.4 385.9,2262.1 C387.9,2264.9 386.4,2265.2 388.9,2265.2 C391.4,2265.2 390.4,2264.7 393.4,2262.1 C396.5,2259.6 396.0,2261.6 398.0,2257.6 C400.0,2253.6 398.7,2255.1 399.5,2250.0 C400.2,2245.0 398.7,2246.5 400.2,2242.5 C401.8,2238.4 400.8,2239.9 404.0,2237.9 C407.3,2235.9 406.8,2236.4 410.1,2236.4 C413.4,2236.4 412.4,2235.9 413.9,2237.9 C415.4,2239.9 415.1,2238.9 414.6,2242.5 C414.1,2246.0 413.1,2244.0 412.4,2248.5 C411.6,2253.1 411.1,2252.3 412.4,2256.1 C413.6,2259.9 413.4,2259.4 416.1,2259.9 C418.9,2260.4 418.2,2260.4 420.7,2257.6 C423.2,2254.8 421.7,2255.6 423.7,2251.5 C425.7,2247.5 424.0,2248.5 426.7,2245.5 C429.5,2242.5 428.7,2242.7 432.0,2242.5 C435.3,2242.2 435.3,2241.7 436.6,2244.7 C437.8,2247.8 436.8,2246.7 435.8,2251.5 C434.8,2256.3 433.8,2254.1 433.5,2259.1 C433.3,2264.1 433.0,2263.1 435.1,2266.7 C437.1,2270.2 436.3,2268.4 439.6,2269.7 C442.9,2271.0 441.6,2272.0 444.9,2270.5 C448.2,2268.9 446.9,2269.9 449.4,2265.2 C452.0,2260.4 450.7,2262.1 452.5,2256.1 C454.2,2250.0 452.7,2251.8 454.7,2247.0 C456.7,2242.2 455.2,2244.5 458.5,2241.7 C461.8,2238.9 460.0,2239.9 464.6,2238.7 C469.1,2237.4 468.3,2238.1 472.1,2237.9 C476.0,2237.7 474.5,2235.7 476.1,2238.1 C477.6,2240.5 476.1,2240.8 476.8,2245.2 C477.6,2249.6 476.3,2249.5 478.3,2251.3 C480.3,2253.0 479.6,2253.0 482.9,2250.5 C486.1,2248.0 484.4,2248.0 488.2,2243.7 C491.9,2239.4 489.2,2240.4 494.2,2237.7 C499.3,2234.9 496.7,2236.9 503.3,2235.4 C509.9,2233.9 508.3,2234.4 513.9,2233.1 C519.4,2231.9 517.4,2230.1 519.9,2231.6 C522.5,2233.1 521.5,2232.6 521.5,2237.7 C521.5,2242.7 521.2,2240.2 519.9,2246.7 C518.7,2253.3 517.7,2252.8 517.7,2257.3 C517.7,2261.9 517.2,2259.6 519.9,2260.4 C522.7,2261.1 522.5,2261.6 526.0,2259.6 C529.5,2257.6 528.0,2259.6 530.5,2254.3 C533.1,2249.0 532.0,2252.3 533.6,2243.7 C535.1,2235.1 534.1,2235.6 535.1,2228.6 C536.1,2221.5 534.1,2226.0 536.6,2222.5 C539.1,2219.0 537.6,2220.8 542.6,2218.0 C547.7,2215.2 546.9,2215.8 551.7,2214.2 C556.5,2212.6 554.7,2210.9 557.0,2213.1 C559.3,2215.4 557.8,2213.3 558.5,2221.0 C559.3,2228.7 558.8,2227.1 559.3,2236.1 C559.8,2245.2 558.8,2242.9 560.0,2248.2 C561.3,2253.5 560.8,2251.3 563.1,2252.0 C565.3,2252.8 564.8,2253.8 566.9,2250.5 C568.9,2247.2 567.6,2251.0 569.1,2242.2 C570.6,2233.4 570.1,2236.1 571.4,2224.0 C572.7,2211.9 571.4,2214.4 572.9,2205.9 C574.4,2197.3 573.2,2201.9 575.9,2198.3 C578.7,2194.7 577.9,2195.2 581.2,2195.0 C584.5,2194.7 583.0,2194.4 585.8,2197.5 C588.5,2200.7 587.8,2198.1 589.6,2204.4 C591.3,2210.7 589.8,2207.4 591.1,2216.5 C592.3,2225.5 591.6,2223.8 593.3,2231.6 C595.1,2239.4 594.1,2236.8 596.4,2239.9 C598.6,2243.0 597.6,2242.2 600.1,2241.0 C602.7,2239.7 602.9,2242.8 603.9,2236.1 C604.9,2229.5 603.9,2232.6 603.2,2221.0 C602.4,2209.4 602.7,2212.9 601.7,2201.3 C600.6,2189.7 599.6,2194.8 600.1,2186.2 C600.6,2177.6 600.4,2181.2 603.2,2175.6 C605.9,2170.1 604.9,2172.2 608.5,2169.6 C612.0,2166.9 610.5,2167.7 613.8,2167.7 C617.0,2167.7 616.3,2165.9 618.3,2169.6 C620.3,2173.2 619.3,2170.6 619.8,2178.6 C620.3,2186.7 619.1,2184.2 619.8,2193.8 C620.6,2203.3 620.1,2199.3 622.1,2207.4 C624.1,2215.5 623.6,2210.9 625.9,2218.0 C628.1,2225.0 627.1,2220.5 628.9,2228.6 C630.7,2236.6 629.7,2235.1 631.2,2242.2 C632.7,2249.3 631.7,2247.7 633.4,2249.8 C635.2,2251.8 635.0,2251.8 636.5,2248.2 C638.0,2244.7 637.7,2245.7 638.0,2239.2 C638.2,2232.6 636.7,2236.1 637.2,2228.6 C637.7,2221.0 638.5,2225.5 639.5,2216.5 C640.5,2207.4 640.8,2211.4 640.2,2201.3 C639.7,2191.2 639.7,2196.3 638.0,2186.2 C636.2,2176.1 636.7,2181.2 635.0,2171.1 C633.2,2161.0 632.4,2162.7 632.7,2155.9 C632.9,2149.1 631.9,2154.2 635.7,2150.6 C639.5,2147.1 639.2,2148.4 644.0,2145.3 C648.8,2142.3 647.6,2141.1 650.1,2141.6 C652.6,2142.1 650.1,2141.1 651.6,2146.9 C653.1,2152.7 652.1,2150.9 654.6,2159.0 C657.1,2167.0 656.4,2165.0 659.2,2171.1 C661.9,2177.1 660.4,2176.1 662.9,2177.1 C665.5,2178.1 665.7,2178.1 666.7,2174.1 C667.7,2170.1 667.5,2173.1 666.0,2165.0 C664.5,2156.9 664.7,2160.0 662.2,2149.9 C659.7,2139.8 659.9,2142.3 658.4,2134.7 C656.9,2127.2 656.6,2131.0 657.7,2127.2 C658.7,2123.4 656.9,2126.9 661.4,2123.4 C666.0,2119.9 667.0,2118.4 671.3,2116.6 C675.6,2114.8 672.3,2114.1 674.3,2118.1 C676.3,2122.1 674.8,2120.1 677.3,2128.7 C679.8,2137.3 679.1,2133.7 681.9,2143.8 C684.6,2153.9 683.4,2151.4 685.6,2159.0 C687.9,2166.5 686.4,2165.0 688.7,2166.5 C690.9,2168.0 691.2,2168.0 692.5,2163.5 C693.7,2159.0 693.2,2161.5 692.5,2152.9 C691.7,2144.3 691.7,2148.4 690.2,2137.8 C688.7,2127.2 689.4,2131.2 687.9,2121.1 C686.4,2111.0 686.4,2115.6 685.6,2107.5 C684.9,2099.4 683.4,2104.0 685.6,2096.9 C687.9,2089.9 687.2,2093.1 692.5,2086.3 C697.8,2079.5 697.0,2080.3 701.5,2076.5 C706.1,2072.7 703.3,2074.7 706.1,2075.0 C708.9,2075.2 707.3,2072.4 709.9,2077.2 C712.4,2082.0 711.6,2080.3 713.6,2089.3 C715.7,2098.4 715.7,2094.4 715.9,2104.5 C716.2,2114.6 714.7,2109.5 714.4,2119.6 C714.1,2129.7 714.7,2123.6 715.2,2134.7 C715.7,2145.8 716.4,2141.8 715.9,2152.9 C715.4,2164.0 715.2,2160.5 713.6,2168.0 C712.1,2175.6 711.1,2172.7 711.4,2175.6 C711.6,2178.5 712.8,2178.1 714.4,2176.8 C716.0,2175.5 714.3,2176.0 716.1,2171.7 C718.0,2167.4 717.2,2170.7 720.0,2164.0 C722.8,2157.4 724.1,2159.4 724.6,2151.7 C725.1,2144.0 722.0,2149.7 721.5,2141.0 C721.0,2132.3 721.8,2136.4 723.1,2125.6 C724.3,2114.9 724.9,2119.5 725.4,2108.7 C725.9,2098.0 725.9,2103.6 724.6,2093.3 C723.3,2083.1 723.6,2087.7 721.5,2078.0 C719.5,2068.2 720.2,2072.9 718.5,2064.1 C716.7,2055.4 715.9,2057.5 716.1,2051.9 C716.4,2046.2 715.1,2050.8 719.2,2047.2 C723.3,2043.7 721.8,2044.9 728.4,2041.1 C735.1,2037.3 734.3,2037.0 739.2,2035.7 C744.1,2034.4 741.0,2033.9 743.0,2037.3 C745.1,2040.6 744.1,2036.7 745.3,2045.7 C746.6,2054.7 746.1,2050.3 746.9,2064.1 C747.6,2078.0 746.9,2071.8 747.6,2087.2 C748.4,2102.6 748.2,2094.9 749.2,2110.2 C750.2,2125.6 749.4,2121.0 750.7,2133.3 C752.0,2145.6 751.2,2141.0 753.0,2147.1 C754.8,2153.3 753.5,2151.7 756.1,2151.7 C758.7,2151.7 758.4,2152.2 760.7,2147.1 C763.0,2142.0 762.0,2146.1 763.0,2136.4 C764.0,2126.6 764.0,2131.8 763.8,2117.9 C763.5,2104.1 763.3,2110.2 762.2,2094.9 C761.2,2079.5 761.2,2087.2 760.7,2071.8 C760.2,2056.5 760.5,2064.1 760.7,2048.8 C761.0,2033.4 760.5,2035.7 761.5,2025.7 C762.5,2015.7 759.4,2022.9 763.8,2018.8 C768.1,2014.7 766.9,2016.3 774.5,2013.4 C782.2,2010.6 779.1,2011.6 786.8,2010.4 C794.5,2009.1 792.7,2008.6 797.6,2009.6 C802.5,2010.6 799.6,2008.1 801.4,2013.4 C803.2,2018.8 801.4,2016.5 803.0,2025.7 C804.5,2035.0 803.7,2030.9 806.0,2041.1 C808.3,2051.3 808.3,2046.2 809.9,2056.5 C811.4,2066.7 810.6,2060.6 810.6,2071.8 C810.6,2083.1 809.4,2079.0 809.9,2090.3 C810.4,2101.5 810.1,2098.5 812.2,2105.6 C814.2,2112.8 813.5,2109.5 816.0,2111.8 C818.6,2114.1 817.6,2114.1 819.9,2112.5 C822.2,2111.0 821.4,2113.1 822.9,2107.2 C824.5,2101.3 824.2,2105.6 824.5,2094.9 C824.7,2084.1 824.5,2087.7 823.7,2074.9 C822.9,2062.1 822.9,2067.7 822.2,2056.5 C821.4,2045.2 820.9,2051.3 821.4,2041.1 C821.9,2030.9 821.9,2035.0 823.7,2025.7 C825.5,2016.5 824.2,2019.1 826.8,2013.4 C829.3,2007.8 827.8,2010.6 831.4,2008.8 C835.0,2007.0 833.4,2007.3 837.5,2008.1 C841.6,2008.8 838.6,2008.8 843.7,2011.1 C848.8,2013.4 847.5,2011.9 852.9,2015.0 C858.3,2018.0 855.7,2016.3 859.8,2020.4 C863.9,2024.5 862.6,2021.4 865.2,2027.3 C867.8,2033.2 866.7,2028.3 867.5,2038.0 C868.3,2047.8 867.8,2044.2 867.5,2056.5 C867.2,2068.8 867.8,2062.6 866.7,2074.9 C865.7,2087.2 865.4,2081.0 864.4,2093.3 C863.4,2105.6 863.9,2099.5 863.7,2111.8 C863.4,2124.1 863.1,2117.9 863.7,2130.2 C864.2,2142.5 863.4,2138.9 865.2,2148.7 C867.0,2158.4 866.0,2154.5 869.0,2159.4 C872.1,2164.3 871.3,2162.7 874.4,2163.3 C877.5,2163.8 876.5,2165.8 878.3,2160.9 C880.0,2156.1 879.5,2158.9 879.8,2148.7 C880.0,2138.4 879.3,2142.5 879.0,2130.2 C878.8,2117.9 878.8,2126.1 879.0,2111.8 C879.3,2097.4 879.8,2103.1 879.8,2087.2 C879.8,2071.3 879.3,2079.5 879.0,2064.1 C878.8,2048.8 878.0,2053.4 879.0,2041.1 C880.0,2028.8 879.5,2035.5 882.1,2027.3 C884.7,2019.1 882.6,2022.1 886.7,2016.5 C890.8,2010.9 886.7,2013.7 894.4,2010.4 C902.1,2007.0 899.5,2008.5 909.8,2006.5 C920.0,2004.6 917.9,2004.3 925.1,2004.5 C932.3,2004.8 928.2,2002.8 931.3,2007.3 C934.3,2011.8 932.9,2009.3 934.3,2018.0 C935.8,2026.8 935.8,2024.2 935.6,2033.4 C935.3,2042.6 935.0,2038.0 933.6,2045.7 C932.1,2053.4 932.5,2048.8 931.3,2056.5 C930.0,2064.1 929.7,2061.1 929.7,2068.8 C929.7,2076.4 929.2,2073.6 931.3,2079.5 C933.3,2085.4 933.6,2083.8 935.9,2086.4 C938.2,2089.1 936.2,2087.9 938.2,2087.5 C940.1,2087.0 939.8,2088.3 941.8,2085.0 C943.8,2081.8 943.2,2083.2 944.2,2077.8 C945.2,2072.3 944.8,2074.7 944.8,2068.7 C944.8,2062.6 944.8,2065.7 944.2,2059.6 C943.6,2053.6 943.6,2055.2 943.0,2050.5 C942.4,2045.9 942.0,2048.0 942.4,2045.7 C942.8,2043.4 942.6,2044.1 944.2,2043.6 C945.8,2043.1 945.2,2042.9 947.2,2044.2 C949.3,2045.5 948.2,2044.4 950.3,2047.5 C952.3,2050.6 951.3,2049.9 953.3,2053.6 C955.3,2057.2 954.5,2056.3 956.3,2058.4 C958.1,2060.5 957.6,2060.1 958.7,2059.9 C959.9,2059.7 959.9,2060.5 959.6,2057.8 C959.4,2055.1 959.9,2056.6 958.1,2051.7 C956.4,2046.9 956.9,2048.7 954.5,2043.3 C952.1,2037.8 952.8,2040.6 950.9,2035.4 C949.0,2030.2 949.4,2032.6 948.8,2027.5 C948.1,2022.5 948.1,2024.3 949.1,2020.3 C950.0,2016.2 950.1,2019.5 951.5,2015.4 C952.9,2011.4 951.9,2012.8 953.3,2008.2 C954.7,2003.5 953.5,2004.4 955.7,2001.5 C957.9,1998.6 955.7,2000.2 960.0,1999.4 C964.2,1998.6 962.6,1998.8 968.4,1999.1 C974.3,1999.4 971.5,1999.1 977.5,2000.3 C983.6,2001.5 982.3,2001.3 986.6,2002.7 C990.8,2004.1 988.2,2002.1 990.2,2004.5 C992.2,2006.9 991.0,2005.7 992.6,2010.0 C994.3,2014.2 993.7,2011.8 995.1,2017.2 C996.4,2022.7 995.9,2019.3 996.6,2026.3 C997.3,2033.4 996.9,2030.4 997.2,2038.4 C997.5,2046.5 997.3,2043.7 997.5,2050.5 C997.7,2057.4 996.8,2055.8 997.8,2059.0 C998.8,2062.2 998.4,2059.7 1000.5,2060.2 C1002.6,2060.7 1002.3,2064.3 1004.1,2060.5 C1006.0,2056.7 1004.7,2057.8 1006.1,2048.8 C1007.5,2039.7 1007.1,2044.7 1008.4,2033.4 C1009.7,2022.1 1009.2,2024.7 1009.9,2015.0 C1010.7,2005.2 1009.4,2009.3 1010.7,2004.2 C1012.0,1999.1 1011.5,2000.9 1013.8,1999.6 C1016.1,1998.3 1015.0,1997.8 1017.6,2000.4 C1020.2,2002.9 1018.9,2001.4 1021.5,2007.3 C1024.0,2013.2 1022.7,2010.9 1025.3,2018.0 C1027.9,2025.2 1027.3,2021.1 1029.1,2028.8 C1030.9,2036.5 1029.4,2033.9 1030.7,2041.1 C1032.0,2048.3 1032.5,2042.6 1033.0,2050.3 C1033.5,2058.0 1033.5,2054.4 1032.2,2064.1 C1030.9,2073.9 1031.4,2069.3 1029.1,2079.5 C1026.8,2089.8 1027.1,2084.1 1025.3,2094.9 C1023.5,2105.6 1024.0,2100.0 1023.8,2111.8 C1023.5,2123.6 1023.5,2119.5 1024.5,2130.2 C1025.5,2141.0 1024.5,2137.1 1026.8,2144.0 C1029.1,2151.0 1028.4,2148.9 1031.4,2151.0 C1034.5,2153.0 1033.5,2152.5 1036.0,2150.2 C1038.6,2147.9 1037.6,2152.2 1039.1,2144.0 C1040.7,2135.9 1039.9,2139.4 1040.7,2125.6 C1041.4,2111.8 1040.9,2117.9 1041.4,2102.6 C1041.9,2087.2 1041.7,2094.9 1042.2,2079.5 C1042.7,2064.1 1042.5,2071.8 1043.0,2056.5 C1043.5,2041.1 1043.2,2047.8 1043.7,2033.4 C1044.2,2019.1 1043.5,2023.2 1044.5,2013.4 C1045.5,2003.7 1044.0,2008.6 1046.8,2004.2 C1049.6,1999.9 1047.8,2001.9 1053.0,2000.4 C1058.1,1998.8 1056.0,1999.1 1062.2,1999.6 C1068.3,2000.1 1067.5,1998.3 1071.4,2001.9 C1075.2,2005.5 1073.2,2002.4 1073.7,2010.4 C1074.2,2018.3 1073.4,2015.5 1072.9,2025.7 C1072.4,2036.0 1072.7,2030.9 1072.2,2041.1 C1071.6,2051.3 1071.1,2049.8 1071.4,2056.5 C1071.6,2063.1 1070.9,2059.8 1072.9,2061.1 C1075.0,2062.4 1075.0,2062.9 1077.5,2060.3 C1080.1,2057.7 1079.1,2060.8 1080.6,2053.4 C1082.1,2046.0 1081.1,2048.3 1082.1,2038.0 C1083.2,2027.8 1082.9,2032.9 1083.7,2022.7 C1084.4,2012.4 1083.9,2014.5 1084.4,2007.3 C1085.0,2000.1 1082.4,2004.0 1085.2,2001.1 C1088.0,1998.3 1084.2,2000.3 1092.9,1998.8 C1101.6,1997.4 1100.1,1997.7 1111.3,1996.8 C1122.6,1996.0 1118.0,1995.8 1126.7,1996.2 C1135.4,1996.6 1130.3,1995.7 1137.5,1998.1 C1144.6,2000.5 1142.1,1999.9 1148.2,2003.5 C1154.4,2007.0 1151.8,2004.5 1155.9,2008.8 C1160.0,2013.2 1158.2,2009.3 1160.5,2016.5 C1162.8,2023.7 1161.3,2020.6 1162.8,2030.3 C1164.4,2040.1 1163.8,2034.4 1165.1,2045.7 C1166.4,2057.0 1166.9,2052.4 1166.7,2064.1 C1166.4,2075.9 1166.1,2069.3 1164.4,2081.0 C1162.6,2092.8 1163.1,2087.2 1161.3,2099.5 C1159.5,2111.8 1160.3,2104.1 1159.0,2117.9 C1157.7,2131.8 1157.7,2127.7 1157.4,2141.0 C1157.2,2154.3 1156.7,2148.7 1158.2,2157.9 C1159.7,2167.1 1159.2,2164.3 1162.0,2168.6 C1164.9,2173.0 1164.1,2171.4 1166.7,2170.9 C1169.2,2170.4 1168.2,2174.5 1169.7,2167.1 C1171.3,2159.7 1170.5,2162.5 1171.3,2148.7 C1172.0,2134.8 1171.3,2141.0 1172.0,2125.6 C1172.8,2110.2 1172.5,2117.9 1173.6,2102.6 C1174.6,2087.2 1174.9,2094.9 1175.1,2079.5 C1175.4,2064.1 1173.8,2069.3 1174.3,2056.5 C1174.9,2043.7 1175.2,2050.7 1176.6,2041.1 C1178.1,2031.5 1179.3,2033.7 1178.8,2027.5 C1178.3,2021.4 1177.4,2026.3 1175.1,2022.7 C1172.9,2019.1 1172.8,2020.9 1172.1,2016.6 C1171.4,2012.4 1171.4,2013.8 1173.0,2010.0 C1174.6,2006.1 1173.6,2007.6 1176.9,2005.1 C1180.3,2002.7 1179.0,2003.3 1183.0,2002.7 C1187.0,2002.1 1185.6,2001.9 1189.1,2003.3 C1192.5,2004.7 1191.3,2003.7 1193.3,2006.9 C1195.3,2010.2 1194.6,2008.6 1195.1,2013.0 C1195.6,2017.4 1195.2,2015.4 1194.8,2020.3 C1194.4,2025.1 1194.1,2023.9 1193.9,2027.5 C1193.7,2031.2 1193.0,2029.5 1194.2,2031.2 C1195.4,2032.8 1195.2,2032.0 1197.5,2032.4 C1199.9,2032.8 1199.6,2034.0 1201.2,2032.4 C1202.7,2030.8 1201.9,2032.0 1202.1,2027.5 C1202.3,2023.1 1201.3,2023.9 1201.8,2019.1 C1202.3,2014.2 1201.4,2016.2 1203.6,2013.0 C1205.8,2009.8 1204.8,2011.3 1208.4,2009.4 C1212.1,2007.5 1208.9,2008.8 1214.6,2007.3 C1220.2,2005.8 1219.2,2005.9 1225.3,2005.0 C1231.5,2004.1 1229.4,2004.0 1233.0,2004.5 C1236.6,2005.0 1233.0,2005.6 1236.1,2006.5 C1239.2,2007.4 1237.9,2006.8 1242.2,2007.3 C1246.6,2007.8 1245.8,2006.5 1249.2,2008.1 C1252.5,2009.6 1251.5,2008.6 1252.2,2011.9 C1253.0,2015.2 1252.5,2013.4 1251.5,2018.0 C1250.4,2022.7 1249.4,2021.1 1249.2,2025.7 C1248.9,2030.3 1249.7,2026.8 1250.7,2031.9 C1251.7,2037.0 1252.0,2033.9 1252.2,2041.1 C1252.5,2048.3 1251.5,2046.2 1251.5,2053.4 C1251.5,2060.6 1251.0,2058.3 1252.2,2062.6 C1253.5,2067.0 1253.3,2065.9 1255.3,2066.5 C1257.4,2067.0 1256.8,2067.5 1258.4,2064.1 C1259.9,2060.8 1258.4,2061.1 1259.9,2056.5 C1261.5,2051.9 1260.2,2053.6 1263.0,2050.3 C1265.8,2047.0 1264.5,2048.3 1268.4,2046.5 C1272.2,2044.7 1270.9,2044.9 1274.5,2044.9 C1278.1,2044.9 1277.8,2043.7 1279.1,2046.5 C1280.4,2049.3 1279.6,2048.5 1278.4,2053.4 C1277.1,2058.3 1276.8,2056.0 1275.3,2061.1 C1273.7,2066.2 1273.7,2064.7 1273.7,2068.8 C1273.7,2072.9 1275.5,2070.3 1275.3,2073.4 C1275.0,2076.4 1275.5,2074.9 1273.0,2078.0 C1270.4,2081.0 1271.2,2079.0 1267.6,2082.6 C1264.0,2086.2 1265.3,2083.6 1262.2,2088.7 C1259.1,2093.9 1259.9,2091.8 1258.4,2098.0 C1256.8,2104.1 1257.1,2101.0 1257.6,2107.2 C1258.1,2113.3 1258.1,2112.3 1259.9,2116.4 C1261.7,2120.5 1261.2,2119.5 1263.0,2119.5 C1264.8,2119.5 1264.0,2120.0 1265.3,2116.4 C1266.6,2112.8 1265.3,2114.3 1266.8,2108.7 C1268.4,2103.1 1267.6,2106.1 1269.9,2099.5 C1272.2,2092.8 1270.9,2095.4 1273.7,2088.7 C1276.6,2082.1 1275.5,2082.8 1278.4,2079.5 C1281.2,2076.2 1280.4,2076.2 1282.2,2078.7 C1284.0,2081.3 1283.5,2079.3 1283.7,2087.2 C1284.0,2095.1 1283.0,2092.3 1283.0,2102.6 C1283.0,2112.8 1282.7,2107.7 1283.7,2117.9 C1284.8,2128.2 1285.0,2123.0 1286.0,2133.3 C1287.1,2143.5 1286.8,2138.4 1286.8,2148.7 C1286.8,2158.9 1287.6,2154.8 1286.0,2164.0 C1284.5,2173.2 1284.5,2169.1 1282.2,2176.3 C1279.9,2183.5 1279.6,2180.9 1279.1,2185.5 C1278.6,2190.1 1278.9,2188.4 1280.7,2190.1 C1282.5,2191.9 1282.2,2192.4 1284.5,2190.9 C1286.8,2189.4 1286.3,2191.9 1287.6,2185.5 C1288.9,2179.1 1288.1,2180.9 1288.3,2171.7 C1288.6,2162.5 1287.6,2163.5 1288.3,2157.9 C1289.1,2152.2 1289.2,2153.8 1290.6,2154.8 C1292.1,2155.8 1291.9,2154.8 1292.6,2160.9 C1293.4,2167.1 1292.3,2165.6 1293.0,2173.2 C1293.6,2180.9 1292.4,2178.4 1294.5,2184.0 C1296.5,2189.6 1295.8,2187.6 1299.1,2190.1 C1302.4,2192.7 1300.9,2192.2 1304.5,2191.7 C1308.1,2191.2 1306.8,2190.4 1309.9,2188.6 C1312.9,2186.8 1312.7,2184.8 1313.7,2186.3 C1314.7,2187.8 1314.2,2188.9 1312.9,2193.2 C1311.6,2197.6 1309.9,2195.3 1309.9,2199.4 C1309.9,2203.5 1310.4,2201.9 1312.9,2205.5 C1315.5,2209.1 1314.0,2207.6 1317.5,2210.1 C1321.1,2212.7 1320.1,2210.9 1323.7,2213.2 C1327.3,2215.5 1326.0,2213.4 1328.3,2217.0 C1330.6,2220.6 1328.8,2219.6 1330.6,2223.9 C1332.4,2228.3 1331.9,2225.5 1333.7,2230.1 C1335.5,2234.7 1334.9,2232.1 1336.0,2237.8 C1337.0,2243.4 1335.7,2240.9 1336.7,2247.0 C1337.8,2253.1 1337.3,2251.6 1339.0,2256.2 C1340.8,2260.8 1340.1,2259.0 1342.1,2260.8 C1344.2,2262.6 1343.7,2263.1 1345.2,2261.6 C1346.7,2260.1 1345.2,2259.3 1346.7,2256.2 C1348.3,2253.1 1346.7,2253.9 1349.8,2252.4 C1352.9,2250.8 1352.6,2250.8 1355.9,2251.6 C1359.3,2252.4 1358.0,2251.6 1359.8,2254.7 C1361.6,2257.8 1360.0,2257.8 1361.3,2260.8 C1362.6,2263.9 1360.8,2262.9 1363.6,2263.9 C1366.4,2264.9 1366.7,2264.9 1369.8,2263.9 C1372.9,2262.9 1371.6,2264.4 1372.9,2260.8 C1374.1,2257.2 1373.1,2257.8 1373.6,2253.1 C1374.1,2248.5 1372.9,2250.6 1374.4,2247.0 C1375.9,2243.4 1375.2,2244.2 1378.2,2242.4 C1381.3,2240.6 1380.3,2240.9 1383.6,2241.6 C1386.9,2242.4 1385.7,2241.9 1388.2,2244.7 C1390.8,2247.5 1389.0,2246.7 1391.3,2250.1 C1393.6,2253.4 1394.1,2251.1 1395.1,2254.7 C1396.2,2258.3 1394.9,2257.0 1394.4,2260.8 C1393.9,2264.7 1392.8,2264.2 1393.6,2266.2 C1394.4,2268.3 1394.1,2267.5 1396.7,2267.0 C1399.2,2266.5 1398.7,2268.3 1401.3,2264.7 C1403.8,2261.1 1402.6,2261.1 1404.4,2256.2 C1406.1,2251.4 1404.6,2252.9 1406.7,2250.1 C1408.7,2247.3 1408.2,2247.8 1410.5,2247.8 C1412.8,2247.8 1412.0,2247.3 1413.6,2250.1 C1415.1,2252.9 1413.8,2252.9 1415.1,2256.2 C1416.4,2259.5 1415.1,2259.0 1417.4,2260.1 C1419.7,2261.1 1419.2,2260.6 1422.0,2259.3 C1424.8,2258.0 1423.4,2257.8 1425.9,2256.2 C1428.3,2254.7 1428.2,2255.2 1429.4,2254.7 L1429.4,2327.0 L235.3,2327.0 Z" fill="url(#gEndo)"/>
<g clip-path="url(#cEndo)">
<g fill="none" stroke-linecap="round" stroke-linejoin="round">
<path d="M243.8,2182.9 L243.4,2185.6 L243.1,2187.6 L242.8,2189.3 L242.3,2191.1 L241.6,2193.5 L240.6,2197.1 L238.9,2202.4 L237.9,2205.0 L237.0,2206.4 L236.1,2208.4" stroke="#e9186f" stroke-width="2.4"/>
<path d="M269.4,2210.7 L269.3,2212.7 L269.2,2214.5 L269.2,2216.2 L269.1,2217.9 L269.2,2219.8 L269.2,2222.0 L269.2,2224.6 L269.3,2227.9 L269.3,2231.9 L269.5,2236.8 L269.7,2240.1 L270.0,2242.2 L270.2,2243.6 L270.5,2244.7 L270.7,2245.9 L270.9,2247.6 L270.9,2250.4 L270.9,2254.6 L270.7,2258.9 L270.6,2262.0 L270.5,2264.1 L270.3,2265.8 L270.1,2267.2 L269.7,2268.7 L269.3,2270.7 L268.7,2273.4 L267.8,2277.3 L266.8,2281.6 L266.1,2283.8 L265.5,2284.6 L265.0,2285.3 L264.4,2286.6 L263.6,2289.7 L262.5,2295.4 L261.9,2299.2 L261.4,2302.7 L260.9,2305.8 L260.6,2308.6 L260.3,2311.2 L260.1,2313.6 L259.9,2315.8 L259.7,2318.0 L259.6,2320.2 L259.4,2322.4 L259.2,2324.6 L259.0,2327.0 L258.8,2329.5" stroke="#e9186f" stroke-width="2.9"/>
<path d="M291.3,2296.9 L291.6,2300.0 L291.4,2300.8 L291.0,2302.3 L290.5,2307.5 L290.4,2311.3 L290.2,2314.5 L290.1,2317.3 L290.1,2319.8 L290.0,2322.2 L289.9,2324.5 L289.9,2326.9 L289.8,2329.5" stroke="#678dcd" stroke-width="2.6"/>
<path d="M317.6,2294.2 L317.9,2295.5 L318.1,2296.5 L318.1,2298.9 L317.8,2304.5 L317.5,2308.1 L317.3,2311.2 L317.0,2314.0 L316.7,2316.5 L316.4,2318.7 L316.0,2320.8 L315.7,2322.8 L315.4,2324.9 L315.1,2327.1 L314.7,2329.5" stroke="#e9186f" stroke-width="2.9"/>
<path d="M308.7,2276.5 L311.7,2276.3 L313.2,2275.8" stroke="#e9186f" stroke-width="2.6"/>
<path d="M323.8,2284.1 L320.8,2287.0 L319.3,2289.0 L317.8,2290.9" stroke="#e9186f" stroke-width="2.6"/>
<path d="M349.6,2306.0 L350.4,2309.3 L350.9,2312.2 L351.2,2315.0 L351.3,2317.5 L351.2,2319.9 L351.1,2322.2 L351.0,2324.6 L351.0,2327.0 L351.1,2329.5" stroke="#678dcd" stroke-width="2.6"/>
<path d="M355.6,2289.4 L354.5,2293.2 L353.5,2296.1 L352.7,2298.4 L351.9,2300.3 L351.1,2302.1 L350.4,2303.9 L349.6,2306.0" stroke="#678dcd" stroke-width="2.6"/>
<path d="M391.9,2295.4 L394.0,2298.7 L394.7,2299.9 L394.7,2301.8 L395.0,2307.5 L395.1,2311.4 L395.2,2314.7 L395.1,2317.5 L395.0,2320.0 L394.7,2322.3 L394.5,2324.6 L394.3,2326.9 L394.2,2329.5" stroke="#e9186f" stroke-width="3.2"/>
<path d="M402.5,2280.3 L400.7,2283.7 L399.1,2286.4 L397.6,2288.5 L396.1,2290.2 L394.8,2291.8 L393.4,2293.5 L391.9,2295.4" stroke="#e9186f" stroke-width="2.9"/>
<path d="M427.3,2287.0 L427.0,2288.7 L426.6,2289.7 L426.2,2291.1 L425.7,2294.1 L425.2,2300.0 L425.0,2303.9 L424.8,2307.4 L424.7,2310.4 L424.6,2313.1 L424.6,2315.6 L424.5,2317.9 L424.5,2320.1 L424.5,2322.3 L424.5,2324.6 L424.5,2326.9 L424.5,2329.5" stroke="#678dcd" stroke-width="2.9"/>
<path d="M429.5,2283.3 L428.2,2286.3" stroke="#678dcd" stroke-width="2.2"/>
<path d="M460.2,2287.0 L460.4,2288.7 L460.8,2289.7 L461.0,2291.1 L461.1,2294.1 L460.8,2300.0 L460.5,2303.9 L460.2,2307.4 L459.9,2310.4 L459.5,2313.1 L459.2,2315.6 L458.8,2317.9 L458.4,2320.1 L458.1,2322.3 L457.7,2324.6 L457.3,2326.9 L457.0,2329.5" stroke="#e9186f" stroke-width="3.2"/>
<path d="M470.6,2278.8 L467.0,2280.5 L464.9,2281.8 L463.4,2282.9 L461.5,2284.1" stroke="#e9186f" stroke-width="2.6"/>
<path d="M477.5,2303.3 L476.7,2305.0 L476.3,2306.6 L476.1,2310.3 L475.8,2314.1 L476.0,2316.1 L476.5,2317.8 L477.6,2320.9 L479.1,2324.7 L480.2,2326.2 L481.3,2327.7" stroke="#678dcd" stroke-width="2.4"/>
<path d="M506.3,2274.0 L507.0,2278.1 L508.0,2279.8 L508.9,2281.7 L509.3,2286.1 L509.2,2289.9 L508.9,2292.0 L508.3,2293.5 L507.4,2295.6 L506.3,2299.7 L505.3,2303.7 L504.5,2305.7 L504.0,2307.1 L503.6,2309.2 L503.3,2313.3 L503.2,2317.9 L503.5,2321.0 L503.9,2323.3 L504.4,2325.3 L504.8,2327.7" stroke="#e9186f" stroke-width="2.8"/>
<path d="M509.3,2281.5 L510.5,2279.8 L511.7,2278.1 L515.4,2275.5" stroke="#e9186f" stroke-width="2.4"/>
<path d="M550.5,2254.1 L550.5,2256.0 L550.0,2257.8 L548.7,2261.9 L547.5,2265.4 L546.4,2267.3 L545.5,2268.5 L544.5,2270.4 L543.4,2274.0 L542.4,2278.1 L542.2,2279.8 L542.4,2281.7 L542.6,2286.1 L542.9,2289.9 L543.2,2291.8 L543.6,2293.2 L543.9,2295.4 L544.2,2299.7 L544.2,2303.5 L544.2,2305.8 L544.2,2307.4 L544.0,2308.9 L543.7,2311.1 L543.4,2314.8 L543.0,2319.3 L542.7,2322.2 L542.4,2324.0 L542.2,2325.6 L541.9,2327.7" stroke="#678dcd" stroke-width="2.9"/>
<path d="M548.7,2263.4 L552.1,2261.9" stroke="#678dcd" stroke-width="2.4"/>
<path d="M582.7,2246.7 L582.9,2250.7 L583.0,2253.1 L583.0,2254.7 L582.9,2256.1 L582.6,2258.3 L582.0,2261.9 L581.2,2265.8 L580.4,2267.7 L579.8,2268.8 L579.0,2270.5 L578.2,2274.0 L577.3,2278.1 L577.0,2279.8 L577.0,2281.7 L577.4,2286.1 L577.9,2289.9 L578.4,2291.8 L579.0,2293.2 L579.6,2295.4 L580.5,2299.7 L581.1,2303.5 L581.5,2305.8 L581.7,2307.4 L581.8,2308.9 L581.9,2311.1 L582.0,2314.8 L582.0,2319.3 L581.9,2322.2 L581.7,2324.0 L581.4,2325.6 L581.2,2327.7" stroke="#e9186f" stroke-width="3.2"/>
<path d="M582.0,2267.9 L584.6,2267.5 L587.1,2267.1 L591.1,2264.9" stroke="#e9186f" stroke-width="2.9"/>
<path d="M622.7,2229.1 L623.3,2230.4 L623.8,2232.3 L624.4,2236.1 L624.8,2240.0 L624.9,2242.2 L624.6,2243.7 L624.0,2245.9 L622.8,2249.8 L621.5,2253.5 L620.4,2255.4 L619.3,2256.6 L618.4,2258.3 L617.5,2261.9 L616.9,2266.0 L617.0,2267.9 L617.7,2269.8 L619.1,2274.0 L620.3,2277.5 L621.3,2279.2 L622.2,2280.4 L623.2,2282.3 L624.4,2286.1 L625.3,2289.5 L625.6,2290.6 L625.6,2291.4 L625.5,2293.8 L625.9,2299.7 L626.1,2303.3 L626.3,2306.4 L626.5,2309.3 L626.6,2311.9 L626.8,2314.3 L626.9,2316.5 L627.0,2318.7 L627.1,2320.8 L627.2,2323.0 L627.3,2325.3 L627.4,2327.7" stroke="#678dcd" stroke-width="3.2"/>
<path d="M625.9,2286.1 L627.0,2284.0 L628.1,2282.2 L629.2,2280.4 L630.4,2278.3 L631.7,2275.8" stroke="#678dcd" stroke-width="2.6"/>
<path d="M659.9,2197.1 L660.7,2201.3 L661.2,2204.7 L661.5,2206.8 L661.4,2208.3 L661.2,2210.0 L661.0,2212.4 L660.7,2216.5 L660.4,2220.4 L660.1,2222.6 L659.8,2224.0 L659.6,2225.4 L659.3,2227.7 L659.2,2231.6 L659.0,2235.5 L658.9,2237.8 L658.9,2239.2 L659.0,2240.6 L659.3,2242.8 L659.9,2246.7 L660.6,2250.7 L661.2,2252.9 L661.7,2254.3 L662.3,2255.7 L662.9,2257.9 L663.7,2261.9 L664.4,2265.8 L664.9,2268.0 L665.1,2269.4 L665.2,2270.8 L665.2,2273.1 L665.2,2277.0 L665.2,2280.4 L665.0,2281.6 L664.8,2282.0 L664.5,2282.9 L664.2,2285.8 L663.7,2292.1 L663.5,2295.6 L663.3,2298.8 L663.2,2301.8 L663.1,2304.5 L662.9,2307.1 L662.8,2309.5 L662.8,2311.8 L662.7,2314.0 L662.6,2316.2 L662.5,2318.4 L662.5,2320.6 L662.4,2322.9 L662.3,2325.2 L662.2,2327.7" stroke="#e9186f" stroke-width="5.2"/>
<path d="M679.8,2170.8 L678.8,2174.1 L677.5,2178.3 L676.6,2180.0 L675.3,2181.0 L672.8,2183.2 L669.7,2185.5 L668.0,2185.8 L665.2,2187.7 L662.6,2190.9 L661.6,2193.1 L660.7,2195.3" stroke="#e9186f" stroke-width="4.2"/>
<path d="M656.1,2242.2 L657.8,2245.9 L658.5,2248.6 L659.2,2251.3" stroke="#e9186f" stroke-width="2.9"/>
<path d="M703.9,2136.9 L703.5,2139.6 L703.1,2143.8 L702.5,2148.0 L702.1,2150.6 L701.6,2152.2 L701.2,2153.6 L700.8,2155.2 L700.4,2157.8 L700.0,2162.0 L699.7,2166.2 L699.5,2168.9 L699.4,2170.7 L699.5,2172.2 L699.6,2173.8 L699.8,2176.3 L700.0,2180.1 L700.3,2184.4 L700.8,2186.8 L701.2,2188.1 L701.5,2189.3 L701.6,2191.4 L701.5,2195.3 L701.4,2199.1 L701.4,2201.2 L701.3,2202.5 L701.0,2203.8 L700.1,2206.1 L698.5,2210.4 L697.1,2213.9 L695.9,2216.2 L694.9,2217.8 L693.9,2219.1 L692.9,2220.4 L691.9,2222.2 L690.7,2224.8 L689.4,2228.6 L688.1,2232.8 L687.4,2235.5 L687.0,2237.3 L687.0,2238.7 L687.1,2240.4 L687.2,2242.9 L687.2,2246.7 L687.2,2251.0 L687.4,2253.3 L687.7,2254.7 L688.1,2255.9 L688.5,2258.0 L688.7,2261.9 L688.8,2265.8 L688.9,2268.0 L688.9,2269.4 L688.7,2270.8 L688.4,2273.1 L687.9,2277.0 L687.3,2280.9 L686.7,2283.2 L686.2,2284.6 L685.7,2286.0 L685.3,2288.2 L684.9,2292.1 L684.6,2295.9 L684.5,2297.9 L684.5,2299.0 L684.7,2300.3 L685.1,2302.7 L685.6,2307.3 L686.1,2311.3 L686.5,2314.5 L686.9,2317.1 L687.3,2319.4 L687.6,2321.4 L688.0,2323.3 L688.3,2325.3 L688.7,2327.7" stroke="#678dcd" stroke-width="4.7"/>
<path d="M701.5,2193.8 L703.3,2192.5 L704.6,2191.5 L706.2,2190.3 L708.5,2188.7 L712.1,2186.2 L715.7,2184.1 L717.9,2183.1 L719.5,2182.5 L721.4,2181.3 L724.2,2178.6" stroke="#678dcd" stroke-width="4.2"/>
<path d="M678.8,2245.2 L682.1,2247.8 L684.2,2249.2 L686.0,2250.1 L687.9,2251.3" stroke="#678dcd" stroke-width="3.2"/>
<path d="M741.9,2106.8 L742.2,2109.7 L742.4,2111.7 L742.4,2113.2 L742.5,2114.6 L742.5,2116.1 L742.6,2118.2 L742.8,2121.3 L743.0,2125.6 L743.4,2130.0 L743.6,2133.2 L743.9,2135.6 L744.1,2137.3 L744.3,2138.8 L744.4,2140.4 L744.5,2142.4 L744.6,2145.0 L744.6,2148.7 L744.6,2153.5 L744.7,2156.1 L744.7,2157.3 L744.5,2158.3 L744.0,2160.2 L743.0,2164.0 L742.1,2168.0 L741.4,2170.3 L740.7,2171.7 L740.0,2173.1 L739.1,2175.4 L737.7,2179.4 L736.3,2183.2 L735.4,2185.1 L734.9,2186.1 L734.4,2187.4 L733.9,2189.9 L733.0,2194.8 L732.5,2198.4 L732.1,2201.1 L732.0,2203.0 L731.9,2204.6 L731.9,2206.1 L731.9,2207.8 L731.9,2210.2 L731.8,2213.4 L731.5,2217.8 L731.3,2222.1 L731.2,2225.1 L731.2,2227.2 L731.2,2228.7 L731.2,2230.0 L731.2,2231.5 L731.0,2233.5 L730.6,2236.5 L730.0,2240.9 L729.3,2245.3 L728.6,2248.5 L728.1,2250.8 L727.5,2252.6 L727.0,2254.1 L726.5,2255.6 L725.9,2257.6 L725.3,2260.2 L724.6,2263.9 L723.6,2268.8 L722.9,2271.3 L722.6,2272.5 L722.5,2273.6 L722.7,2275.5 L723.1,2279.3 L723.5,2283.2 L724.0,2285.5 L724.5,2286.9 L725.2,2288.4 L726.2,2290.6 L727.7,2294.6 L729.1,2298.6 L730.2,2300.8 L731.0,2302.1 L731.7,2303.5 L732.3,2305.8 L733.0,2310.0 L733.5,2314.6 L733.6,2317.9 L733.3,2320.4 L732.9,2322.4 L732.5,2324.4 L732.3,2326.9" stroke="#e9186f" stroke-width="4.7"/>
<path d="M740.0,2176.3 L742.2,2175.7 L744.2,2175.1 L746.2,2174.6 L748.4,2173.9 L751.1,2173.0 L754.6,2171.7 L759.1,2170.0" stroke="#e9186f" stroke-width="4.2"/>
<path d="M735.4,2133.3 L737.0,2137.0 L738.5,2139.4 L739.7,2140.9 L741.0,2142.3 L742.3,2144.0" stroke="#e9186f" stroke-width="2.6"/>
<path d="M772.2,2067.2 L770.4,2070.9 L769.2,2071.9 L767.6,2074.9 L766.1,2078.2 L765.6,2079.8 L766.1,2084.1 L766.4,2087.4 L766.6,2089.2 L767.0,2090.6 L768.2,2092.7 L770.7,2096.4 L772.9,2099.6 L774.5,2101.3 L775.9,2102.4 L777.4,2103.5 L779.3,2105.3 L782.2,2108.7 L784.9,2112.1 L786.4,2114.1 L787.3,2115.4 L788.1,2116.8 L789.3,2118.9 L791.4,2122.5 L793.7,2126.1 L795.1,2128.1 L796.0,2129.3 L796.7,2130.5 L797.6,2132.6 L799.1,2136.4 L800.6,2140.1 L801.5,2142.1 L801.9,2143.3 L802.1,2144.7 L802.4,2147.2 L803.0,2151.7 L803.5,2155.8 L804.0,2158.5 L804.2,2160.3 L804.3,2162.0 L804.3,2164.0 L804.1,2167.0 L803.7,2171.7 L803.4,2175.9 L803.3,2178.8 L803.1,2180.8 L803.0,2182.3 L802.6,2183.7 L802.1,2185.5 L801.2,2188.0 L799.9,2191.7 L798.3,2195.8 L797.1,2198.4 L796.1,2200.1 L795.2,2201.3 L794.2,2202.5 L793.0,2204.2 L791.4,2207.0 L789.3,2211.5 L789.0,2212.5 L787.6,2216.3 L786.2,2219.3 L785.3,2220.6 L784.7,2221.7 L783.8,2223.8 L782.2,2228.6 L781.1,2231.9 L780.4,2234.2 L779.8,2235.8 L779.4,2237.2 L779.1,2238.7 L778.7,2240.9 L778.3,2244.0 L777.6,2248.5 L777.0,2252.6 L776.6,2255.5 L776.3,2257.5 L776.1,2259.0 L776.0,2260.4 L776.0,2262.0 L776.0,2264.1 L776.1,2267.2 L776.1,2271.6 L776.1,2275.9 L776.0,2279.0 L776.0,2281.2 L776.0,2282.8 L776.1,2284.2 L776.3,2285.7 L776.6,2287.7 L777.0,2290.6 L777.6,2294.6 L778.3,2299.2 L778.9,2302.3 L779.4,2304.4 L779.9,2306.0 L780.4,2307.3 L780.9,2309.0 L781.5,2311.2 L782.2,2314.6 L783.3,2320.5 L783.6,2323.2 L783.6,2324.8 L783.8,2326.9" stroke="#678dcd" stroke-width="4.5"/>
<path d="M796.0,2084.1 L795.0,2087.8 L794.2,2090.0 L793.6,2091.4 L792.7,2092.8 L791.6,2094.7 L789.9,2098.0 L787.5,2102.6 L786.1,2105.1 L785.0,2106.7 L783.8,2108.7" stroke="#678dcd" stroke-width="3.4"/>
<path d="M773.8,2171.7 L773.2,2175.5 L772.8,2177.9 L772.6,2179.4 L772.8,2180.9 L773.4,2183.2 L774.5,2187.1 L775.8,2190.9 L776.8,2193.3 L777.7,2194.8 L778.8,2196.1 L780.2,2197.9 L782.2,2200.9 L784.8,2205.2 L786.3,2207.2 L787.2,2208.5 L788.4,2210.1" stroke="#678dcd" stroke-width="3.4"/>
<path d="M846.6,2094.1 L847.6,2096.5 L848.4,2098.1 L849.1,2099.4 L849.8,2101.2 L850.5,2104.1 L851.4,2108.7 L852.1,2112.9 L852.6,2115.8 L852.8,2117.9 L852.9,2119.5 L852.8,2121.1 L852.7,2123.1 L852.4,2126.0 L852.1,2130.2 L851.8,2134.8 L851.6,2137.5 L851.3,2139.2 L851.0,2140.4 L850.5,2142.0 L849.9,2144.5 L849.1,2148.7 L848.3,2152.9 L847.9,2155.4 L847.6,2156.9 L847.4,2158.1 L847.0,2159.8 L846.4,2162.5 L845.2,2167.1 L844.2,2171.3 L843.6,2174.1 L843.3,2176.0 L843.0,2177.5 L842.6,2179.0 L841.9,2181.1 L840.8,2184.1 L839.1,2188.6 L837.5,2192.7 L836.3,2195.5 L835.5,2197.4 L834.8,2198.8 L834.1,2200.0 L833.3,2201.4 L832.1,2203.3 L830.5,2206.1 L828.3,2210.1 L826.1,2214.2 L824.4,2217.0 L823.1,2218.9 L822.1,2220.3 L821.1,2221.5 L820.2,2222.9 L819.2,2224.8 L817.8,2227.6 L816.0,2231.6 L814.1,2236.0 L812.9,2238.8 L812.1,2240.6 L811.7,2241.8 L811.4,2243.1 L811.2,2245.1 L810.7,2248.2 L809.9,2253.1 L809.1,2257.3 L808.5,2260.4 L808.0,2262.7 L807.7,2264.5 L807.5,2266.0 L807.4,2267.6 L807.3,2269.4 L807.3,2271.8 L807.4,2275.0 L807.6,2279.3 L807.7,2283.8 L807.9,2287.0 L808.1,2289.0 L808.3,2290.4 L808.6,2291.6 L809.1,2292.9 L809.6,2294.9 L810.4,2297.9 L811.4,2302.3 L812.3,2306.6 L813.1,2310.2 L813.8,2313.1 L814.4,2315.5 L815.0,2317.5 L815.5,2319.3 L816.0,2321.0 L816.5,2322.7 L817.0,2324.6 L817.6,2326.9" stroke="#e9186f" stroke-width="4.7"/>
<path d="M859.1,2134.1 L859.5,2136.9 L859.8,2141.0 L860.2,2145.9 L860.5,2149.0 L860.6,2150.8 L860.7,2152.2 L860.6,2153.9 L860.3,2156.6 L859.8,2160.9 L859.5,2165.3 L859.3,2167.9 L859.3,2169.4 L859.1,2170.6 L858.6,2172.1 L857.7,2174.8 L856.0,2179.4 L854.6,2183.2 L853.7,2185.9 L853.1,2187.8 L852.5,2189.3 L851.9,2190.6 L851.0,2192.1 L849.7,2194.1 L847.9,2197.0 L845.2,2200.9 L842.8,2204.5 L840.8,2207.2 L839.2,2209.2 L837.9,2210.7 L836.8,2211.8 L835.6,2213.0 L834.3,2214.2 L832.7,2215.8 L830.8,2218.0 L828.3,2220.9 L825.0,2224.9 L822.8,2227.7 L821.3,2229.6 L820.4,2230.9 L819.6,2231.9 L818.8,2233.1 L817.6,2234.7" stroke="#e9186f" stroke-width="4.2"/>
<path d="M818.1,2119.6 L820.7,2119.1 L822.8,2118.4 L824.6,2117.5 L826.7,2116.7 L829.4,2116.3 L832.9,2116.4 L837.9,2117.0 L839.8,2117.7 L841.0,2119.3 L843.7,2122.5 L846.7,2126.1 L848.1,2128.7 L848.8,2130.9 L849.8,2133.3" stroke="#e9186f" stroke-width="3.2"/>
<path d="M877.4,2173.3 L880.6,2175.5 L884.1,2179.0 L885.2,2180.9" stroke="#678dcd" stroke-width="2.6"/>
<path d="M886.4,2177.9 L885.2,2180.9" stroke="#678dcd" stroke-width="2.6"/>
<path d="M885.2,2180.9 L885.6,2183.0 L886.1,2184.2 L886.5,2185.9 L886.8,2189.0 L886.7,2194.8 L886.5,2198.3 L886.4,2201.1 L886.2,2203.2 L886.0,2205.0 L885.7,2206.8 L885.3,2208.6 L884.9,2210.9 L884.3,2213.9 L883.6,2217.8 L882.8,2222.9 L882.5,2225.5 L882.4,2226.8 L882.1,2228.0 L881.3,2230.3 L879.8,2234.7 L878.5,2238.4 L877.4,2240.8 L876.6,2242.5 L875.9,2243.7 L875.1,2245.0 L874.1,2246.7 L872.9,2249.3 L871.3,2253.1 L869.6,2257.3 L868.4,2259.8 L867.5,2261.2 L866.9,2262.4 L866.5,2264.0 L865.9,2266.9 L865.2,2271.6 L864.6,2275.5 L864.2,2278.4 L863.9,2280.5 L863.8,2282.2 L863.9,2283.7 L864.1,2285.4 L864.3,2287.5 L864.7,2290.5 L865.2,2294.6 L865.7,2299.2 L866.3,2302.3 L866.8,2304.4 L867.3,2306.0 L867.8,2307.3 L868.4,2309.0 L869.1,2311.2 L869.8,2314.6 L870.8,2320.5 L871.1,2323.2 L871.2,2324.8 L871.3,2326.9" stroke="#678dcd" stroke-width="4.2"/>
<path d="M894.4,2071.8 L893.9,2075.6 L893.4,2078.3 L893.0,2080.3 L892.6,2081.9 L892.2,2083.3 L891.9,2085.0 L891.6,2087.3 L891.4,2090.5 L891.3,2094.9 L891.2,2099.3 L891.1,2102.5 L891.1,2104.8 L891.2,2106.6 L891.3,2108.1 L891.6,2109.7 L892.1,2111.6 L892.7,2114.3 L893.6,2117.9 L894.7,2122.9 L895.2,2125.6 L895.6,2127.0 L896.4,2128.1 L897.8,2129.8 L900.5,2133.3 L903.0,2136.5 L904.9,2138.5 L906.3,2139.7 L907.7,2140.6 L909.2,2141.6 L911.4,2143.1 L914.4,2145.6 L918.1,2148.6 L920.1,2149.7 L921.3,2150.3 L922.6,2151.6 L925.1,2154.8 L927.3,2157.7 L928.4,2159.4 L929.0,2160.6 L929.3,2162.0 L930.0,2164.4 L931.3,2168.6 L932.5,2172.4 L933.3,2175.0 L933.8,2176.9 L934.1,2178.5 L934.5,2180.4 L935.0,2183.1 L935.9,2187.1 L937.0,2191.4 L937.8,2193.9 L938.4,2195.3 L938.7,2196.6 L938.9,2198.7 L938.9,2202.4 L939.0,2206.8 L938.9,2209.0 L938.5,2210.4 L937.6,2212.4 L935.9,2216.3 L934.0,2220.1 L932.5,2222.0 L931.2,2223.2 L929.8,2225.0 L928.2,2228.6 L926.4,2232.8 L925.7,2234.7 L925.8,2236.6 L926.7,2240.9 L927.3,2244.4 L927.9,2246.2 L928.6,2247.4 L930.1,2249.3 L932.8,2253.1 L934.8,2256.1 L936.3,2257.9 L937.5,2259.0 L938.5,2260.0 L939.7,2261.3 L941.3,2263.4 L943.6,2267.0 L945.7,2270.5 L947.1,2272.7 L947.9,2274.2 L948.4,2275.5 L949.0,2277.2 L949.8,2279.8 L951.2,2283.9 L952.7,2287.9 L953.6,2290.2 L954.1,2291.6 L954.5,2292.7 L954.8,2294.4 L955.2,2297.4 L955.9,2302.3 L956.4,2306.7 L956.8,2310.3 L957.0,2313.2 L957.2,2315.8 L957.2,2318.0 L957.2,2320.1 L957.2,2322.1 L957.3,2324.4 L957.4,2326.9" stroke="#e9186f" stroke-width="4.7"/>
<path d="M895.9,2056.5 L898.4,2056.2 L900.7,2056.1 L903.1,2055.9 L906.0,2055.3 L909.8,2054.2" stroke="#e9186f" stroke-width="4.2"/>
<path d="M926.7,2141.0 L926.5,2145.3 L926.3,2148.3 L925.9,2150.5 L925.5,2152.4 L925.1,2154.8" stroke="#e9186f" stroke-width="3.7"/>
<path d="M934.7,2126.2 L933.4,2128.1 L931.8,2130.0 L929.7,2133.3 L927.8,2137.4 L927.2,2139.2 L926.7,2141.0" stroke="#e9186f" stroke-width="2.6"/>
<path d="M947.1,2187.1 L947.8,2189.3 L948.2,2193.2 L948.3,2197.2 L948.2,2199.4 L947.8,2200.8 L946.8,2202.5 L945.1,2205.5 L942.7,2209.2 L940.9,2210.9 L939.2,2211.8 L937.4,2213.2" stroke="#e9186f" stroke-width="3.7"/>
<path d="M908.3,2239.9 L909.9,2240.7 L911.5,2241.2 L913.9,2242.2 L917.4,2243.9 L921.7,2246.1 L924.3,2247.5 L926.1,2248.3 L927.7,2249.1 L929.7,2250.1" stroke="#e9186f" stroke-width="2.9"/>
<path d="M980.0,2058.0 L982.1,2059.0 L984.0,2059.5 L986.4,2060.9 L990.0,2064.1 L992.7,2066.9 L994.2,2068.6 L995.1,2070.1 L996.0,2072.4 L997.6,2076.4 L999.3,2080.3 L1000.1,2082.3 L1000.4,2083.7 L1000.5,2085.9 L1000.7,2090.3 L1000.9,2094.0 L1001.0,2096.2 L1000.9,2097.6 L1000.6,2099.0 L1000.0,2101.4 L999.2,2105.6 L998.4,2109.4 L997.8,2111.8 L997.3,2113.4 L996.8,2114.8 L996.2,2116.4 L995.5,2118.8 L994.6,2122.5 L993.4,2126.7 L992.5,2129.0 L991.9,2130.4 L991.5,2131.8 L991.4,2134.0 L991.5,2137.9 L991.7,2142.0 L992.0,2144.4 L992.4,2146.0 L993.2,2147.5 L994.4,2149.6 L996.1,2153.3 L998.3,2157.2 L1000.0,2159.1 L1001.4,2160.1 L1002.6,2161.8 L1003.8,2165.6 L1004.5,2169.4 L1004.4,2171.4 L1003.8,2172.8 L1003.0,2175.0 L1002.2,2179.4 L1001.7,2183.2 L1001.2,2185.4 L1000.7,2186.9 L1000.4,2188.4 L1000.4,2190.7 L1000.7,2194.8 L1001.3,2198.7 L1002.1,2200.8 L1003.0,2202.1 L1003.9,2203.4 L1004.7,2205.8 L1005.3,2210.1 L1005.7,2214.1 L1006.0,2216.7 L1006.1,2218.6 L1006.0,2220.1 L1005.6,2221.9 L1004.9,2224.6 L1003.8,2228.6 L1002.5,2233.0 L1001.7,2235.5 L1000.9,2237.0 L999.9,2238.3 L998.4,2240.4 L996.1,2243.9 L993.8,2247.4 L992.2,2249.2 L991.1,2250.1 L990.1,2251.0 L988.8,2252.7 L986.9,2256.2 L985.0,2259.7 L983.9,2261.5 L983.2,2262.6 L982.9,2264.0 L982.6,2266.6 L982.3,2271.6 L982.0,2275.3 L981.8,2278.0 L981.8,2280.1 L981.8,2281.7 L982.0,2283.3 L982.3,2285.1 L982.7,2287.4 L983.2,2290.5 L983.8,2294.6 L984.5,2299.2 L985.0,2302.3 L985.5,2304.4 L985.9,2306.0 L986.4,2307.3 L986.9,2309.0 L987.6,2311.2 L988.4,2314.6 L989.6,2319.6 L990.3,2322.4 L990.7,2323.9 L991.0,2325.1 L991.5,2326.9" stroke="#678dcd" stroke-width="4.5"/>
<path d="M978.2,2041.2 L978.6,2043.0 L979.2,2047.2 L979.8,2051.2 L980.0,2053.8 L979.9,2055.7 L980.0,2058.0" stroke="#678dcd" stroke-width="3.2"/>
<path d="M981.9,2029.3 L980.9,2031.3 L980.0,2032.8 L979.2,2034.7 L978.4,2038.0 L978.0,2042.9 L978.6,2045.1 L979.2,2047.2" stroke="#678dcd" stroke-width="3.2"/>
<path d="M980.0,2058.0 L977.8,2058.9 L975.7,2059.3 L973.3,2060.7 L970.0,2064.1 L967.9,2066.8 L966.7,2068.5 L966.0,2069.9 L965.6,2071.5 L965.0,2074.0 L963.8,2078.0 L962.7,2081.9 L962.2,2084.2 L962.1,2085.8 L962.0,2087.4" stroke="#678dcd" stroke-width="3.7"/>
<path d="M1025.3,2052.5 L1026.3,2054.0 L1026.5,2055.5 L1026.1,2059.5 L1025.6,2063.4 L1025.1,2065.7 L1024.4,2067.5 L1023.0,2069.8 L1020.7,2073.4 L1018.5,2076.8 L1017.2,2078.6 L1016.1,2079.6 L1014.4,2080.6 L1011.5,2082.6 L1007.7,2085.0 L1005.3,2086.0 L1003.5,2086.5 L1001.5,2087.2" stroke="#678dcd" stroke-width="4.2"/>
<path d="M1014.3,2152.1 L1013.3,2153.7 L1012.1,2155.0 L1009.9,2157.9 L1007.0,2161.8 L1005.4,2163.7 L1003.8,2165.6" stroke="#678dcd" stroke-width="2.9"/>
<path d="M984.8,2193.8 L986.3,2194.2 L990.0,2194.8 L994.0,2195.5 L996.6,2195.5 L999.2,2195.5" stroke="#678dcd" stroke-width="2.9"/>
<path d="M994.6,2250.1 L996.4,2251.0 L997.8,2251.8 L1000.0,2252.9 L1003.8,2254.7" stroke="#678dcd" stroke-width="2.6"/>
<path d="M1057.3,2060.2 L1057.3,2062.5 L1057.6,2064.1 L1057.8,2065.8 L1057.8,2068.1 L1057.6,2071.8 L1057.0,2075.8 L1056.6,2077.5 L1056.2,2078.5 L1055.5,2080.2 L1054.5,2084.1 L1053.6,2087.7 L1052.8,2089.7 L1052.3,2091.0 L1051.9,2092.5 L1051.6,2095.1 L1051.4,2099.5 L1051.4,2103.5 L1051.7,2106.1 L1052.1,2107.9 L1052.5,2109.5 L1053.0,2111.3 L1053.4,2113.9 L1053.7,2117.9 L1053.9,2122.3 L1054.0,2124.6 L1054.0,2126.0 L1053.8,2127.3 L1053.5,2129.4 L1053.0,2133.3 L1052.4,2137.3 L1051.9,2139.6 L1051.5,2141.0 L1051.1,2142.4 L1050.5,2144.7 L1049.9,2148.7 L1049.2,2152.6 L1048.7,2154.9 L1048.3,2156.3 L1048.2,2157.8 L1048.2,2160.0 L1048.3,2164.0 L1048.5,2168.0 L1048.7,2170.4 L1048.9,2171.9 L1049.4,2173.4 L1050.2,2175.6 L1051.4,2179.4 L1052.8,2183.5 L1053.9,2186.3 L1054.9,2188.2 L1055.7,2189.7 L1056.6,2191.3 L1057.6,2193.2" stroke="#e9186f" stroke-width="4.2"/>
<path d="M1057.6,2073.4 L1059.6,2072.8 L1061.1,2072.4 L1062.9,2072.0 L1065.6,2071.3 L1069.9,2070.3 L1074.0,2069.5 L1076.6,2069.2 L1078.6,2069.0 L1080.6,2068.5" stroke="#e9186f" stroke-width="4.2"/>
<path d="M1093.2,2088.9 L1093.7,2090.8 L1094.2,2092.8 L1094.5,2095.5 L1094.4,2099.5 L1094.2,2103.7 L1094.0,2105.5 L1093.6,2106.5 L1092.8,2108.1 L1091.4,2111.8 L1090.1,2115.2 L1089.1,2117.3 L1088.4,2118.7 L1087.6,2120.1 L1086.6,2122.2 L1085.2,2125.6 L1083.6,2129.5 L1082.7,2131.5 L1082.2,2132.8 L1081.9,2134.5 L1081.4,2137.9 L1081.1,2141.7 L1081.5,2143.3 L1082.0,2144.8 L1082.1,2148.7 L1082.2,2152.7 L1082.2,2154.6 L1081.9,2156.7 L1080.6,2160.9 L1079.5,2164.7 L1078.8,2166.8 L1078.1,2168.2 L1076.8,2170.0 L1074.5,2173.2 L1072.1,2176.3 L1070.6,2177.7 L1069.4,2178.4 L1067.9,2179.6 L1065.2,2182.5 L1062.5,2185.8 L1060.8,2188.1 L1059.7,2189.8 L1058.8,2191.4 L1057.6,2193.2" stroke="#e9186f" stroke-width="4.2"/>
<path d="M1083.7,2134.8 L1086.0,2134.5 L1087.9,2134.3 L1090.0,2134.0 L1093.0,2133.5 L1097.5,2132.5" stroke="#e9186f" stroke-width="2.9"/>
<path d="M1057.6,2193.2 L1057.0,2195.2 L1056.5,2196.7 L1056.0,2198.0 L1055.5,2199.7 L1054.8,2201.9 L1054.0,2205.3 L1053.0,2210.1 L1052.2,2213.9 L1051.6,2216.6 L1051.2,2218.6 L1050.9,2220.2 L1050.7,2221.6 L1050.5,2223.3 L1050.2,2225.6 L1049.8,2228.8 L1049.1,2233.2 L1048.4,2237.5 L1047.9,2240.5 L1047.5,2242.6 L1047.2,2244.0 L1047.0,2245.3 L1046.8,2246.8 L1046.6,2248.9 L1046.3,2251.9 L1046.0,2256.2 L1045.7,2260.5 L1045.5,2263.6 L1045.4,2265.6 L1045.4,2267.1 L1045.4,2268.4 L1045.5,2269.9 L1045.6,2271.9 L1045.8,2274.9 L1046.0,2279.3 L1046.2,2283.7 L1046.3,2286.9 L1046.3,2289.2 L1046.4,2291.0 L1046.5,2292.5 L1046.7,2294.1 L1047.0,2296.0 L1047.5,2298.7 L1048.3,2302.3 L1049.5,2307.3 L1050.4,2310.2 L1051.1,2311.7 L1051.9,2312.9 L1053.0,2314.6 L1054.5,2317.7 L1056.5,2322.1 L1057.6,2324.2 L1058.2,2325.3 L1059.1,2326.9" stroke="#e9186f" stroke-width="4.7"/>
<path d="M1086.7,2211.4 L1086.1,2213.8 L1085.2,2217.8 L1084.2,2221.8 L1083.5,2224.1 L1083.0,2225.5 L1082.5,2226.9 L1082.0,2229.2 L1081.4,2233.2 L1080.8,2237.2 L1080.7,2239.4 L1080.7,2240.9 L1080.8,2242.3 L1080.8,2244.6 L1080.6,2248.5 L1080.2,2252.8 L1079.9,2255.7 L1079.6,2257.8 L1079.3,2259.5 L1079.1,2261.3 L1079.1,2263.9 L1079.6,2267.4 L1080.6,2267.0" stroke="#678dcd" stroke-width="3.9"/>
<path d="M1066.2,2255.6 L1067.8,2256.4 L1069.7,2257.1 L1072.9,2259.3 L1076.1,2262.1 L1077.9,2263.9 L1079.1,2265.3 L1080.6,2267.0" stroke="#678dcd" stroke-width="3.9"/>
<path d="M1080.6,2267.0 L1082.0,2268.9 L1083.4,2270.4 L1084.8,2272.1 L1086.4,2274.8 L1088.3,2279.3 L1089.8,2282.9 L1090.8,2285.1 L1091.4,2286.6 L1091.6,2288.1 L1091.6,2290.6 L1091.4,2294.6 L1091.1,2298.6 L1090.8,2300.8 L1090.3,2302.1 L1089.5,2303.5 L1088.4,2305.8 L1086.8,2310.0 L1085.3,2314.0 L1084.1,2317.1 L1083.1,2319.4 L1082.3,2321.3 L1081.5,2323.0 L1080.7,2324.8 L1079.8,2326.9" stroke="#678dcd" stroke-width="4.5"/>
<path d="M1129.5,2072.3 L1128.8,2073.8 L1129.0,2078.0 L1129.4,2081.2 L1130.0,2083.0 L1130.8,2084.5 L1131.7,2086.5 L1132.9,2090.3 L1133.9,2093.9 L1134.7,2095.8 L1135.2,2097.1 L1135.3,2098.9 L1135.2,2102.6 L1134.8,2106.2 L1134.4,2108.2 L1133.7,2109.6 L1132.7,2111.4 L1131.3,2114.9 L1129.8,2118.5 L1128.9,2119.8 L1128.1,2121.3 L1126.7,2125.6 L1125.6,2129.1 L1124.7,2131.3 L1124.0,2132.9 L1123.6,2134.6 L1123.5,2137.1 L1123.6,2141.0 L1124.0,2145.3 L1124.4,2147.5 L1125.2,2149.0 L1126.4,2151.0 L1128.2,2154.8 L1130.0,2158.5 L1131.2,2160.2 L1132.2,2161.3 L1133.1,2163.1 L1134.4,2167.1 L1135.5,2170.8 L1136.2,2173.0 L1136.5,2174.6 L1136.6,2176.2 L1136.3,2178.6 L1135.9,2182.5 L1135.5,2186.8 L1135.2,2189.0 L1134.6,2190.5 L1133.5,2192.4 L1131.3,2196.3 L1129.3,2199.7 L1127.8,2201.8 L1126.5,2203.0 L1125.3,2204.1 L1123.9,2205.8 L1122.1,2208.6 L1119.5,2212.2 L1118.9,2213.1 L1119.0,2217.8 L1119.0,2221.4 L1119.1,2223.8 L1119.4,2225.7 L1119.9,2227.7 L1120.8,2230.5 L1122.1,2234.7 L1123.2,2238.6 L1123.8,2240.8 L1124.2,2242.0 L1124.8,2243.1 L1126.0,2245.0 L1128.2,2248.5 L1130.3,2251.7 L1131.7,2253.5 L1132.7,2254.6 L1133.7,2255.5 L1134.9,2256.8 L1136.6,2258.9 L1139.0,2262.4 L1141.3,2265.9 L1142.8,2268.2 L1143.8,2269.8 L1144.5,2271.1 L1145.3,2272.8 L1146.4,2275.3 L1148.2,2279.3 L1150.1,2282.9 L1151.3,2284.8 L1152.1,2285.6 L1152.7,2286.4 L1153.1,2287.8 L1153.6,2290.8 L1154.4,2296.2 L1154.8,2299.9 L1155.1,2303.2 L1155.2,2306.2 L1155.3,2308.9 L1155.2,2311.4 L1155.1,2313.6 L1155.0,2315.8 L1154.8,2317.9 L1154.7,2320.0 L1154.5,2322.2 L1154.4,2324.4 L1154.4,2326.9" stroke="#e9186f" stroke-width="4.5"/>
<path d="M1188.7,2143.6 L1189.7,2147.1 L1190.4,2151.4 L1190.3,2153.9 L1189.9,2155.6 L1189.5,2157.6 L1189.7,2160.9 L1189.9,2165.5 L1190.2,2167.0 L1192.8,2168.6 L1195.9,2169.9 L1198.5,2170.0 L1201.0,2169.6 L1203.5,2169.4" stroke="#e9186f" stroke-width="4.7"/>
<path d="M1192.8,2168.6 L1190.6,2170.0 L1188.6,2170.9 L1186.3,2172.7 L1183.6,2176.3 L1181.6,2179.3 L1180.6,2181.0 L1180.2,2182.4 L1180.2,2184.6 L1180.5,2188.6 L1180.7,2192.7 L1181.0,2195.0 L1181.6,2196.8 L1182.9,2198.9 L1185.1,2202.4 L1187.2,2206.0 L1188.6,2208.0 L1189.7,2209.1 L1191.4,2210.1 L1194.3,2211.7 L1198.8,2213.5 L1201.1,2213.4 L1203.5,2213.2" stroke="#e9186f" stroke-width="5.0"/>
<path d="M1194.3,2211.7 L1193.4,2213.9 L1192.4,2215.9 L1191.6,2218.4 L1191.2,2222.4 L1192.2,2226.4 L1193.7,2228.0 L1194.3,2231.6 L1193.5,2234.7 L1192.0,2235.9 L1190.6,2237.2 L1189.7,2240.9 L1189.4,2244.3 L1189.4,2246.5 L1189.8,2248.2 L1190.8,2250.2 L1192.8,2253.1 L1195.5,2256.4 L1197.8,2257.8 L1199.8,2258.3 L1202.0,2259.3" stroke="#e9186f" stroke-width="4.7"/>
<path d="M1175.5,2254.6 L1175.1,2259.3 L1175.2,2262.6 L1175.4,2264.6 L1175.8,2266.2 L1176.5,2267.9 L1177.5,2270.5 L1178.9,2274.7 L1180.3,2278.5 L1181.2,2280.6 L1181.9,2281.8 L1182.6,2283.1 L1183.6,2285.5 L1185.1,2290.0 L1186.2,2293.8 L1187.0,2296.4 L1187.5,2298.3 L1187.8,2299.8 L1188.1,2301.4 L1188.4,2303.3 L1188.9,2306.1 L1189.7,2310.0 L1190.8,2315.1 L1191.4,2318.6 L1191.8,2320.9 L1192.1,2322.7 L1192.4,2324.5 L1192.8,2326.9" stroke="#678dcd" stroke-width="4.2"/>
<path d="M1168.2,2242.4 L1172.3,2244.0 L1173.8,2245.0 L1175.9,2247.0 L1178.4,2249.9 L1178.9,2251.6" stroke="#678dcd" stroke-width="3.7"/>
<path d="M1191.4,2033.9 L1195.9,2035.0 L1200.1,2035.8 L1203.1,2036.0 L1205.5,2036.1 L1208.1,2036.2" stroke="#e9186f" stroke-width="4.5"/>
<path d="M1188.5,2035.7 L1191.1,2035.7 L1193.5,2035.5 L1196.0,2035.3 L1198.6,2035.3 L1201.7,2035.6 L1205.4,2036.5 L1210.3,2037.6 L1211.4,2038.6 L1213.0,2042.6 L1214.5,2045.7 L1215.0,2047.6 L1215.1,2049.3 L1215.0,2051.9 L1215.4,2056.5 L1215.8,2060.3 L1216.1,2062.5 L1216.2,2064.0 L1216.3,2065.5 L1216.2,2067.8 L1216.1,2071.8 L1216.0,2075.8 L1215.8,2078.1 L1215.5,2079.5 L1215.3,2080.9 L1214.9,2083.2 L1214.6,2087.2 L1214.3,2091.2 L1214.3,2093.5 L1214.3,2094.9 L1214.3,2096.3 L1214.2,2098.6 L1213.8,2102.6 L1213.4,2106.6 L1213.2,2109.0 L1213.0,2110.6 L1212.8,2112.1 L1212.3,2114.3 L1211.5,2117.9 L1210.5,2122.0 L1209.7,2123.9 L1209.1,2125.0 L1208.5,2126.7 L1207.7,2130.2 L1206.8,2134.4 L1206.4,2136.4 L1206.5,2138.3 L1206.9,2142.5 L1207.4,2146.2 L1207.9,2148.3 L1208.5,2149.7" stroke="#e9186f" stroke-width="5.0"/>
<path d="M1202.3,2096.4 L1206.0,2097.5 L1208.0,2099.3 L1210.0,2101.0" stroke="#e9186f" stroke-width="2.6"/>
<path d="M1188.5,2215.5 L1190.9,2215.1 L1193.1,2214.8 L1195.7,2214.3 L1199.2,2213.2 L1203.2,2213.2 L1205.4,2209.4" stroke="#e9186f" stroke-width="3.2"/>
<path d="M1243.3,2191.1 L1243.5,2193.3 L1243.5,2194.8 L1243.2,2196.2 L1242.6,2198.5 L1241.5,2202.4 L1240.3,2206.5 L1239.4,2208.9 L1238.6,2210.5 L1237.7,2212.0 L1236.4,2214.2 L1234.6,2217.8 L1232.5,2221.7 L1231.2,2223.3 L1230.3,2224.2 L1229.5,2226.0 L1228.4,2230.1 L1227.6,2233.9 L1227.4,2236.2 L1227.5,2237.8 L1227.7,2239.5 L1227.8,2242.3 L1227.6,2247.0 L1227.3,2251.0 L1227.0,2253.5 L1226.6,2255.0 L1226.4,2256.3 L1226.2,2258.0 L1226.1,2260.8 L1226.1,2265.4 L1226.2,2269.6 L1226.4,2272.3 L1226.5,2274.2 L1226.8,2275.6 L1227.1,2277.1 L1227.4,2279.2 L1227.9,2282.3 L1228.4,2286.9 L1228.9,2291.2 L1229.2,2294.3 L1229.5,2296.6 L1229.7,2298.3 L1229.8,2299.8 L1230.0,2301.4 L1230.2,2303.4 L1230.4,2306.2 L1230.7,2310.0 L1231.1,2315.5 L1231.3,2319.0 L1231.4,2321.3 L1231.4,2323.0 L1231.4,2324.6 L1231.5,2326.9" stroke="#e9186f" stroke-width="4.7"/>
<path d="M1219.2,2225.5 L1222.6,2228.3 L1224.8,2229.7 L1226.5,2230.5 L1228.4,2231.6" stroke="#e9186f" stroke-width="3.9"/>
<path d="M1206.7,2261.5 L1209.1,2261.5 L1210.6,2261.3 L1212.6,2261.4 L1216.1,2262.4 L1220.6,2264.1 L1222.8,2265.6 L1224.3,2267.0 L1226.1,2268.5" stroke="#e9186f" stroke-width="4.2"/>
<path d="M1254.5,2116.4 L1257.5,2119.0 L1260.0,2120.4 L1262.3,2121.1 L1264.5,2121.7 L1266.8,2122.5" stroke="#e9186f" stroke-width="2.4"/>
<path d="M1266.8,2122.5 L1267.5,2124.6 L1267.6,2128.7 L1266.7,2131.2 L1265.5,2132.4 L1265.3,2136.4 L1265.7,2139.3 L1266.3,2140.9 L1267.2,2142.3 L1268.1,2144.5 L1269.1,2148.7 L1269.8,2152.3 L1270.2,2154.5 L1270.3,2156.0 L1270.3,2157.5 L1270.4,2160.0 L1270.7,2164.0 L1270.9,2168.1 L1270.8,2170.5 L1270.7,2172.1 L1270.6,2173.6 L1270.8,2175.8 L1271.4,2179.4 L1272.3,2183.5 L1272.9,2185.5 L1273.5,2186.7 L1274.5,2188.3 L1276.0,2191.7 L1278.1,2195.6 L1279.5,2197.3 L1280.5,2198.8 L1281.4,2202.4 L1282.1,2206.2 L1282.1,2208.0 L1281.4,2209.7 L1279.9,2213.2 L1278.2,2216.5 L1276.9,2217.8 L1275.5,2219.1 L1273.7,2222.4 L1272.1,2225.9 L1271.2,2227.6 L1271.1,2229.4 L1271.4,2233.2 L1272.1,2236.9 L1272.9,2238.5 L1274.1,2240.2 L1276.0,2243.9 L1278.1,2247.6 L1279.5,2249.3 L1280.4,2251.0 L1280.7,2254.7 L1280.4,2258.3 L1279.7,2259.9 L1278.3,2261.5 L1276.0,2265.4 L1274.2,2268.8 L1272.9,2270.6 L1271.9,2271.9 L1271.0,2273.8 L1269.9,2277.7 L1268.9,2281.5 L1268.4,2283.3 L1268.4,2284.6 L1268.9,2286.8 L1269.9,2291.6 L1270.7,2295.3 L1271.3,2297.9 L1271.9,2299.6 L1272.6,2301.2 L1273.4,2303.1 L1274.5,2305.8 L1276.0,2310.0 L1277.6,2314.3 L1278.7,2317.5 L1279.5,2319.8 L1280.2,2321.6 L1280.8,2323.1 L1281.4,2324.8 L1282.2,2326.9" stroke="#e9186f" stroke-width="4.5"/>
<path d="M1262.2,2271.6 L1264.7,2275.4 L1266.5,2277.5 L1268.2,2279.0 L1269.9,2280.8" stroke="#e9186f" stroke-width="3.2"/>
<path d="M1251.7,2244.5 L1251.1,2246.7 L1250.9,2248.1 L1250.8,2249.7 L1250.6,2252.2 L1249.9,2256.2 L1249.0,2260.2 L1248.4,2262.5 L1247.9,2263.9 L1247.5,2265.3 L1247.2,2267.6 L1246.9,2271.6 L1246.5,2275.4 L1246.4,2277.3 L1246.4,2278.3 L1246.6,2279.6 L1247.0,2282.1 L1247.6,2286.9 L1248.1,2290.7 L1248.5,2293.5 L1248.8,2295.7 L1249.1,2297.4 L1249.4,2299.1 L1249.8,2300.9 L1250.2,2303.2 L1250.8,2306.1 L1251.5,2310.0 L1252.4,2315.5 L1253.1,2319.0 L1253.5,2321.3 L1253.8,2323.0 L1254.1,2324.6 L1254.5,2326.9" stroke="#678dcd" stroke-width="4.2"/>
<path d="M1243.0,2271.6 L1245.4,2274.7 L1246.9,2276.2" stroke="#678dcd" stroke-width="2.9"/>
<path d="M1300.5,2232.0 L1299.5,2233.8 L1298.9,2235.2 L1298.6,2237.2 L1298.3,2240.9 L1298.2,2244.4 L1298.4,2246.1 L1298.9,2247.2 L1299.7,2249.1 L1300.6,2253.1 L1301.5,2256.8 L1302.3,2258.9 L1302.9,2260.4 L1303.4,2262.0 L1303.7,2264.5 L1303.7,2268.5 L1303.5,2272.5 L1303.0,2274.8 L1302.4,2276.2 L1301.6,2277.6 L1300.8,2279.9 L1299.9,2283.9 L1299.1,2287.9 L1298.5,2290.1 L1298.1,2291.6 L1298.0,2293.0 L1298.1,2295.3 L1298.3,2299.2 L1298.7,2303.3 L1299.0,2305.7 L1299.5,2307.3 L1300.1,2308.8 L1301.0,2311.0 L1302.2,2314.6 L1303.6,2319.0 L1304.6,2321.7 L1305.3,2323.5 L1306.0,2324.9 L1306.8,2326.9" stroke="#678dcd" stroke-width="4.2"/>
<path d="M1324.7,2284.3 L1324.4,2286.2 L1324.4,2287.8 L1324.6,2290.2 L1325.2,2294.6 L1325.8,2298.4 L1326.2,2300.5 L1326.6,2301.9 L1327.1,2303.4 L1327.9,2305.8 L1329.1,2310.0 L1330.1,2314.0 L1330.9,2317.1 L1331.6,2319.4 L1332.1,2321.3 L1332.6,2323.0 L1333.1,2324.8 L1333.7,2326.9" stroke="#e9186f" stroke-width="4.2"/>
<path d="M1322.1,2267.0 L1325.7,2269.0 L1327.5,2270.0" stroke="#e9186f" stroke-width="2.9"/>
<path d="M1367.9,2285.8 L1367.9,2287.5 L1367.4,2289.8 L1366.7,2294.6 L1366.1,2298.2 L1365.5,2300.3 L1365.0,2301.7 L1364.5,2303.3 L1364.3,2305.8 L1364.4,2310.0 L1364.8,2314.6 L1365.3,2317.9 L1366.0,2320.4 L1366.8,2322.4 L1367.5,2324.4 L1368.2,2326.9" stroke="#678dcd" stroke-width="4.2"/>
<path d="M1400.5,2290.0 L1403.8,2293.4 L1405.4,2294.3 L1406.7,2297.7 L1406.9,2301.0 L1406.1,2302.7 L1405.1,2304.6 L1405.1,2308.5 L1405.6,2312.3 L1406.0,2314.2 L1407.1,2316.0 L1409.7,2319.2 L1412.3,2322.1 L1414.4,2323.8 L1416.2,2324.9 L1417.9,2325.7 L1419.7,2326.9" stroke="#e9186f" stroke-width="4.5"/>
<path d="M1414.6,2288.1 L1413.4,2289.2 L1411.3,2291.6 L1409.0,2294.5 L1407.9,2296.1 L1406.7,2297.7" stroke="#e9186f" stroke-width="3.9"/>
</g>
<g fill="#e9186f"><path d="M245.0,2163.8 L244.8,2165.9 L244.8,2167.5 L244.8,2169.1 L244.6,2171.1 L244.2,2174.2 L243.4,2178.8 L242.7,2182.7 L245.0,2183.0 L245.4,2179.0 L245.7,2174.4 L245.8,2171.2 L245.7,2169.1 L245.5,2167.4 L245.4,2165.9 L245.3,2163.8 Z"/><path d="M273.0,2183.4 L272.4,2185.4 L272.0,2186.8 L271.5,2187.9 L271.0,2189.5 L270.5,2191.9 L269.8,2195.7 L269.0,2201.5 L268.6,2205.2 L268.2,2208.1 L268.0,2210.6 L270.9,2210.8 L271.0,2208.3 L271.1,2205.3 L271.2,2201.7 L271.4,2195.9 L271.7,2192.1 L272.0,2189.7 L272.3,2188.2 L272.6,2187.0 L273.0,2185.6 L273.3,2183.5 Z"/><path d="M312.3,2268.2 L312.6,2270.8 L312.9,2273.0 L313.3,2275.9 L314.0,2280.5 L314.6,2284.3 L315.0,2285.7 L315.3,2287.1 L315.7,2291.1 L316.1,2294.4 L319.0,2293.9 L318.4,2290.7 L317.6,2286.7 L317.1,2285.1 L316.6,2283.8 L315.5,2280.1 L314.4,2275.7 L313.7,2272.8 L313.2,2270.7 L312.6,2268.2 Z"/><path d="M302.6,2275.1 L304.9,2276.7 L308.5,2277.8 L308.9,2275.2 L305.3,2275.0 L302.7,2274.8 Z"/><path d="M330.6,2279.4 L328.6,2280.1 L326.5,2280.9 L323.0,2283.0 L324.6,2285.1 L327.5,2282.3 L329.1,2281.0 L330.7,2279.7 Z"/><path d="M377.4,2277.3 L378.2,2279.2 L378.7,2280.8 L379.8,2283.1 L382.2,2286.9 L384.5,2289.7 L386.3,2291.1 L387.6,2291.9 L388.8,2293.2 L390.6,2296.3 L393.2,2294.6 L391.0,2291.5 L389.1,2289.9 L387.6,2289.1 L385.9,2288.2 L383.5,2285.8 L380.7,2282.5 L379.4,2280.5 L378.7,2279.0 L377.7,2277.2 Z"/><path d="M405.4,2268.2 L404.9,2270.5 L404.8,2272.3 L403.9,2274.8 L401.2,2279.7 L403.8,2280.9 L405.6,2275.4 L406.0,2272.4 L405.7,2270.5 L405.7,2268.2 Z"/><path d="M463.6,2256.0 L462.9,2258.3 L462.3,2260.1 L461.6,2262.2 L460.8,2265.1 L459.9,2269.6 L459.2,2273.5 L458.8,2275.4 L458.7,2276.8 L458.7,2278.9 L458.5,2283.3 L458.6,2287.0 L461.7,2286.9 L461.6,2283.3 L461.3,2278.9 L461.1,2276.8 L461.1,2275.6 L461.3,2273.8 L461.6,2269.8 L462.1,2265.3 L462.6,2262.4 L463.1,2260.3 L463.5,2258.4 L464.0,2256.1 Z"/><path d="M480.0,2275.6 L477.4,2275.9 L474.8,2276.2 L470.1,2277.6 L471.1,2280.0 L475.4,2277.8 L477.7,2276.9 L480.0,2275.9 Z"/><path d="M510.7,2248.2 L510.0,2250.5 L509.4,2252.4 L508.8,2254.6 L508.0,2257.5 L507.0,2261.7 L505.8,2266.0 L505.2,2267.9 L504.9,2269.9 L504.9,2274.0 L507.7,2273.9 L507.4,2269.9 L507.5,2268.3 L507.9,2266.5 L508.7,2262.0 L509.3,2257.7 L509.7,2254.8 L510.2,2252.6 L510.6,2250.6 L511.0,2248.3 Z"/><path d="M526.7,2271.6 L524.1,2271.9 L521.6,2272.1 L518.7,2272.6 L514.9,2274.4 L515.9,2276.6 L519.5,2274.7 L522.0,2273.6 L524.3,2272.8 L526.8,2271.8 Z"/><path d="M581.8,2214.9 L581.5,2217.4 L581.2,2219.3 L580.9,2221.3 L580.6,2223.8 L580.4,2227.1 L580.2,2231.6 L580.2,2235.8 L580.4,2238.2 L580.6,2239.7 L580.9,2240.9 L581.0,2243.0 L581.2,2246.8 L584.3,2246.7 L584.1,2242.7 L583.7,2240.4 L583.3,2239.0 L583.0,2237.8 L582.6,2235.6 L582.2,2231.6 L582.0,2227.1 L581.9,2223.8 L581.9,2221.4 L582.0,2219.4 L582.1,2217.4 L582.2,2215.0 Z"/><path d="M597.0,2256.5 L595.6,2258.3 L594.5,2259.9 L592.9,2261.6 L590.1,2263.8 L592.0,2266.0 L594.8,2263.2 L596.0,2260.8 L596.5,2258.7 L597.3,2256.7 Z"/><path d="M645.2,2153.0 L645.7,2155.4 L646.1,2157.4 L646.5,2160.2 L646.9,2165.1 L646.9,2168.9 L646.5,2170.8 L646.1,2172.5 L646.2,2175.0 L647.1,2179.1 L648.4,2183.2 L649.8,2185.6 L651.1,2187.0 L652.4,2188.6 L654.2,2191.9 L656.2,2195.8 L657.1,2196.9 L657.4,2198.0 L662.4,2196.2 L661.6,2194.4 L660.4,2193.0 L658.1,2189.5 L655.8,2186.2 L654.0,2184.3 L652.8,2183.3 L651.7,2181.7 L650.1,2178.1 L648.9,2174.5 L648.7,2172.7 L648.9,2171.2 L649.1,2168.9 L648.7,2164.9 L647.8,2160.0 L647.1,2157.1 L646.5,2155.2 L645.9,2152.8 Z"/><path d="M679.3,2146.9 L679.4,2149.2 L679.6,2151.1 L679.6,2153.8 L679.1,2159.0 L678.8,2162.7 L678.7,2165.2 L678.6,2166.8 L678.3,2168.3 L677.8,2170.3 L681.9,2171.3 L682.3,2168.9 L682.3,2167.0 L682.2,2165.1 L681.9,2162.7 L681.6,2159.0 L681.2,2153.8 L680.8,2150.9 L680.3,2149.1 L679.8,2146.8 Z"/><path d="M651.5,2237.8 L653.1,2239.2 L655.0,2243.1 L657.3,2241.3 L653.9,2238.4 L651.7,2237.5 Z"/><path d="M730.5,2065.0 L731.5,2067.0 L732.4,2068.5 L733.3,2069.9 L734.1,2071.4 L735.1,2073.6 L736.1,2076.8 L737.3,2081.4 L738.2,2085.3 L738.7,2088.0 L739.0,2089.7 L739.1,2091.1 L739.1,2092.6 L739.0,2094.8 L739.1,2098.0 L739.3,2102.8 L739.6,2107.0 L744.3,2106.5 L743.7,2102.3 L743.1,2097.7 L742.7,2094.6 L742.5,2092.5 L742.4,2090.8 L742.1,2089.2 L741.7,2087.3 L740.8,2084.6 L739.5,2080.7 L737.9,2076.2 L736.5,2073.0 L735.3,2070.8 L734.2,2069.3 L733.1,2068.0 L732.1,2066.6 L731.0,2064.8 Z"/><path d="M768.2,2160.1 L766.7,2161.9 L765.4,2163.5 L762.0,2166.0 L759.3,2167.8 L758.2,2168.1 L760.1,2171.9 L761.6,2170.8 L764.0,2168.2 L766.7,2164.7 L767.7,2162.4 L768.6,2160.3 Z"/><path d="M732.9,2121.0 L732.9,2123.1 L732.7,2124.9 L732.6,2127.0 L732.9,2129.8 L734.1,2133.7 L736.6,2132.9 L735.1,2129.1 L734.3,2126.7 L733.9,2124.9 L733.7,2123.1 L733.2,2121.0 Z"/><path d="M850.4,2052.4 L848.9,2053.9 L847.4,2055.1 L845.9,2056.5 L844.1,2058.7 L842.1,2062.2 L840.4,2065.4 L839.4,2067.0 L838.9,2068.7 L838.9,2070.9 L839.1,2075.0 L839.3,2078.7 L839.6,2080.9 L840.1,2082.6 L840.8,2084.1 L841.7,2086.6 L843.0,2091.0 L844.3,2094.9 L848.8,2093.4 L847.4,2089.5 L845.7,2085.1 L844.4,2082.5 L843.6,2081.1 L843.1,2080.0 L842.7,2078.2 L842.1,2074.8 L841.6,2070.7 L841.4,2068.8 L841.5,2067.9 L842.3,2066.3 L843.7,2063.0 L845.4,2059.4 L846.8,2057.2 L848.1,2055.8 L849.4,2054.5 L850.8,2052.8 Z"/><path d="M856.5,2094.9 L856.3,2097.2 L856.2,2099.1 L856.0,2100.8 L855.8,2102.6 L855.6,2104.5 L855.5,2106.8 L855.4,2109.7 L855.3,2113.4 L855.4,2118.0 L855.5,2122.4 L855.7,2125.6 L855.9,2127.9 L856.2,2129.6 L856.5,2131.0 L856.8,2132.4 L857.1,2134.4 L861.2,2133.7 L860.8,2131.6 L860.4,2130.1 L860.0,2128.7 L859.6,2127.2 L859.2,2125.2 L858.7,2122.1 L858.1,2117.8 L857.6,2113.3 L857.3,2109.7 L857.1,2106.8 L857.0,2104.5 L857.0,2102.6 L857.1,2100.9 L857.1,2099.1 L857.1,2097.2 L857.0,2094.9 Z"/><path d="M798.2,2101.1 L798.8,2103.4 L799.1,2105.4 L799.5,2107.7 L800.7,2110.4 L803.0,2113.8 L805.5,2117.4 L806.8,2119.3 L809.3,2120.2 L814.4,2121.0 L818.0,2121.1 L818.1,2118.0 L814.6,2118.0 L809.7,2117.7 L808.1,2117.4 L807.2,2116.1 L804.4,2112.8 L801.8,2109.7 L800.5,2107.3 L799.9,2105.3 L799.4,2103.2 L798.5,2101.0 Z"/><path d="M891.8,2027.2 L891.2,2029.5 L890.5,2031.3 L889.8,2033.5 L889.4,2036.6 L889.6,2041.2 L890.4,2045.5 L891.6,2047.8 L892.7,2049.1 L893.6,2050.9 L894.2,2055.2 L894.5,2059.0 L894.4,2060.8 L894.2,2061.8 L893.7,2063.3 L892.9,2066.3 L892.1,2071.5 L896.7,2072.2 L897.4,2067.0 L897.8,2064.3 L898.2,2062.7 L898.4,2061.0 L898.3,2058.6 L897.6,2054.7 L896.4,2050.0 L895.0,2047.5 L893.7,2046.2 L892.6,2044.7 L891.5,2040.9 L890.9,2036.5 L891.0,2033.7 L891.4,2031.6 L892.0,2029.7 L892.4,2027.3 Z"/><path d="M917.3,2048.6 L915.4,2049.9 L913.8,2051.1 L908.9,2052.3 L910.6,2056.1 L915.0,2053.0 L916.4,2050.9 L917.6,2049.0 Z"/><path d="M924.9,2128.7 L925.0,2131.2 L925.2,2133.3 L925.1,2136.1 L924.8,2141.0 L928.5,2140.9 L927.8,2135.9 L927.0,2132.9 L926.2,2131.0 L925.3,2128.6 Z"/><path d="M934.2,2113.4 L934.9,2115.7 L935.6,2117.9 L934.8,2122.3 L933.4,2125.8 L936.0,2126.6 L936.9,2122.7 L936.9,2117.8 L935.7,2115.4 L934.5,2113.3 Z"/><path d="M943.3,2167.1 L943.2,2169.5 L942.9,2171.5 L942.8,2174.5 L943.1,2179.6 L943.8,2183.8 L944.7,2186.3 L945.5,2188.0 L948.8,2186.2 L947.8,2184.8 L946.7,2182.9 L945.5,2179.2 L944.4,2174.3 L944.0,2171.5 L944.0,2169.5 L943.8,2167.1 Z"/><path d="M896.5,2225.6 L897.3,2227.5 L897.7,2229.2 L898.3,2231.1 L899.8,2233.6 L902.8,2237.1 L905.6,2239.7 L907.5,2241.1 L909.2,2238.7 L907.3,2237.5 L904.4,2235.4 L901.1,2232.6 L899.4,2230.5 L898.6,2228.9 L897.9,2227.3 L896.8,2225.4 Z"/><path d="M1059.6,2021.2 L1060.4,2023.4 L1061.3,2025.1 L1061.9,2027.6 L1062.1,2031.9 L1062.0,2035.3 L1061.7,2036.9 L1061.2,2038.1 L1060.4,2040.1 L1059.3,2043.8 L1058.2,2047.3 L1057.5,2048.7 L1056.9,2050.0 L1056.3,2052.1 L1055.5,2056.2 L1055.2,2060.0 L1059.4,2060.3 L1059.6,2056.7 L1059.9,2052.7 L1060.2,2051.0 L1060.6,2050.0 L1061.3,2048.2 L1062.0,2044.5 L1062.8,2040.8 L1063.4,2038.9 L1063.8,2037.4 L1063.9,2035.4 L1063.7,2031.8 L1063.1,2027.4 L1062.1,2024.8 L1061.1,2023.1 L1060.1,2021.0 Z"/><path d="M1088.8,2053.4 L1089.0,2055.6 L1089.2,2057.6 L1088.0,2060.8 L1087.0,2063.5 L1086.6,2064.0 L1082.8,2065.4 L1079.8,2066.6 L1081.4,2070.5 L1084.5,2069.0 L1088.4,2066.6 L1089.6,2064.5 L1090.1,2061.3 L1090.6,2057.7 L1089.9,2055.4 L1089.3,2053.3 Z"/><path d="M1103.4,2053.4 L1103.2,2055.8 L1103.1,2058.1 L1101.5,2062.3 L1099.8,2065.2 L1098.5,2066.4 L1097.0,2067.8 L1094.9,2071.2 L1093.0,2074.3 L1092.1,2075.7 L1091.6,2077.8 L1091.1,2082.5 L1090.9,2086.5 L1091.1,2089.2 L1095.3,2088.6 L1094.9,2086.3 L1094.7,2082.6 L1094.8,2078.1 L1094.9,2076.8 L1095.5,2075.7 L1097.1,2072.4 L1098.8,2069.0 L1099.9,2067.7 L1101.3,2066.2 L1102.8,2062.9 L1104.0,2058.3 L1104.0,2055.8 L1103.9,2053.4 Z"/><path d="M1111.3,2128.5 L1108.9,2129.0 L1106.9,2129.4 L1104.8,2129.8 L1101.7,2130.2 L1097.2,2131.1 L1097.8,2133.9 L1102.4,2132.7 L1105.3,2131.5 L1107.3,2130.6 L1109.1,2129.8 L1111.4,2128.8 Z"/><path d="M1132.6,2035.0 L1132.5,2037.4 L1132.4,2039.6 L1132.4,2042.5 L1132.8,2047.4 L1133.5,2051.3 L1134.4,2053.6 L1135.2,2054.9 L1135.5,2056.4 L1135.2,2059.3 L1134.3,2062.5 L1133.5,2063.2 L1131.7,2064.6 L1129.5,2067.8 L1127.5,2071.2 L1131.4,2073.3 L1133.1,2069.8 L1134.6,2066.9 L1135.9,2065.8 L1137.4,2063.8 L1138.2,2059.7 L1138.1,2056.2 L1137.5,2054.0 L1136.5,2052.5 L1135.5,2050.7 L1134.5,2047.1 L1133.6,2042.4 L1133.3,2039.6 L1133.3,2037.4 L1133.1,2034.9 Z"/><path d="M1182.5,2117.9 L1182.3,2120.1 L1182.0,2122.0 L1181.6,2123.8 L1181.5,2126.2 L1181.6,2129.3 L1182.1,2133.7 L1183.0,2137.7 L1184.0,2140.2 L1185.1,2141.8 L1185.8,2142.8 L1186.6,2144.6 L1190.8,2142.5 L1189.6,2140.4 L1188.4,2139.0 L1187.4,2138.1 L1186.4,2136.4 L1185.0,2132.9 L1183.9,2128.9 L1183.3,2126.1 L1183.2,2123.9 L1183.2,2122.1 L1183.2,2120.2 L1183.1,2117.9 Z"/><path d="M1184.8,2025.0 L1184.5,2027.8 L1186.3,2032.0 L1188.5,2034.8 L1190.5,2036.0 L1192.3,2031.9 L1190.8,2031.6 L1188.5,2030.2 L1185.9,2027.3 L1185.4,2025.0 Z"/><path d="M1183.9,2169.7 L1185.0,2169.7 L1190.0,2170.0 L1193.0,2170.4 L1195.4,2171.0 L1197.5,2171.5 L1199.7,2171.9 L1202.4,2171.9 L1205.7,2171.5 L1210.5,2170.3 L1212.4,2168.0 L1213.3,2164.4 L1214.1,2160.9 L1213.4,2158.5 L1212.2,2154.2 L1211.5,2150.8 L1210.8,2148.9 L1206.1,2150.6 L1206.8,2152.3 L1207.8,2155.5 L1209.4,2159.9 L1210.1,2161.0 L1209.7,2163.7 L1209.3,2166.9 L1209.1,2167.5 L1205.0,2168.8 L1202.1,2169.6 L1199.8,2169.7 L1197.8,2169.6 L1195.7,2169.3 L1193.2,2168.9 L1190.0,2168.8 L1185.0,2168.9 L1183.8,2169.1 Z"/><path d="M1194.7,2099.6 L1196.9,2098.6 L1198.9,2097.7 L1202.4,2097.7 L1202.2,2095.1 L1198.3,2095.8 L1196.3,2097.7 L1194.5,2099.4 Z"/><path d="M1209.0,2191.6 L1208.4,2194.1 L1207.8,2196.4 L1207.4,2198.7 L1206.8,2201.1 L1206.1,2203.4 L1205.1,2205.9 L1203.9,2208.8 L1206.8,2209.9 L1208.0,2207.0 L1208.6,2204.1 L1208.9,2201.4 L1209.1,2199.0 L1209.1,2196.6 L1209.2,2194.2 L1209.4,2191.7 Z"/><path d="M1238.9,2147.1 L1238.3,2149.1 L1237.7,2150.7 L1237.1,2153.2 L1236.8,2157.9 L1236.8,2161.6 L1237.0,2163.7 L1237.3,2165.3 L1237.8,2167.6 L1238.5,2172.0 L1239.1,2175.9 L1239.7,2178.3 L1240.2,2179.8 L1240.5,2181.1 L1240.7,2183.3 L1240.7,2187.2 L1240.9,2191.2 L1245.6,2190.9 L1245.3,2186.9 L1244.8,2182.8 L1244.3,2180.3 L1243.7,2178.6 L1243.1,2177.2 L1242.4,2175.1 L1241.4,2171.4 L1240.3,2167.0 L1239.6,2164.7 L1239.1,2163.3 L1238.8,2161.5 L1238.5,2157.9 L1238.3,2153.3 L1238.6,2150.9 L1239.0,2149.3 L1239.4,2147.2 Z"/><path d="M1211.3,2216.4 L1212.4,2218.7 L1213.3,2220.8 L1214.8,2223.4 L1217.8,2226.9 L1220.6,2224.1 L1217.2,2221.2 L1215.1,2219.4 L1213.6,2217.9 L1211.7,2216.1 Z"/><path d="M1186.8,2256.5 L1189.0,2257.4 L1190.8,2258.3 L1192.6,2259.2 L1194.8,2260.2 L1197.8,2261.4 L1201.9,2262.8 L1206.4,2263.6 L1207.0,2259.5 L1202.7,2258.8 L1198.5,2258.4 L1195.5,2257.9 L1193.2,2257.4 L1191.3,2257.0 L1189.3,2256.5 L1187.0,2256.0 Z"/><path d="M1250.6,2105.7 L1250.7,2108.1 L1250.5,2110.3 L1251.1,2113.3 L1253.6,2117.1 L1255.5,2115.7 L1252.6,2112.4 L1251.7,2110.1 L1251.5,2108.0 L1250.8,2105.6 Z"/><path d="M1258.2,2260.9 L1258.5,2263.2 L1258.5,2265.3 L1259.1,2268.1 L1260.8,2272.3 L1263.6,2270.9 L1261.3,2267.1 L1260.1,2264.8 L1259.5,2263.0 L1258.6,2260.8 Z"/><path d="M1326.5,2251.7 L1327.0,2254.0 L1327.5,2256.0 L1327.9,2258.5 L1328.2,2262.5 L1328.2,2266.4 L1328.0,2267.7 L1326.9,2271.2 L1325.6,2274.3 L1324.5,2275.8 L1323.2,2280.4 L1322.6,2283.9 L1326.8,2284.6 L1327.2,2281.2 L1327.9,2276.9 L1328.7,2275.7 L1329.7,2272.0 L1330.4,2268.2 L1330.5,2266.3 L1330.0,2262.3 L1329.3,2258.3 L1328.5,2255.7 L1327.7,2253.8 L1327.0,2251.5 Z"/><path d="M1315.1,2263.3 L1316.8,2264.8 L1318.5,2266.2 L1321.4,2268.2 L1322.9,2265.7 L1319.6,2264.2 L1317.5,2263.6 L1315.3,2263.0 Z"/><path d="M1380.5,2266.5 L1382.6,2267.3 L1386.2,2270.6 L1388.0,2273.0 L1388.7,2274.3 L1389.5,2276.2 L1391.6,2280.1 L1393.6,2283.3 L1394.7,2285.2 L1395.6,2286.6 L1396.7,2288.4 L1398.7,2291.4 L1402.3,2288.7 L1400.0,2286.0 L1398.7,2284.4 L1397.7,2283.1 L1396.3,2281.4 L1394.0,2278.5 L1391.5,2275.0 L1390.5,2273.3 L1389.5,2271.8 L1387.2,2269.5 L1383.1,2266.6 L1380.6,2266.0 Z"/><path d="M1416.4,2277.7 L1416.1,2279.9 L1415.8,2281.8 L1414.3,2284.8 L1412.8,2287.3 L1416.3,2289.0 L1417.5,2286.0 L1417.8,2282.1 L1417.4,2279.8 L1416.9,2277.7 Z"/></g>
<g fill="#678dcd"><path d="M280.6,2277.4 L282.2,2279.2 L283.8,2280.8 L285.5,2282.9 L287.6,2286.7 L289.2,2290.2 L289.8,2291.7 L289.8,2293.3 L290.0,2297.0 L292.6,2296.8 L292.2,2293.1 L291.9,2291.2 L291.0,2289.3 L288.9,2286.0 L286.4,2282.3 L284.4,2280.2 L282.6,2278.8 L280.8,2277.2 Z"/><path d="M334.3,2289.5 L335.7,2291.5 L336.9,2293.2 L338.6,2295.5 L341.4,2299.1 L344.4,2301.5 L346.2,2301.6 L346.7,2301.9 L348.3,2306.5 L350.8,2305.6 L348.9,2300.6 L346.8,2299.3 L345.3,2299.5 L342.6,2297.8 L339.5,2294.7 L337.6,2292.7 L336.2,2291.1 L334.5,2289.3 Z"/><path d="M357.7,2275.7 L357.3,2277.9 L357.0,2279.6 L356.7,2281.4 L355.9,2284.3 L354.3,2289.0 L356.9,2289.7 L357.8,2284.7 L358.1,2281.6 L358.1,2279.6 L358.0,2278.0 L358.0,2275.8 Z"/><path d="M426.6,2257.6 L426.2,2259.9 L425.8,2261.9 L425.4,2264.7 L425.2,2269.7 L425.3,2273.6 L425.7,2275.6 L426.0,2276.9 L426.2,2278.9 L426.0,2283.3 L425.9,2286.9 L428.8,2287.1 L428.9,2283.3 L428.7,2278.8 L428.2,2276.4 L427.7,2275.0 L427.2,2273.3 L426.7,2269.7 L426.5,2264.8 L426.6,2262.0 L426.8,2260.0 L426.9,2257.6 Z"/><path d="M431.9,2277.2 L429.9,2279.9 L428.5,2282.9 L430.5,2283.7 L431.7,2280.7 L432.2,2277.3 Z"/><path d="M482.8,2283.1 L484.0,2284.8 L483.9,2289.0 L482.8,2291.8 L481.6,2293.4 L480.1,2295.4 L478.0,2299.2 L476.4,2302.9 L478.6,2303.8 L480.1,2300.2 L481.7,2296.3 L482.9,2294.3 L484.0,2292.4 L484.9,2289.2 L484.5,2284.7 L483.0,2283.0 Z"/><path d="M548.5,2227.0 L547.7,2229.0 L546.9,2231.1 L546.5,2236.2 L546.9,2239.8 L547.5,2242.1 L548.1,2243.8 L548.6,2246.0 L548.9,2249.9 L549.1,2254.2 L551.9,2254.0 L551.5,2249.6 L550.8,2245.6 L550.0,2243.1 L549.2,2241.4 L548.4,2239.5 L547.8,2236.1 L547.6,2231.1 L548.2,2229.2 L548.9,2227.1 Z"/><path d="M555.4,2260.2 L551.6,2260.8 L552.6,2263.0 L555.6,2260.5 Z"/><path d="M612.8,2201.3 L612.6,2203.8 L612.2,2206.0 L612.2,2209.0 L613.0,2213.7 L614.3,2217.6 L615.5,2219.4 L616.7,2220.9 L618.6,2224.7 L620.2,2228.1 L621.3,2229.9 L624.0,2228.2 L622.9,2226.6 L621.0,2223.4 L618.7,2219.6 L617.1,2218.0 L616.1,2216.8 L614.5,2213.2 L613.3,2208.8 L613.1,2206.1 L613.2,2203.9 L613.2,2201.3 Z"/><path d="M637.1,2263.3 L636.1,2265.3 L635.2,2267.2 L632.3,2271.9 L630.6,2275.2 L632.9,2276.4 L634.6,2273.0 L636.4,2267.7 L636.9,2265.5 L637.4,2263.4 Z"/><path d="M697.5,2093.9 L697.6,2096.4 L697.7,2098.4 L697.8,2100.4 L698.0,2102.8 L698.3,2106.2 L698.9,2110.8 L699.7,2114.9 L700.4,2117.2 L700.9,2118.5 L701.3,2119.6 L701.7,2121.7 L701.9,2125.9 L702.1,2129.7 L702.1,2132.1 L702.1,2133.6 L701.9,2134.8 L701.6,2136.5 L706.3,2137.2 L706.5,2135.4 L706.6,2133.8 L706.5,2131.9 L706.2,2129.4 L705.7,2125.5 L705.0,2121.2 L704.3,2118.7 L703.6,2117.3 L703.0,2116.2 L702.2,2114.2 L701.1,2110.3 L700.1,2105.9 L699.4,2102.6 L699.0,2100.3 L698.7,2098.3 L698.4,2096.3 L698.0,2093.9 Z"/><path d="M731.6,2159.0 L731.3,2161.2 L731.0,2163.3 L729.2,2167.7 L727.7,2171.2 L727.1,2172.8 L726.0,2174.1 L722.7,2177.2 L725.8,2180.1 L728.8,2176.6 L730.1,2174.2 L730.5,2172.0 L731.4,2168.4 L732.4,2163.6 L732.2,2161.2 L732.1,2159.0 Z"/><path d="M671.9,2237.8 L672.9,2239.6 L673.7,2241.2 L675.0,2243.3 L677.8,2246.4 L679.9,2244.1 L676.7,2241.6 L674.9,2240.2 L673.7,2238.9 L672.2,2237.5 Z"/><path d="M798.1,2040.2 L797.0,2042.0 L796.0,2043.7 L792.7,2045.9 L789.7,2046.8 L787.8,2046.7 L785.4,2046.6 L781.8,2047.6 L777.9,2049.0 L776.0,2050.4 L773.8,2054.2 L772.2,2057.3 L771.6,2059.7 L771.4,2061.6 L771.1,2063.5 L770.1,2066.6 L774.4,2067.9 L775.3,2064.5 L775.5,2061.9 L775.5,2060.2 L775.7,2058.5 L776.8,2055.7 L778.5,2052.1 L779.2,2051.5 L782.6,2049.9 L785.8,2048.7 L787.8,2048.6 L790.0,2048.4 L793.3,2047.1 L796.7,2044.4 L797.7,2042.4 L798.6,2040.5 Z"/><path d="M792.9,2064.3 L794.4,2065.5 L795.8,2066.4 L796.8,2070.5 L797.0,2073.5 L797.0,2075.4 L796.7,2076.9 L795.8,2079.4 L794.4,2083.7 L797.7,2084.6 L798.8,2080.2 L799.3,2077.5 L799.4,2075.4 L799.1,2073.3 L798.4,2070.1 L796.7,2065.9 L794.8,2064.9 L793.1,2064.0 Z"/><path d="M778.9,2143.3 L778.8,2145.8 L778.8,2147.8 L778.8,2150.0 L778.4,2153.1 L777.4,2157.7 L776.2,2161.6 L775.2,2163.4 L774.2,2164.7 L773.1,2167.1 L772.1,2171.4 L775.4,2172.0 L776.0,2167.8 L776.7,2166.0 L777.5,2164.7 L778.5,2162.4 L779.3,2158.1 L779.8,2153.3 L779.9,2150.1 L779.7,2147.8 L779.5,2145.7 L779.4,2143.3 Z"/><path d="M870.5,2169.5 L872.6,2171.2 L874.5,2172.6 L876.7,2174.4 L878.1,2172.1 L875.4,2171.0 L873.1,2170.2 L870.6,2169.3 Z"/><path d="M888.9,2171.6 L886.7,2174.3 L885.2,2177.3 L887.7,2178.4 L888.8,2175.2 L889.2,2171.8 Z"/><path d="M968.3,2032.0 L970.5,2033.7 L972.6,2035.2 L975.1,2038.8 L976.9,2042.1 L979.5,2040.3 L977.2,2037.2 L973.6,2034.0 L971.0,2032.8 L968.5,2031.7 Z"/><path d="M984.4,2015.0 L984.0,2017.1 L983.8,2018.8 L983.2,2021.2 L981.8,2025.4 L980.4,2028.8 L983.4,2029.8 L984.3,2026.1 L984.9,2021.5 L985.0,2018.9 L984.8,2017.1 L984.8,2015.0 Z"/><path d="M952.4,2109.7 L953.9,2109.3 L956.6,2106.0 L958.1,2103.5 L959.1,2102.0 L959.8,2100.4 L960.7,2098.0 L962.2,2093.7 L963.3,2090.0 L963.8,2087.7 L960.2,2087.1 L960.0,2089.3 L959.4,2093.0 L958.4,2097.3 L957.9,2099.8 L957.4,2101.3 L956.8,2102.8 L955.6,2105.3 L953.4,2108.9 L952.2,2109.3 Z"/><path d="M1018.9,2022.6 L1018.4,2025.0 L1017.8,2026.9 L1017.3,2029.1 L1017.0,2032.2 L1017.3,2036.7 L1018.0,2040.8 L1019.0,2043.1 L1019.9,2044.5 L1020.9,2046.1 L1022.0,2049.5 L1023.4,2053.4 L1027.3,2051.7 L1025.5,2048.1 L1023.8,2044.6 L1022.4,2042.7 L1021.4,2041.6 L1020.5,2040.0 L1019.4,2036.3 L1018.7,2032.1 L1018.6,2029.2 L1018.8,2027.1 L1019.2,2025.1 L1019.4,2022.7 Z"/><path d="M1019.7,2137.9 L1018.9,2140.1 L1018.2,2142.0 L1017.1,2144.3 L1014.9,2148.1 L1013.0,2151.4 L1015.6,2152.8 L1017.2,2149.2 L1018.7,2145.0 L1019.3,2142.3 L1019.6,2140.3 L1020.1,2138.0 Z"/><path d="M982.1,2184.0 L981.5,2186.3 L981.0,2188.8 L982.0,2192.3 L983.7,2194.7 L985.9,2192.9 L984.1,2191.1 L982.5,2188.5 L982.5,2186.4 L982.4,2184.0 Z"/><path d="M1014.6,2259.1 L1012.5,2257.9 L1010.6,2256.9 L1008.2,2255.5 L1004.3,2253.5 L1003.2,2255.9 L1007.3,2257.5 L1010.0,2258.3 L1012.1,2258.8 L1014.5,2259.4 Z"/><path d="M1088.1,2176.4 L1088.4,2178.8 L1088.8,2180.8 L1089.1,2183.6 L1089.0,2188.6 L1088.8,2192.4 L1088.6,2194.3 L1088.3,2195.7 L1087.8,2197.9 L1086.8,2202.2 L1086.0,2206.0 L1085.5,2208.2 L1085.2,2209.5 L1084.8,2211.0 L1088.6,2211.9 L1088.9,2210.3 L1089.1,2208.8 L1089.4,2206.5 L1089.8,2202.7 L1090.3,2198.3 L1090.7,2196.1 L1090.9,2194.5 L1090.8,2192.5 L1090.7,2188.6 L1090.3,2183.5 L1089.7,2180.6 L1089.1,2178.7 L1088.5,2176.3 Z"/><path d="M1059.6,2244.0 L1059.9,2246.7 L1060.2,2249.6 L1062.5,2254.1 L1064.8,2257.0 L1067.6,2254.2 L1065.0,2252.1 L1061.9,2248.7 L1061.0,2246.4 L1060.1,2243.9 Z"/><path d="M1178.7,2219.4 L1179.5,2221.6 L1180.3,2223.8 L1181.3,2228.7 L1182.2,2232.7 L1182.7,2234.9 L1182.8,2236.9 L1182.2,2240.6 L1181.4,2244.0 L1180.7,2244.8 L1179.3,2246.1 L1177.4,2249.1 L1175.1,2252.1 L1174.0,2253.2 L1177.0,2256.1 L1178.3,2254.6 L1180.5,2251.1 L1182.1,2248.0 L1183.2,2246.9 L1184.2,2244.9 L1184.9,2241.1 L1185.1,2236.9 L1184.8,2234.5 L1183.9,2232.2 L1182.7,2228.4 L1181.2,2223.5 L1180.2,2221.4 L1179.2,2219.2 Z"/><path d="M1155.9,2239.5 L1158.0,2240.3 L1159.9,2240.9 L1161.9,2241.6 L1164.3,2242.7 L1167.6,2244.1 L1168.8,2240.7 L1165.2,2239.7 L1162.4,2239.4 L1160.2,2239.3 L1158.2,2239.2 L1155.9,2239.1 Z"/><path d="M1262.8,2210.3 L1263.8,2212.1 L1264.8,2213.7 L1264.6,2217.8 L1264.0,2220.8 L1263.4,2222.2 L1262.2,2224.0 L1259.6,2227.9 L1257.5,2231.1 L1256.1,2232.5 L1254.8,2233.8 L1253.2,2236.0 L1251.2,2240.1 L1249.7,2243.8 L1253.6,2245.2 L1254.8,2241.6 L1256.3,2237.6 L1257.4,2235.7 L1258.4,2234.6 L1259.8,2232.7 L1261.7,2229.2 L1263.9,2225.0 L1265.0,2223.0 L1265.6,2221.2 L1265.9,2217.8 L1265.7,2213.6 L1264.4,2211.7 L1263.2,2210.0 Z"/><path d="M1239.0,2265.5 L1239.9,2268.4 L1241.8,2272.4 L1244.2,2270.8 L1241.3,2267.5 L1239.3,2265.3 Z"/><path d="M1301.2,2196.4 L1302.4,2198.2 L1303.5,2199.6 L1304.7,2201.7 L1306.1,2205.8 L1307.3,2209.7 L1307.9,2211.7 L1307.9,2213.5 L1307.0,2217.5 L1305.7,2221.0 L1304.7,2222.0 L1302.8,2223.7 L1300.4,2227.6 L1298.6,2231.1 L1302.4,2232.9 L1304.0,2229.5 L1305.8,2225.7 L1307.2,2224.3 L1308.6,2222.3 L1309.7,2218.1 L1310.2,2213.8 L1310.1,2211.3 L1309.1,2209.0 L1307.5,2205.2 L1305.7,2201.2 L1304.3,2199.1 L1303.0,2197.8 L1301.6,2196.1 Z"/><path d="M1344.3,2268.0 L1346.8,2269.0 L1349.1,2269.8 L1351.7,2270.9 L1355.7,2272.5 L1359.7,2273.8 L1360.7,2273.9 L1362.7,2275.8 L1364.8,2277.9 L1365.1,2278.6 L1365.4,2282.6 L1365.8,2286.0 L1370.0,2285.5 L1369.5,2282.1 L1368.6,2277.8 L1367.4,2275.6 L1364.6,2273.5 L1362.0,2271.6 L1360.2,2271.4 L1356.2,2270.6 L1352.2,2269.5 L1349.4,2268.7 L1347.1,2268.2 L1344.5,2267.5 Z"/></g>
<g fill="#fff" stroke="#5e1c16" stroke-width="2.2" stroke-linejoin="round">
<path d="M235.3,2054.0 C237.3,2050.0 237.3,2053.5 239.1,2057.8 C240.8,2062.1 240.8,2060.9 240.6,2066.9 C240.3,2073.0 238.3,2069.9 238.3,2076.0 C238.3,2082.0 238.8,2079.0 240.6,2085.1 C242.4,2091.1 241.9,2087.6 243.6,2094.2 C245.4,2100.7 243.9,2098.2 245.9,2104.7 C247.9,2111.3 247.4,2107.8 249.7,2113.8 C251.9,2119.9 252.2,2115.8 252.7,2122.9 C253.2,2130.0 253.0,2128.2 251.2,2135.0 C249.4,2141.8 250.2,2140.1 247.4,2143.3 C244.6,2146.6 245.4,2147.6 242.9,2144.8 C240.3,2142.1 241.6,2144.3 239.8,2135.0 C238.1,2125.7 239.1,2129.0 237.6,2116.9 C236.1,2104.7 236.8,2110.8 235.3,2098.7 C233.8,2086.6 233.8,2090.1 233.0,2080.5 C232.3,2070.9 232.3,2078.8 233.0,2069.9 C233.8,2061.1 233.3,2058.1 235.3,2054.0 Z"/>
<path d="M250.4,2223.5 C253.0,2222.0 253.2,2221.0 255.7,2222.8 C258.2,2224.6 257.7,2221.8 258.0,2228.8 C258.2,2235.9 257.7,2233.9 256.5,2244.0 C255.2,2254.1 256.0,2253.1 254.2,2259.1 C252.4,2265.2 253.2,2264.1 251.2,2262.1 C249.2,2260.1 249.7,2261.1 248.2,2253.1 C246.6,2245.0 246.6,2246.5 246.6,2237.9 C246.6,2229.3 246.9,2232.1 248.2,2227.3 C249.4,2222.5 247.9,2225.1 250.4,2223.5 Z"/>
<path d="M299.6,2239.4 C301.7,2235.1 301.6,2238.2 305.7,2240.2 C309.7,2242.2 309.4,2240.2 311.7,2245.5 C314.0,2250.8 313.5,2250.0 312.5,2256.1 C311.5,2262.1 312.7,2260.9 308.7,2263.6 C304.7,2266.4 303.5,2267.9 300.4,2264.4 C297.2,2260.9 299.6,2261.4 299.3,2253.1 C299.1,2244.7 297.5,2243.7 299.6,2239.4 Z"/>
<path d="M342.7,2260.6 C345.5,2259.4 345.0,2259.6 346.5,2262.1 C348.0,2264.7 349.8,2265.9 347.3,2268.2 C344.8,2270.5 342.0,2269.7 339.0,2268.9 C335.9,2268.2 336.9,2268.7 338.2,2265.9 C339.5,2263.1 340.0,2261.9 342.7,2260.6 Z"/>
<path d="M498.8,2252.8 C501.3,2253.0 501.0,2252.3 501.8,2255.8 C502.5,2259.3 502.0,2259.1 501.0,2263.4 C500.0,2267.7 502.5,2266.8 498.8,2268.7 C495.0,2270.6 492.4,2271.4 489.7,2269.1 C486.9,2266.9 488.9,2266.6 490.4,2261.9 C491.9,2257.2 491.4,2258.1 494.2,2255.1 C497.0,2252.0 496.2,2252.5 498.8,2252.8 Z"/>
<path d="M616.0,2237.7 C618.8,2236.6 618.8,2237.7 619.8,2239.9 C620.8,2242.2 620.6,2241.9 619.1,2244.5 C617.5,2247.0 617.8,2246.7 615.3,2247.5 C612.8,2248.2 612.8,2248.2 611.5,2246.7 C610.2,2245.2 610.0,2246.0 611.5,2242.9 C613.0,2239.9 613.3,2238.7 616.0,2237.7 Z"/>
<path d="M679.6,2190.7 C682.1,2188.0 681.6,2189.5 683.4,2193.0 C685.1,2196.5 685.1,2195.5 684.9,2201.3 C684.6,2207.1 683.9,2203.9 682.6,2210.4 C681.4,2217.0 682.9,2217.2 681.1,2221.0 C679.3,2224.8 679.1,2224.3 677.3,2221.8 C675.6,2219.2 676.3,2220.2 675.8,2213.4 C675.3,2206.6 674.6,2208.9 675.8,2201.3 C677.1,2193.8 677.1,2193.5 679.6,2190.7 Z"/>
<path d="M713.1,2193.2 C716.4,2196.8 715.4,2194.2 719.2,2202.4 C723.1,2210.6 723.1,2207.0 724.6,2217.8 C726.1,2228.6 725.1,2225.0 723.8,2234.7 C722.5,2244.4 722.8,2239.8 720.8,2247.0 C718.7,2254.2 721.3,2252.9 717.7,2256.2 C714.1,2259.5 714.6,2257.5 710.0,2257.0 C705.4,2256.5 706.7,2260.1 703.9,2254.7 C701.0,2249.3 702.1,2253.1 701.5,2240.9 C701.0,2228.6 701.0,2231.6 702.3,2217.8 C703.6,2204.0 703.1,2208.1 705.4,2199.4 C707.7,2190.7 706.7,2193.7 709.2,2191.7 C711.8,2189.6 709.7,2189.6 713.1,2193.2 Z"/>
<path d="M730.7,2049.5 C733.3,2048.5 733.8,2048.3 734.6,2051.1 C735.4,2053.9 734.8,2054.4 733.0,2058.0 C731.3,2061.6 731.8,2061.1 729.2,2061.8 C726.6,2062.6 726.1,2062.9 725.4,2060.3 C724.6,2057.7 725.1,2057.7 726.9,2054.2 C728.7,2050.6 728.2,2050.6 730.7,2049.5 Z"/>
<path d="M780.7,2024.2 C785.5,2022.4 787.3,2023.4 789.9,2026.5 C792.5,2029.6 790.9,2029.8 788.4,2033.4 C785.8,2037.0 786.3,2035.5 782.2,2037.3 C778.1,2039.0 778.4,2040.6 776.1,2038.8 C773.8,2037.0 773.8,2036.7 775.3,2031.9 C776.8,2027.0 775.8,2026.0 780.7,2024.2 Z"/>
<path d="M783.8,2070.3 C785.5,2070.8 785.5,2070.8 786.1,2076.4 C786.6,2082.1 786.6,2081.0 785.3,2087.2 C784.0,2093.3 784.8,2091.8 782.2,2094.9 C779.7,2098.0 780.2,2097.4 777.6,2096.4 C775.0,2095.4 775.0,2095.9 774.5,2091.8 C774.0,2087.7 774.0,2089.8 776.1,2084.1 C778.1,2078.5 778.1,2079.5 780.7,2074.9 C783.2,2070.3 782.0,2069.8 783.8,2070.3 Z"/>
<path d="M842.1,2025.0 C845.5,2024.2 846.0,2024.2 848.3,2028.0 C850.6,2031.9 849.6,2031.1 849.1,2036.5 C848.5,2041.9 849.6,2041.9 846.8,2044.2 C843.9,2046.5 843.7,2045.5 840.6,2043.4 C837.5,2041.4 838.3,2042.4 837.5,2038.0 C836.8,2033.7 836.8,2034.7 838.3,2030.3 C839.8,2026.0 838.8,2025.7 842.1,2025.0 Z"/>
<path d="M915.1,2014.2 C917.7,2013.4 917.9,2013.4 919.0,2017.3 C920.0,2021.1 919.2,2019.6 918.2,2025.7 C917.2,2031.9 917.9,2031.9 915.9,2035.7 C913.9,2039.6 914.1,2038.5 912.1,2037.3 C910.0,2036.0 910.0,2037.8 909.8,2031.9 C909.5,2026.0 909.5,2025.5 911.3,2019.6 C913.1,2013.7 912.6,2015.0 915.1,2014.2 Z"/>
<path d="M908.2,2074.9 C912.1,2073.6 911.5,2073.6 913.6,2078.7 C915.6,2083.9 914.9,2081.3 914.4,2090.3 C913.9,2099.2 913.6,2094.9 912.1,2105.6 C910.5,2116.4 910.8,2111.8 909.8,2122.5 C908.7,2133.3 910.5,2134.3 909.0,2137.9 C907.4,2141.5 907.4,2139.9 905.1,2133.3 C902.8,2126.6 903.6,2129.2 902.1,2117.9 C900.5,2106.7 900.5,2111.3 900.5,2099.5 C900.5,2087.7 899.5,2090.8 902.1,2082.6 C904.6,2074.4 904.4,2076.2 908.2,2074.9 Z"/>
<path d="M823.7,2134.8 C827.8,2132.3 826.8,2134.3 829.9,2141.0 C832.9,2147.6 832.7,2144.6 832.9,2154.8 C833.2,2165.0 832.7,2160.9 830.6,2171.7 C828.6,2182.5 829.6,2178.9 826.8,2187.1 C824.0,2195.3 825.8,2193.7 822.2,2196.3 C818.6,2198.9 819.1,2198.3 816.0,2194.8 C813.0,2191.2 813.5,2194.8 813.0,2185.5 C812.4,2176.3 813.0,2179.4 814.5,2167.1 C816.0,2154.8 814.5,2159.4 817.6,2148.7 C820.6,2137.9 819.6,2137.4 823.7,2134.8 Z"/>
<path d="M791.4,2168.6 C794.0,2169.1 794.5,2168.1 796.0,2173.2 C797.6,2178.4 797.1,2179.1 796.0,2184.0 C795.0,2188.9 795.5,2187.3 793.0,2187.8 C790.4,2188.4 790.4,2188.9 788.4,2185.5 C786.3,2182.2 786.8,2182.5 786.8,2177.9 C786.8,2173.2 786.8,2174.8 788.4,2171.7 C789.9,2168.6 788.9,2168.1 791.4,2168.6 Z"/>
<path d="M754.6,2191.7 C757.9,2191.7 757.9,2191.7 760.7,2197.8 C763.5,2204.0 762.2,2200.9 763.0,2210.1 C763.8,2219.3 764.0,2215.2 763.0,2225.5 C762.0,2235.7 761.2,2231.6 759.9,2240.9 C758.7,2250.1 760.5,2247.0 759.2,2253.1 C757.9,2259.3 758.4,2258.3 756.1,2259.3 C753.8,2260.3 754.6,2262.4 752.3,2256.2 C750.0,2250.1 750.7,2251.1 749.2,2240.9 C747.6,2230.6 747.9,2235.7 747.6,2225.5 C747.4,2215.2 747.4,2219.3 748.4,2210.1 C749.4,2200.9 748.7,2204.0 750.7,2197.8 C752.8,2191.7 751.2,2191.7 754.6,2191.7 Z"/>
<path d="M862.1,2187.1 C865.4,2186.6 865.4,2186.6 867.5,2193.2 C869.5,2199.9 869.5,2197.3 868.3,2207.0 C867.0,2216.8 866.5,2212.2 863.7,2222.4 C860.8,2232.7 861.6,2227.5 859.8,2237.8 C858.0,2248.0 860.3,2246.0 858.3,2253.1 C856.2,2260.3 856.7,2258.8 853.7,2259.3 C850.6,2259.8 850.9,2260.8 849.1,2254.7 C847.3,2248.5 847.8,2251.6 848.3,2240.9 C848.8,2230.1 848.5,2233.7 850.6,2222.4 C852.6,2211.1 852.1,2216.3 854.4,2207.0 C856.7,2197.8 854.9,2201.4 857.5,2194.8 C860.1,2188.1 858.8,2187.6 862.1,2187.1 Z"/>
<path d="M905.1,2158.6 C908.5,2154.8 908.7,2155.8 911.3,2160.2 C913.9,2164.5 912.6,2162.7 912.8,2171.7 C913.1,2180.7 912.8,2174.3 912.1,2187.1 C911.3,2199.9 911.5,2197.8 910.5,2210.1 C909.5,2222.4 910.5,2219.9 909.0,2223.9 C907.4,2228.0 908.0,2227.0 905.9,2222.4 C903.9,2217.8 904.4,2220.4 902.8,2210.1 C901.3,2199.9 901.8,2204.5 901.3,2191.7 C900.8,2178.9 900.0,2182.7 901.3,2171.7 C902.6,2160.7 901.8,2162.5 905.1,2158.6 Z"/>
<path d="M970.0,2011.9 C974.6,2011.6 973.6,2011.4 976.9,2013.4 C980.2,2015.5 980.2,2015.2 980.0,2018.0 C979.7,2020.9 980.5,2020.6 976.1,2021.9 C971.8,2023.2 971.8,2022.9 966.9,2021.9 C962.0,2020.9 962.8,2021.4 961.5,2018.8 C960.2,2016.3 960.2,2016.5 963.1,2014.2 C965.9,2011.9 965.4,2012.2 970.0,2011.9 Z"/>
<path d="M978.4,2085.7 C981.2,2085.7 981.0,2084.6 983.0,2090.3 C985.1,2095.9 984.6,2093.3 984.6,2102.6 C984.6,2111.8 984.3,2107.7 983.0,2117.9 C981.8,2128.2 983.0,2123.0 980.7,2133.3 C978.4,2143.5 978.9,2138.4 976.1,2148.7 C973.3,2158.9 974.6,2153.8 972.3,2164.0 C970.0,2174.3 970.5,2169.1 969.2,2179.4 C967.9,2189.6 969.7,2186.0 968.4,2194.8 C967.2,2203.5 967.7,2202.9 965.4,2205.5 C963.1,2208.1 963.8,2207.0 961.5,2202.4 C959.2,2197.8 958.7,2201.9 958.5,2191.7 C958.2,2181.4 958.5,2186.0 960.8,2171.7 C963.1,2157.4 962.3,2161.5 965.4,2148.7 C968.4,2135.9 967.4,2143.5 970.0,2133.3 C972.5,2123.0 972.0,2128.2 973.0,2117.9 C974.1,2107.7 972.5,2111.8 973.0,2102.6 C973.6,2093.3 972.8,2095.9 974.6,2090.3 C976.4,2084.6 975.6,2085.7 978.4,2085.7 Z"/>
<path d="M1007.6,2111.8 C1010.4,2111.8 1009.9,2112.8 1011.5,2117.9 C1013.0,2123.0 1013.0,2121.5 1012.2,2127.1 C1011.5,2132.8 1011.7,2132.5 1009.2,2134.8 C1006.6,2137.1 1006.9,2136.6 1004.5,2134.1 C1002.2,2131.5 1002.8,2132.5 1002.2,2127.1 C1001.7,2121.8 1001.2,2123.0 1003.0,2117.9 C1004.8,2112.8 1004.8,2111.8 1007.6,2111.8 Z"/>
<path d="M954.6,2225.5 C958.7,2221.9 955.6,2220.9 957.7,2220.9 C959.7,2220.9 957.2,2223.9 960.8,2225.5 C964.3,2227.0 964.3,2223.4 968.4,2225.5 C972.5,2227.5 969.0,2228.8 973.0,2231.6 C977.1,2234.4 974.8,2232.4 980.7,2233.9 C986.6,2235.5 986.9,2233.4 990.7,2236.2 C994.6,2239.1 992.5,2239.1 992.3,2242.4 C992.0,2245.7 994.8,2245.7 990.0,2246.2 C985.1,2246.7 985.9,2243.7 977.7,2243.9 C969.5,2244.2 973.6,2245.4 965.4,2247.0 C957.2,2248.6 960.2,2248.8 953.1,2248.8 C945.9,2248.8 948.5,2249.7 943.9,2247.0 C939.2,2244.3 938.7,2246.0 939.2,2240.9 C939.8,2235.7 940.3,2236.8 945.4,2231.6 C950.5,2226.5 950.5,2229.1 954.6,2225.5 Z"/>
<path d="M1074.5,2078.0 C1078.6,2075.4 1078.3,2076.4 1080.6,2082.6 C1082.9,2088.7 1082.1,2085.7 1081.4,2096.4 C1080.6,2107.2 1080.4,2103.6 1078.3,2114.9 C1076.3,2126.1 1077.5,2122.3 1075.2,2130.2 C1072.9,2138.2 1074.2,2136.6 1071.4,2138.7 C1068.6,2140.7 1068.8,2140.7 1066.8,2136.4 C1064.7,2132.0 1065.5,2134.8 1065.2,2125.6 C1065.0,2116.4 1065.0,2120.5 1066.0,2108.7 C1067.0,2096.9 1065.5,2100.5 1068.3,2090.3 C1071.1,2080.0 1070.4,2080.5 1074.5,2078.0 Z"/>
<path d="M1117.5,2028.0 C1120.3,2026.0 1120.3,2026.5 1121.3,2033.4 C1122.4,2040.3 1121.8,2037.0 1120.6,2048.8 C1119.3,2060.6 1119.3,2056.0 1117.5,2068.8 C1115.7,2081.6 1116.5,2074.9 1115.2,2087.2 C1113.9,2099.5 1115.4,2095.4 1113.6,2105.6 C1111.9,2115.9 1112.9,2113.1 1109.8,2117.9 C1106.7,2122.8 1107.2,2121.8 1104.4,2120.2 C1101.6,2118.7 1102.1,2121.8 1101.4,2113.3 C1100.6,2104.9 1100.8,2107.7 1102.1,2094.9 C1103.4,2082.1 1102.6,2087.7 1105.2,2074.9 C1107.8,2062.1 1107.2,2068.2 1109.8,2056.5 C1112.4,2044.7 1110.3,2049.0 1112.9,2039.6 C1115.4,2030.1 1114.7,2030.1 1117.5,2028.0 Z"/>
<path d="M1101.4,2015.7 C1104.2,2014.2 1103.7,2015.7 1103.7,2021.1 C1103.7,2026.5 1103.4,2025.2 1101.4,2031.9 C1099.3,2038.5 1100.1,2038.0 1097.5,2041.1 C1094.9,2044.2 1095.2,2043.1 1093.7,2041.1 C1092.1,2039.0 1092.4,2040.1 1092.9,2035.0 C1093.4,2029.8 1092.4,2032.1 1095.2,2025.7 C1098.0,2019.3 1098.5,2017.3 1101.4,2015.7 Z"/>
<path d="M1117.5,2011.0 C1120.8,2011.2 1120.6,2011.1 1122.9,2012.2 C1125.2,2013.3 1125.7,2012.8 1124.4,2014.2 C1123.1,2015.6 1122.9,2015.8 1119.0,2016.5 C1115.2,2017.2 1115.7,2017.1 1112.9,2016.2 C1110.1,2015.3 1110.6,2015.3 1110.6,2013.7 C1110.6,2012.2 1110.6,2012.5 1112.9,2011.6 C1115.2,2010.7 1114.2,2010.8 1117.5,2011.0 Z"/>
<path d="M1141.3,2015.0 C1145.7,2015.0 1144.6,2015.5 1146.7,2019.6 C1148.7,2023.7 1148.5,2022.8 1147.4,2027.3 C1146.4,2031.8 1147.2,2031.3 1143.6,2033.1 C1140.0,2034.9 1140.5,2034.6 1136.7,2032.6 C1132.9,2030.7 1133.1,2031.6 1132.1,2027.3 C1131.1,2022.9 1130.5,2023.7 1133.6,2019.6 C1136.7,2015.5 1136.9,2015.0 1141.3,2015.0 Z"/>
<path d="M1141.3,2041.1 C1143.6,2042.1 1144.1,2042.6 1146.7,2047.2 C1149.2,2051.9 1149.5,2051.9 1149.0,2054.9 C1148.5,2058.0 1148.0,2058.0 1145.1,2056.5 C1142.3,2054.9 1142.3,2054.4 1140.5,2050.3 C1138.7,2046.2 1139.5,2047.2 1139.8,2044.2 C1140.0,2041.1 1139.0,2040.1 1141.3,2041.1 Z"/>
<path d="M1139.8,2070.0 C1143.1,2070.2 1142.9,2069.9 1145.1,2072.6 C1147.3,2075.3 1147.1,2074.5 1146.4,2078.0 C1145.6,2081.4 1146.1,2081.4 1142.8,2082.9 C1139.6,2084.4 1139.9,2084.5 1136.7,2082.6 C1133.5,2080.7 1133.8,2080.8 1133.3,2077.2 C1132.8,2073.6 1133.0,2074.2 1135.2,2071.8 C1137.3,2069.4 1136.4,2069.7 1139.8,2070.0 Z"/>
<path d="M1144.4,2096.4 C1146.2,2096.4 1146.4,2098.5 1146.7,2105.6 C1146.9,2112.8 1146.4,2110.8 1145.1,2117.9 C1143.9,2125.1 1144.4,2127.1 1142.8,2127.1 C1141.3,2127.1 1141.0,2125.1 1140.5,2117.9 C1140.0,2110.8 1140.0,2112.8 1141.3,2105.6 C1142.6,2098.5 1142.6,2096.4 1144.4,2096.4 Z"/>
<path d="M1141.3,2136.4 C1145.7,2136.4 1145.4,2136.4 1148.2,2138.7 C1151.0,2141.0 1150.5,2140.1 1149.8,2143.3 C1149.0,2146.5 1149.8,2146.6 1145.9,2148.3 C1142.1,2150.1 1142.4,2149.8 1138.2,2148.7 C1134.0,2147.5 1134.3,2148.1 1133.3,2144.8 C1132.3,2141.5 1132.5,2141.5 1135.2,2138.7 C1137.8,2135.9 1136.9,2136.4 1141.3,2136.4 Z"/>
<path d="M1066.8,2151.7 C1070.6,2151.5 1070.1,2150.7 1072.2,2154.8 C1074.2,2158.9 1074.2,2157.9 1072.9,2164.0 C1071.6,2170.2 1072.4,2169.4 1068.3,2173.2 C1064.2,2177.1 1064.7,2176.1 1060.6,2175.5 C1056.5,2175.0 1057.3,2176.1 1056.0,2171.7 C1054.7,2167.4 1055.3,2167.9 1056.8,2162.5 C1058.3,2157.1 1057.3,2159.2 1060.6,2155.6 C1064.0,2152.0 1062.9,2152.0 1066.8,2151.7 Z"/>
<path d="M1033.0,2174.8 C1035.5,2172.7 1035.5,2174.3 1037.6,2180.9 C1039.6,2187.6 1039.1,2182.5 1039.1,2194.8 C1039.1,2207.0 1038.1,2203.5 1037.6,2217.8 C1037.1,2232.1 1038.1,2226.0 1037.6,2237.8 C1037.1,2249.6 1038.1,2247.0 1036.0,2253.1 C1034.0,2259.3 1034.5,2257.2 1031.4,2256.2 C1028.4,2255.2 1029.1,2257.2 1026.8,2250.1 C1024.5,2242.9 1024.5,2245.5 1024.5,2234.7 C1024.5,2223.9 1025.3,2228.6 1026.8,2217.8 C1028.4,2207.0 1028.1,2212.7 1029.1,2202.4 C1030.2,2192.2 1028.6,2196.3 1029.9,2187.1 C1031.2,2177.9 1030.4,2176.8 1033.0,2174.8 Z"/>
<path d="M1072.9,2184.0 C1076.3,2184.5 1077.0,2181.9 1079.8,2187.1 C1082.7,2192.2 1081.9,2189.1 1081.4,2199.4 C1080.9,2209.6 1080.1,2206.0 1078.3,2217.8 C1076.5,2229.6 1078.3,2226.5 1076.0,2234.7 C1073.7,2242.9 1074.7,2240.3 1071.4,2242.4 C1068.1,2244.4 1068.6,2244.9 1066.0,2240.9 C1063.5,2236.8 1064.0,2239.3 1063.7,2230.1 C1063.5,2220.9 1063.7,2223.9 1065.2,2213.2 C1066.8,2202.4 1066.8,2207.0 1068.3,2197.8 C1069.9,2188.6 1068.3,2190.1 1069.9,2185.5 C1071.4,2180.9 1069.6,2183.5 1072.9,2184.0 Z"/>
<path d="M1108.3,2145.6 C1110.6,2145.1 1110.6,2145.6 1112.1,2153.3 C1113.6,2160.9 1112.9,2157.4 1112.9,2168.6 C1112.9,2179.9 1112.6,2173.2 1112.1,2187.1 C1111.6,2200.9 1111.9,2196.3 1111.3,2210.1 C1110.8,2223.9 1112.1,2217.8 1110.6,2228.6 C1109.0,2239.3 1109.8,2237.5 1106.7,2242.4 C1103.7,2247.3 1104.4,2245.7 1101.4,2243.2 C1098.3,2240.6 1099.3,2243.2 1097.5,2234.7 C1095.7,2226.3 1095.7,2231.1 1096.0,2217.8 C1096.2,2204.5 1096.2,2210.1 1098.3,2194.8 C1100.3,2179.4 1099.8,2185.0 1102.1,2171.7 C1104.4,2158.4 1103.1,2163.5 1105.2,2154.8 C1107.2,2146.1 1106.0,2146.1 1108.3,2145.6 Z"/>
<path d="M1125.2,2170.9 C1127.7,2169.9 1127.5,2170.9 1129.0,2176.3 C1130.5,2181.7 1130.3,2181.9 1129.8,2187.1 C1129.3,2192.2 1129.8,2191.7 1127.5,2191.7 C1125.2,2191.7 1124.9,2191.2 1122.9,2187.1 C1120.8,2183.0 1120.6,2184.8 1121.3,2179.4 C1122.1,2174.0 1122.6,2172.0 1125.2,2170.9 Z"/>
<path d="M1142.8,2156.3 C1145.7,2154.8 1145.7,2155.3 1147.4,2159.4 C1149.2,2163.5 1148.5,2163.0 1148.2,2168.6 C1148.0,2174.3 1145.7,2171.7 1146.7,2176.3 C1147.7,2180.9 1148.7,2180.4 1151.3,2182.5 C1153.9,2184.5 1153.1,2178.4 1154.4,2182.5 C1155.6,2186.6 1154.4,2188.1 1155.1,2194.8 C1155.9,2201.4 1157.4,2198.6 1156.7,2202.4 C1155.9,2206.3 1155.4,2206.3 1152.8,2206.3 C1150.3,2206.3 1150.5,2206.8 1149.0,2202.4 C1147.4,2198.1 1149.8,2198.3 1148.2,2193.2 C1146.7,2188.1 1146.9,2192.7 1144.4,2187.1 C1141.8,2181.4 1142.3,2184.0 1140.5,2176.3 C1138.7,2168.6 1138.2,2170.7 1139.0,2164.0 C1139.8,2157.4 1140.0,2157.9 1142.8,2156.3 Z"/>
<path d="M1134.4,2203.2 C1136.7,2200.6 1137.7,2201.7 1139.8,2205.5 C1141.8,2209.4 1141.0,2208.1 1140.5,2214.7 C1140.0,2221.4 1139.3,2217.8 1138.2,2225.5 C1137.2,2233.2 1139.3,2231.6 1137.5,2237.8 C1135.7,2243.9 1135.7,2243.4 1132.9,2243.9 C1130.0,2244.4 1129.8,2245.5 1129.0,2239.3 C1128.2,2233.2 1129.3,2234.2 1130.5,2225.5 C1131.8,2216.8 1131.6,2220.6 1132.9,2213.2 C1134.1,2205.8 1132.1,2205.8 1134.4,2203.2 Z"/>
<path d="M1169.7,2191.7 C1173.1,2188.1 1171.5,2190.7 1173.6,2199.4 C1175.6,2208.1 1174.6,2205.5 1175.9,2217.8 C1177.2,2230.1 1181.0,2230.6 1177.4,2236.2 C1173.8,2241.9 1174.9,2236.2 1165.1,2234.7 C1155.4,2233.2 1151.8,2236.2 1148.2,2231.6 C1144.6,2227.0 1149.2,2228.0 1154.4,2220.9 C1159.5,2213.7 1158.5,2219.9 1163.6,2210.1 C1168.7,2200.4 1166.4,2195.3 1169.7,2191.7 Z"/>
<path d="M1149.8,2247.0 C1153.3,2247.0 1150.8,2249.6 1155.9,2250.1 C1161.0,2250.6 1160.0,2248.0 1165.1,2248.5 C1170.2,2249.0 1169.7,2249.0 1171.3,2251.6 C1172.8,2254.2 1173.3,2254.2 1169.7,2256.2 C1166.1,2258.3 1167.2,2256.5 1160.5,2257.8 C1153.9,2259.0 1156.4,2260.1 1149.8,2260.1 C1143.1,2260.1 1144.1,2259.8 1140.5,2257.8 C1136.9,2255.7 1137.5,2256.5 1139.0,2253.9 C1140.5,2251.4 1141.6,2252.4 1145.1,2250.1 C1148.7,2247.8 1146.2,2247.0 1149.8,2247.0 Z"/>
<path d="M1096.7,2252.4 C1100.8,2252.3 1100.3,2252.3 1102.9,2254.4 C1105.4,2256.4 1105.2,2255.8 1104.4,2258.5 C1103.7,2261.3 1104.2,2261.1 1100.6,2262.7 C1097.0,2264.2 1097.5,2264.2 1093.7,2263.1 C1089.8,2262.1 1090.1,2262.4 1089.1,2259.6 C1088.0,2256.8 1088.0,2257.1 1090.6,2254.7 C1093.2,2252.3 1092.6,2252.5 1096.7,2252.4 Z"/>
<path d="M1187.4,2047.2 C1189.7,2047.8 1189.7,2047.2 1190.5,2050.3 C1191.2,2053.4 1191.8,2053.9 1189.7,2056.5 C1187.7,2059.0 1186.6,2059.0 1184.3,2058.0 C1182.0,2057.0 1183.0,2056.5 1182.8,2053.4 C1182.5,2050.3 1182.0,2050.8 1183.6,2048.8 C1185.1,2046.7 1185.1,2046.7 1187.4,2047.2 Z"/>
<path d="M1185.1,2081.8 C1186.6,2083.1 1187.1,2082.8 1187.4,2087.2 C1187.7,2091.5 1187.4,2092.1 1185.9,2094.9 C1184.3,2097.7 1184.3,2097.7 1182.8,2095.6 C1181.3,2093.6 1181.3,2092.8 1181.3,2088.7 C1181.3,2084.6 1181.5,2085.7 1182.8,2083.4 C1184.1,2081.0 1183.6,2080.5 1185.1,2081.8 Z"/>
<path d="M1199.2,2059.5 C1202.0,2057.0 1202.3,2057.0 1204.6,2061.1 C1206.9,2065.2 1205.9,2063.1 1206.1,2071.8 C1206.4,2080.5 1206.6,2079.0 1205.4,2087.2 C1204.1,2095.4 1204.9,2093.9 1202.3,2096.4 C1199.7,2099.0 1199.7,2099.0 1197.7,2094.9 C1195.6,2090.8 1196.7,2092.8 1196.1,2084.1 C1195.6,2075.4 1195.1,2077.0 1196.1,2068.8 C1197.2,2060.6 1196.4,2062.1 1199.2,2059.5 Z"/>
<path d="M1190.8,2115.6 C1193.3,2116.6 1192.0,2113.6 1193.8,2119.5 C1195.6,2125.4 1195.9,2123.6 1196.1,2133.3 C1196.4,2143.0 1195.6,2139.4 1194.6,2148.7 C1193.6,2157.9 1194.6,2156.1 1193.1,2160.9 C1191.5,2165.8 1193.1,2165.3 1190.0,2163.3 C1186.9,2161.2 1187.0,2162.7 1183.9,2154.8 C1180.7,2146.9 1181.2,2149.7 1180.5,2139.4 C1179.7,2129.2 1179.7,2131.8 1181.5,2124.1 C1183.4,2116.4 1183.1,2119.2 1186.2,2116.4 C1189.2,2113.6 1188.2,2114.6 1190.8,2115.6 Z"/>
<path d="M1193.1,2177.9 C1196.4,2177.9 1194.9,2174.8 1196.9,2179.4 C1199.0,2184.0 1197.9,2183.5 1199.2,2191.7 C1200.5,2199.9 1200.5,2198.3 1200.8,2204.0 C1201.0,2209.6 1202.0,2208.6 1200.0,2208.6 C1197.9,2208.6 1197.9,2208.6 1194.6,2204.0 C1191.3,2199.4 1193.3,2200.4 1190.0,2194.8 C1186.7,2189.1 1185.6,2192.2 1184.6,2187.1 C1183.6,2181.9 1184.1,2182.5 1186.9,2179.4 C1189.7,2176.3 1189.7,2177.9 1193.1,2177.9 Z"/>
<path d="M1187.7,2059.5 C1189.5,2057.5 1189.6,2056.5 1190.8,2062.6 C1191.9,2068.8 1191.5,2068.8 1191.2,2078.0 C1191.0,2087.2 1191.2,2085.1 1190.0,2090.3 C1188.8,2095.4 1189.1,2094.4 1187.7,2093.3 C1186.3,2092.3 1186.5,2095.4 1185.7,2087.2 C1184.9,2079.0 1184.7,2078.0 1185.4,2068.8 C1186.1,2059.5 1185.9,2061.6 1187.7,2059.5 Z"/>
<path d="M1219.2,2016.5 C1223.3,2016.3 1222.8,2016.3 1225.3,2018.8 C1227.9,2021.4 1227.6,2020.6 1226.9,2024.2 C1226.1,2027.8 1226.9,2027.6 1223.0,2029.6 C1219.2,2031.5 1219.2,2031.3 1215.4,2030.0 C1211.5,2028.8 1212.3,2029.2 1211.5,2025.7 C1210.7,2022.2 1210.5,2022.7 1213.0,2019.6 C1215.6,2016.5 1215.1,2016.8 1219.2,2016.5 Z"/>
<path d="M1238.4,2031.9 C1240.0,2031.9 1240.5,2033.4 1240.7,2036.5 C1241.0,2039.6 1240.5,2039.6 1239.2,2041.1 C1237.9,2042.6 1238.0,2042.6 1236.9,2041.1 C1235.7,2039.6 1235.3,2039.6 1235.8,2036.5 C1236.3,2033.4 1236.8,2031.9 1238.4,2031.9 Z"/>
<path d="M1227.6,2042.6 C1229.7,2042.1 1230.0,2041.6 1231.5,2047.2 C1233.0,2052.9 1232.3,2048.8 1232.3,2059.5 C1232.3,2070.3 1232.0,2065.2 1231.5,2079.5 C1231.0,2093.9 1231.2,2087.2 1230.7,2102.6 C1230.2,2117.9 1230.5,2110.2 1230.0,2125.6 C1229.4,2141.0 1230.0,2135.9 1229.2,2148.7 C1228.4,2161.5 1229.4,2156.6 1227.6,2164.0 C1225.9,2171.4 1226.6,2169.9 1223.8,2170.9 C1221.0,2172.0 1221.2,2172.0 1219.2,2167.1 C1217.1,2162.2 1217.4,2167.6 1217.7,2156.3 C1217.9,2145.1 1218.4,2148.7 1220.0,2133.3 C1221.5,2117.9 1220.7,2125.6 1222.3,2110.2 C1223.8,2094.9 1223.3,2102.6 1224.6,2087.2 C1225.9,2071.8 1225.9,2077.0 1226.1,2064.1 C1226.4,2051.3 1224.8,2056.0 1225.3,2048.8 C1225.9,2041.6 1225.6,2043.1 1227.6,2042.6 Z"/>
<path d="M1244.5,2082.6 C1247.4,2082.6 1247.6,2082.6 1249.9,2085.7 C1252.2,2088.7 1252.2,2089.0 1251.5,2091.8 C1250.7,2094.6 1250.4,2094.4 1247.6,2094.1 C1244.8,2093.9 1245.1,2093.9 1243.0,2091.0 C1241.0,2088.2 1241.0,2088.5 1241.5,2085.7 C1242.0,2082.8 1241.7,2082.6 1244.5,2082.6 Z"/>
<path d="M1243.0,2105.6 C1245.6,2105.1 1245.6,2106.1 1247.6,2111.8 C1249.7,2117.4 1249.4,2115.6 1249.2,2122.5 C1248.9,2129.4 1249.4,2129.7 1246.9,2132.5 C1244.3,2135.3 1244.0,2134.3 1241.5,2131.0 C1238.9,2127.7 1239.7,2128.4 1239.2,2122.5 C1238.7,2116.6 1238.7,2119.0 1239.9,2113.3 C1241.2,2107.7 1240.5,2106.1 1243.0,2105.6 Z"/>
<path d="M1276.8,2127.1 C1278.6,2127.9 1279.1,2128.7 1279.9,2133.3 C1280.7,2137.9 1280.7,2137.9 1279.1,2141.0 C1277.6,2144.0 1277.3,2143.8 1275.3,2142.5 C1273.2,2141.2 1273.2,2141.0 1273.0,2137.1 C1272.7,2133.3 1273.2,2134.3 1274.5,2131.0 C1275.8,2127.7 1275.0,2126.4 1276.8,2127.1 Z"/>
<path d="M1256.1,2141.0 C1259.4,2138.4 1259.4,2139.9 1261.5,2144.0 C1263.5,2148.1 1262.7,2145.6 1262.2,2153.3 C1261.7,2160.9 1261.7,2158.4 1259.9,2167.1 C1258.1,2175.8 1259.1,2171.7 1256.8,2179.4 C1254.5,2187.1 1255.6,2187.6 1253.0,2190.1 C1250.4,2192.7 1251.0,2191.7 1249.2,2187.1 C1247.4,2182.5 1247.6,2184.0 1247.6,2176.3 C1247.6,2168.6 1247.9,2172.2 1249.2,2164.0 C1250.4,2155.8 1249.2,2159.4 1251.5,2151.7 C1253.8,2144.0 1252.7,2143.5 1256.1,2141.0 Z"/>
<path d="M1223.0,2185.5 C1226.6,2185.0 1226.6,2184.0 1229.2,2187.1 C1231.7,2190.1 1230.5,2188.1 1230.7,2194.8 C1231.0,2201.4 1231.2,2199.4 1230.0,2207.0 C1228.7,2214.7 1229.2,2213.4 1226.9,2217.8 C1224.6,2222.2 1225.9,2220.6 1223.0,2220.1 C1220.2,2219.6 1220.7,2220.6 1218.4,2216.3 C1216.1,2211.9 1216.9,2213.7 1216.1,2207.0 C1215.4,2200.4 1215.4,2202.4 1216.1,2196.3 C1216.9,2190.1 1216.1,2192.2 1218.4,2188.6 C1220.7,2185.0 1219.5,2186.0 1223.0,2185.5 Z"/>
<path d="M1263.0,2194.0 C1265.5,2193.0 1265.3,2192.4 1268.4,2196.3 C1271.4,2200.1 1271.2,2200.4 1272.2,2205.5 C1273.2,2210.6 1273.2,2209.6 1271.4,2211.7 C1269.6,2213.7 1269.6,2213.2 1266.8,2211.7 C1264.0,2210.1 1265.0,2211.1 1263.0,2207.0 C1260.9,2202.9 1260.7,2203.7 1260.7,2199.4 C1260.7,2195.0 1260.4,2195.0 1263.0,2194.0 Z"/>
<path d="M1246.9,2212.4 C1249.4,2212.4 1249.4,2211.9 1251.5,2216.3 C1253.5,2220.6 1253.3,2218.3 1253.0,2225.5 C1252.7,2232.7 1252.0,2228.6 1250.7,2237.8 C1249.4,2247.0 1250.7,2244.7 1249.2,2253.1 C1247.6,2261.6 1248.6,2259.5 1246.1,2263.1 C1243.5,2266.7 1244.0,2266.2 1241.5,2263.9 C1238.9,2261.6 1239.2,2263.9 1238.4,2256.2 C1237.6,2248.5 1238.1,2251.1 1239.2,2240.9 C1240.2,2230.6 1239.9,2233.7 1241.5,2225.5 C1243.0,2217.3 1242.0,2220.6 1243.8,2216.3 C1245.6,2211.9 1244.3,2212.4 1246.9,2212.4 Z"/>
<path d="M1289.9,2207.8 C1293.2,2206.8 1292.2,2206.8 1294.5,2211.7 C1296.8,2216.5 1296.5,2214.7 1296.8,2222.4 C1297.0,2230.1 1296.8,2228.0 1295.3,2234.7 C1293.7,2241.4 1295.5,2239.6 1292.2,2242.4 C1288.9,2245.2 1289.1,2244.7 1285.3,2243.2 C1281.4,2241.6 1281.9,2243.7 1280.7,2237.8 C1279.4,2231.9 1280.1,2233.2 1281.4,2225.5 C1282.7,2217.8 1281.7,2220.6 1284.5,2214.7 C1287.3,2208.8 1286.5,2208.8 1289.9,2207.8 Z"/>
<path d="M1204.6,2232.4 C1206.4,2233.9 1205.1,2233.9 1206.1,2240.9 C1207.2,2247.8 1206.9,2247.8 1207.7,2253.1 C1208.4,2258.5 1210.0,2256.0 1208.4,2257.0 C1206.9,2258.0 1206.4,2258.0 1203.1,2256.2 C1199.7,2254.4 1200.2,2255.7 1198.5,2251.6 C1196.7,2247.5 1196.9,2249.0 1197.7,2243.9 C1198.5,2238.8 1198.5,2240.1 1200.8,2236.2 C1203.1,2232.4 1202.8,2230.9 1204.6,2232.4 Z"/>
<path d="M1265.3,2244.2 C1268.0,2244.5 1268.1,2244.3 1269.1,2247.8 C1270.2,2251.2 1270.2,2250.7 1268.4,2254.7 C1266.6,2258.6 1266.8,2258.3 1263.8,2259.6 C1260.7,2260.9 1260.9,2260.7 1259.1,2258.5 C1257.4,2256.4 1257.8,2257.0 1258.4,2253.1 C1259.0,2249.3 1258.7,2250.0 1261.0,2247.0 C1263.3,2244.0 1262.6,2244.0 1265.3,2244.2 Z"/>
<path d="M1292.2,2256.5 C1295.4,2256.2 1295.1,2256.3 1296.8,2258.5 C1298.5,2260.7 1298.5,2260.8 1297.3,2263.1 C1296.0,2265.4 1296.0,2265.2 1293.0,2265.4 C1289.9,2265.7 1290.0,2265.8 1288.0,2263.9 C1286.1,2262.0 1285.7,2262.1 1287.1,2259.6 C1288.5,2257.1 1289.0,2256.9 1292.2,2256.5 Z"/>
<path d="M1314.5,2234.7 C1316.5,2235.2 1316.0,2234.7 1317.5,2239.3 C1319.1,2243.9 1319.3,2242.9 1319.1,2248.5 C1318.8,2254.2 1319.3,2253.4 1316.8,2256.2 C1314.2,2259.0 1314.5,2258.5 1311.4,2257.0 C1308.3,2255.4 1308.6,2256.0 1307.5,2251.6 C1306.5,2247.3 1307.0,2248.5 1308.3,2243.9 C1309.6,2239.3 1309.3,2240.9 1311.4,2237.8 C1313.4,2234.7 1312.4,2234.2 1314.5,2234.7 Z"/>
<path d="M1186.9,2234.7 C1188.2,2233.7 1188.2,2235.7 1189.2,2240.9 C1190.3,2246.0 1190.3,2244.9 1190.0,2250.1 C1189.7,2255.2 1189.7,2254.7 1188.5,2256.2 C1187.2,2257.8 1187.2,2258.8 1186.2,2254.7 C1185.1,2250.6 1185.1,2250.6 1185.4,2243.9 C1185.6,2237.3 1185.6,2235.7 1186.9,2234.7 Z"/>
</g>
</g>
<path d="M235.3,2030.6 C237.6,2032.1 237.3,2030.6 242.1,2035.1 C246.9,2039.7 246.4,2038.7 249.7,2044.2 C253.0,2049.8 251.7,2045.2 251.9,2051.8 C252.2,2058.3 251.2,2055.3 250.4,2063.9 C249.7,2072.5 249.4,2068.4 249.7,2077.5 C249.9,2086.6 249.9,2082.0 251.2,2091.1 C252.4,2100.2 251.7,2099.4 253.5,2104.7 C255.2,2110.0 254.2,2107.3 256.5,2107.0 C258.8,2106.8 257.7,2104.7 260.3,2104.0 C262.8,2103.2 262.0,2102.5 264.0,2104.7 C266.1,2107.0 266.1,2105.8 266.3,2110.8 C266.6,2115.8 266.1,2113.8 264.8,2119.9 C263.5,2125.9 262.8,2122.4 262.5,2129.0 C262.3,2135.5 263.8,2132.5 264.0,2139.6 C264.3,2146.6 264.8,2144.6 263.3,2150.1 C261.8,2155.7 261.8,2151.2 259.5,2156.2 C257.2,2161.2 258.2,2157.7 256.5,2165.3 C254.7,2172.8 255.5,2169.3 254.2,2178.9 C253.0,2188.5 253.2,2185.5 252.7,2194.0 C252.2,2202.6 251.9,2199.8 252.7,2204.6 C253.5,2209.4 252.7,2207.1 255.0,2208.4 C257.2,2209.7 256.7,2209.7 259.5,2208.4 C262.3,2207.1 261.3,2209.4 263.3,2204.6 C265.3,2199.8 264.0,2202.6 265.6,2194.0 C267.1,2185.5 265.8,2187.2 267.8,2178.9 C269.9,2170.6 268.1,2173.6 271.6,2169.1 C275.1,2164.5 273.9,2166.3 278.4,2165.3 C283.0,2164.3 280.9,2164.0 285.2,2166.0 C289.5,2168.1 288.5,2167.5 291.3,2171.3 C294.1,2175.1 293.8,2173.6 293.6,2177.4 C293.3,2181.2 294.1,2180.2 290.5,2182.7 C287.0,2185.2 287.0,2183.2 283.0,2185.0 C278.9,2186.7 280.7,2184.4 278.4,2188.0 C276.2,2191.5 277.2,2188.5 276.2,2195.5 C275.1,2202.6 274.9,2200.1 275.4,2209.2 C275.9,2218.2 276.2,2213.7 277.7,2222.8 C279.2,2231.9 278.7,2226.3 279.9,2236.4 C281.2,2246.5 280.7,2245.0 281.5,2253.1 C282.2,2261.1 281.2,2257.1 282.2,2260.6 C283.2,2264.1 283.0,2264.1 284.5,2263.6 C286.0,2263.1 285.8,2265.7 286.7,2259.1 C287.7,2252.5 287.1,2254.1 287.2,2244.0 C287.4,2233.9 286.9,2238.9 287.2,2228.8 C287.6,2218.7 287.2,2222.0 288.3,2213.7 C289.4,2205.4 288.5,2208.2 290.5,2203.9 C292.6,2199.6 292.0,2201.1 294.3,2200.8 C296.6,2200.6 296.3,2200.3 297.3,2203.1 C298.4,2205.9 298.4,2204.6 297.3,2209.2 C296.3,2213.7 295.1,2212.2 294.3,2216.7 C293.6,2221.3 293.8,2219.8 295.1,2222.8 C296.3,2225.8 295.8,2225.1 298.1,2225.8 C300.4,2226.6 299.6,2227.1 301.9,2225.1 C304.2,2223.0 302.6,2223.0 304.9,2219.8 C307.2,2216.5 305.9,2217.2 308.7,2215.2 C311.5,2213.2 310.7,2213.2 313.2,2213.7 C315.8,2214.2 314.2,2214.0 316.3,2216.7 C318.3,2219.5 319.8,2219.5 319.3,2222.0 C318.8,2224.6 318.0,2223.3 314.7,2224.3 C311.5,2225.3 312.0,2223.8 309.4,2225.1 C306.9,2226.3 306.9,2226.1 307.2,2228.1 C307.4,2230.1 307.2,2229.3 310.2,2231.1 C313.2,2232.9 312.7,2231.1 316.3,2233.4 C319.8,2235.6 319.0,2234.4 320.8,2237.9 C322.6,2241.4 321.8,2239.4 321.6,2244.0 C321.3,2248.5 320.0,2246.7 320.0,2251.5 C320.0,2256.3 319.8,2255.3 321.6,2258.3 C323.3,2261.4 323.1,2261.4 325.3,2260.6 C327.6,2259.9 325.8,2260.6 328.4,2256.1 C330.9,2251.5 329.4,2251.8 332.9,2247.0 C336.4,2242.2 334.4,2244.2 339.0,2241.7 C343.5,2239.2 342.2,2239.7 346.5,2239.4 C350.8,2239.2 348.8,2238.4 351.8,2240.9 C354.8,2243.5 353.6,2242.5 355.6,2247.0 C357.6,2251.5 355.4,2251.3 357.9,2254.6 C360.4,2257.8 358.9,2256.3 363.2,2256.8 C367.5,2257.3 365.9,2257.6 370.7,2256.1 C375.5,2254.6 373.5,2252.0 377.5,2252.3 C381.6,2252.5 380.1,2253.6 382.8,2256.8 C385.6,2260.1 383.9,2259.4 385.9,2262.1 C387.9,2264.9 386.4,2265.2 388.9,2265.2 C391.4,2265.2 390.4,2264.7 393.4,2262.1 C396.5,2259.6 396.0,2261.6 398.0,2257.6 C400.0,2253.6 398.7,2255.1 399.5,2250.0 C400.2,2245.0 398.7,2246.5 400.2,2242.5 C401.8,2238.4 400.8,2239.9 404.0,2237.9 C407.3,2235.9 406.8,2236.4 410.1,2236.4 C413.4,2236.4 412.4,2235.9 413.9,2237.9 C415.4,2239.9 415.1,2238.9 414.6,2242.5 C414.1,2246.0 413.1,2244.0 412.4,2248.5 C411.6,2253.1 411.1,2252.3 412.4,2256.1 C413.6,2259.9 413.4,2259.4 416.1,2259.9 C418.9,2260.4 418.2,2260.4 420.7,2257.6 C423.2,2254.8 421.7,2255.6 423.7,2251.5 C425.7,2247.5 424.0,2248.5 426.7,2245.5 C429.5,2242.5 428.7,2242.7 432.0,2242.5 C435.3,2242.2 435.3,2241.7 436.6,2244.7 C437.8,2247.8 436.8,2246.7 435.8,2251.5 C434.8,2256.3 433.8,2254.1 433.5,2259.1 C433.3,2264.1 433.0,2263.1 435.1,2266.7 C437.1,2270.2 436.3,2268.4 439.6,2269.7 C442.9,2271.0 441.6,2272.0 444.9,2270.5 C448.2,2268.9 446.9,2269.9 449.4,2265.2 C452.0,2260.4 450.7,2262.1 452.5,2256.1 C454.2,2250.0 452.7,2251.8 454.7,2247.0 C456.7,2242.2 455.2,2244.5 458.5,2241.7 C461.8,2238.9 460.0,2239.9 464.6,2238.7 C469.1,2237.4 468.3,2238.1 472.1,2237.9 C476.0,2237.7 474.5,2235.7 476.1,2238.1 C477.6,2240.5 476.1,2240.8 476.8,2245.2 C477.6,2249.6 476.3,2249.5 478.3,2251.3 C480.3,2253.0 479.6,2253.0 482.9,2250.5 C486.1,2248.0 484.4,2248.0 488.2,2243.7 C491.9,2239.4 489.2,2240.4 494.2,2237.7 C499.3,2234.9 496.7,2236.9 503.3,2235.4 C509.9,2233.9 508.3,2234.4 513.9,2233.1 C519.4,2231.9 517.4,2230.1 519.9,2231.6 C522.5,2233.1 521.5,2232.6 521.5,2237.7 C521.5,2242.7 521.2,2240.2 519.9,2246.7 C518.7,2253.3 517.7,2252.8 517.7,2257.3 C517.7,2261.9 517.2,2259.6 519.9,2260.4 C522.7,2261.1 522.5,2261.6 526.0,2259.6 C529.5,2257.6 528.0,2259.6 530.5,2254.3 C533.1,2249.0 532.0,2252.3 533.6,2243.7 C535.1,2235.1 534.1,2235.6 535.1,2228.6 C536.1,2221.5 534.1,2226.0 536.6,2222.5 C539.1,2219.0 537.6,2220.8 542.6,2218.0 C547.7,2215.2 546.9,2215.8 551.7,2214.2 C556.5,2212.6 554.7,2210.9 557.0,2213.1 C559.3,2215.4 557.8,2213.3 558.5,2221.0 C559.3,2228.7 558.8,2227.1 559.3,2236.1 C559.8,2245.2 558.8,2242.9 560.0,2248.2 C561.3,2253.5 560.8,2251.3 563.1,2252.0 C565.3,2252.8 564.8,2253.8 566.9,2250.5 C568.9,2247.2 567.6,2251.0 569.1,2242.2 C570.6,2233.4 570.1,2236.1 571.4,2224.0 C572.7,2211.9 571.4,2214.4 572.9,2205.9 C574.4,2197.3 573.2,2201.9 575.9,2198.3 C578.7,2194.7 577.9,2195.2 581.2,2195.0 C584.5,2194.7 583.0,2194.4 585.8,2197.5 C588.5,2200.7 587.8,2198.1 589.6,2204.4 C591.3,2210.7 589.8,2207.4 591.1,2216.5 C592.3,2225.5 591.6,2223.8 593.3,2231.6 C595.1,2239.4 594.1,2236.8 596.4,2239.9 C598.6,2243.0 597.6,2242.2 600.1,2241.0 C602.7,2239.7 602.9,2242.8 603.9,2236.1 C604.9,2229.5 603.9,2232.6 603.2,2221.0 C602.4,2209.4 602.7,2212.9 601.7,2201.3 C600.6,2189.7 599.6,2194.8 600.1,2186.2 C600.6,2177.6 600.4,2181.2 603.2,2175.6 C605.9,2170.1 604.9,2172.2 608.5,2169.6 C612.0,2166.9 610.5,2167.7 613.8,2167.7 C617.0,2167.7 616.3,2165.9 618.3,2169.6 C620.3,2173.2 619.3,2170.6 619.8,2178.6 C620.3,2186.7 619.1,2184.2 619.8,2193.8 C620.6,2203.3 620.1,2199.3 622.1,2207.4 C624.1,2215.5 623.6,2210.9 625.9,2218.0 C628.1,2225.0 627.1,2220.5 628.9,2228.6 C630.7,2236.6 629.7,2235.1 631.2,2242.2 C632.7,2249.3 631.7,2247.7 633.4,2249.8 C635.2,2251.8 635.0,2251.8 636.5,2248.2 C638.0,2244.7 637.7,2245.7 638.0,2239.2 C638.2,2232.6 636.7,2236.1 637.2,2228.6 C637.7,2221.0 638.5,2225.5 639.5,2216.5 C640.5,2207.4 640.8,2211.4 640.2,2201.3 C639.7,2191.2 639.7,2196.3 638.0,2186.2 C636.2,2176.1 636.7,2181.2 635.0,2171.1 C633.2,2161.0 632.4,2162.7 632.7,2155.9 C632.9,2149.1 631.9,2154.2 635.7,2150.6 C639.5,2147.1 639.2,2148.4 644.0,2145.3 C648.8,2142.3 647.6,2141.1 650.1,2141.6 C652.6,2142.1 650.1,2141.1 651.6,2146.9 C653.1,2152.7 652.1,2150.9 654.6,2159.0 C657.1,2167.0 656.4,2165.0 659.2,2171.1 C661.9,2177.1 660.4,2176.1 662.9,2177.1 C665.5,2178.1 665.7,2178.1 666.7,2174.1 C667.7,2170.1 667.5,2173.1 666.0,2165.0 C664.5,2156.9 664.7,2160.0 662.2,2149.9 C659.7,2139.8 659.9,2142.3 658.4,2134.7 C656.9,2127.2 656.6,2131.0 657.7,2127.2 C658.7,2123.4 656.9,2126.9 661.4,2123.4 C666.0,2119.9 667.0,2118.4 671.3,2116.6 C675.6,2114.8 672.3,2114.1 674.3,2118.1 C676.3,2122.1 674.8,2120.1 677.3,2128.7 C679.8,2137.3 679.1,2133.7 681.9,2143.8 C684.6,2153.9 683.4,2151.4 685.6,2159.0 C687.9,2166.5 686.4,2165.0 688.7,2166.5 C690.9,2168.0 691.2,2168.0 692.5,2163.5 C693.7,2159.0 693.2,2161.5 692.5,2152.9 C691.7,2144.3 691.7,2148.4 690.2,2137.8 C688.7,2127.2 689.4,2131.2 687.9,2121.1 C686.4,2111.0 686.4,2115.6 685.6,2107.5 C684.9,2099.4 683.4,2104.0 685.6,2096.9 C687.9,2089.9 687.2,2093.1 692.5,2086.3 C697.8,2079.5 697.0,2080.3 701.5,2076.5 C706.1,2072.7 703.3,2074.7 706.1,2075.0 C708.9,2075.2 707.3,2072.4 709.9,2077.2 C712.4,2082.0 711.6,2080.3 713.6,2089.3 C715.7,2098.4 715.7,2094.4 715.9,2104.5 C716.2,2114.6 714.7,2109.5 714.4,2119.6 C714.1,2129.7 714.7,2123.6 715.2,2134.7 C715.7,2145.8 716.4,2141.8 715.9,2152.9 C715.4,2164.0 715.2,2160.5 713.6,2168.0 C712.1,2175.6 711.1,2172.7 711.4,2175.6 C711.6,2178.5 712.8,2178.1 714.4,2176.8 C716.0,2175.5 714.3,2176.0 716.1,2171.7 C718.0,2167.4 717.2,2170.7 720.0,2164.0 C722.8,2157.4 724.1,2159.4 724.6,2151.7 C725.1,2144.0 722.0,2149.7 721.5,2141.0 C721.0,2132.3 721.8,2136.4 723.1,2125.6 C724.3,2114.9 724.9,2119.5 725.4,2108.7 C725.9,2098.0 725.9,2103.6 724.6,2093.3 C723.3,2083.1 723.6,2087.7 721.5,2078.0 C719.5,2068.2 720.2,2072.9 718.5,2064.1 C716.7,2055.4 715.9,2057.5 716.1,2051.9 C716.4,2046.2 715.1,2050.8 719.2,2047.2 C723.3,2043.7 721.8,2044.9 728.4,2041.1 C735.1,2037.3 734.3,2037.0 739.2,2035.7 C744.1,2034.4 741.0,2033.9 743.0,2037.3 C745.1,2040.6 744.1,2036.7 745.3,2045.7 C746.6,2054.7 746.1,2050.3 746.9,2064.1 C747.6,2078.0 746.9,2071.8 747.6,2087.2 C748.4,2102.6 748.2,2094.9 749.2,2110.2 C750.2,2125.6 749.4,2121.0 750.7,2133.3 C752.0,2145.6 751.2,2141.0 753.0,2147.1 C754.8,2153.3 753.5,2151.7 756.1,2151.7 C758.7,2151.7 758.4,2152.2 760.7,2147.1 C763.0,2142.0 762.0,2146.1 763.0,2136.4 C764.0,2126.6 764.0,2131.8 763.8,2117.9 C763.5,2104.1 763.3,2110.2 762.2,2094.9 C761.2,2079.5 761.2,2087.2 760.7,2071.8 C760.2,2056.5 760.5,2064.1 760.7,2048.8 C761.0,2033.4 760.5,2035.7 761.5,2025.7 C762.5,2015.7 759.4,2022.9 763.8,2018.8 C768.1,2014.7 766.9,2016.3 774.5,2013.4 C782.2,2010.6 779.1,2011.6 786.8,2010.4 C794.5,2009.1 792.7,2008.6 797.6,2009.6 C802.5,2010.6 799.6,2008.1 801.4,2013.4 C803.2,2018.8 801.4,2016.5 803.0,2025.7 C804.5,2035.0 803.7,2030.9 806.0,2041.1 C808.3,2051.3 808.3,2046.2 809.9,2056.5 C811.4,2066.7 810.6,2060.6 810.6,2071.8 C810.6,2083.1 809.4,2079.0 809.9,2090.3 C810.4,2101.5 810.1,2098.5 812.2,2105.6 C814.2,2112.8 813.5,2109.5 816.0,2111.8 C818.6,2114.1 817.6,2114.1 819.9,2112.5 C822.2,2111.0 821.4,2113.1 822.9,2107.2 C824.5,2101.3 824.2,2105.6 824.5,2094.9 C824.7,2084.1 824.5,2087.7 823.7,2074.9 C822.9,2062.1 822.9,2067.7 822.2,2056.5 C821.4,2045.2 820.9,2051.3 821.4,2041.1 C821.9,2030.9 821.9,2035.0 823.7,2025.7 C825.5,2016.5 824.2,2019.1 826.8,2013.4 C829.3,2007.8 827.8,2010.6 831.4,2008.8 C835.0,2007.0 833.4,2007.3 837.5,2008.1 C841.6,2008.8 838.6,2008.8 843.7,2011.1 C848.8,2013.4 847.5,2011.9 852.9,2015.0 C858.3,2018.0 855.7,2016.3 859.8,2020.4 C863.9,2024.5 862.6,2021.4 865.2,2027.3 C867.8,2033.2 866.7,2028.3 867.5,2038.0 C868.3,2047.8 867.8,2044.2 867.5,2056.5 C867.2,2068.8 867.8,2062.6 866.7,2074.9 C865.7,2087.2 865.4,2081.0 864.4,2093.3 C863.4,2105.6 863.9,2099.5 863.7,2111.8 C863.4,2124.1 863.1,2117.9 863.7,2130.2 C864.2,2142.5 863.4,2138.9 865.2,2148.7 C867.0,2158.4 866.0,2154.5 869.0,2159.4 C872.1,2164.3 871.3,2162.7 874.4,2163.3 C877.5,2163.8 876.5,2165.8 878.3,2160.9 C880.0,2156.1 879.5,2158.9 879.8,2148.7 C880.0,2138.4 879.3,2142.5 879.0,2130.2 C878.8,2117.9 878.8,2126.1 879.0,2111.8 C879.3,2097.4 879.8,2103.1 879.8,2087.2 C879.8,2071.3 879.3,2079.5 879.0,2064.1 C878.8,2048.8 878.0,2053.4 879.0,2041.1 C880.0,2028.8 879.5,2035.5 882.1,2027.3 C884.7,2019.1 882.6,2022.1 886.7,2016.5 C890.8,2010.9 886.7,2013.7 894.4,2010.4 C902.1,2007.0 899.5,2008.5 909.8,2006.5 C920.0,2004.6 917.9,2004.3 925.1,2004.5 C932.3,2004.8 928.2,2002.8 931.3,2007.3 C934.3,2011.8 932.9,2009.3 934.3,2018.0 C935.8,2026.8 935.8,2024.2 935.6,2033.4 C935.3,2042.6 935.0,2038.0 933.6,2045.7 C932.1,2053.4 932.5,2048.8 931.3,2056.5 C930.0,2064.1 929.7,2061.1 929.7,2068.8 C929.7,2076.4 929.2,2073.6 931.3,2079.5 C933.3,2085.4 933.6,2083.8 935.9,2086.4 C938.2,2089.1 936.2,2087.9 938.2,2087.5 C940.1,2087.0 939.8,2088.3 941.8,2085.0 C943.8,2081.8 943.2,2083.2 944.2,2077.8 C945.2,2072.3 944.8,2074.7 944.8,2068.7 C944.8,2062.6 944.8,2065.7 944.2,2059.6 C943.6,2053.6 943.6,2055.2 943.0,2050.5 C942.4,2045.9 942.0,2048.0 942.4,2045.7 C942.8,2043.4 942.6,2044.1 944.2,2043.6 C945.8,2043.1 945.2,2042.9 947.2,2044.2 C949.3,2045.5 948.2,2044.4 950.3,2047.5 C952.3,2050.6 951.3,2049.9 953.3,2053.6 C955.3,2057.2 954.5,2056.3 956.3,2058.4 C958.1,2060.5 957.6,2060.1 958.7,2059.9 C959.9,2059.7 959.9,2060.5 959.6,2057.8 C959.4,2055.1 959.9,2056.6 958.1,2051.7 C956.4,2046.9 956.9,2048.7 954.5,2043.3 C952.1,2037.8 952.8,2040.6 950.9,2035.4 C949.0,2030.2 949.4,2032.6 948.8,2027.5 C948.1,2022.5 948.1,2024.3 949.1,2020.3 C950.0,2016.2 950.1,2019.5 951.5,2015.4 C952.9,2011.4 951.9,2012.8 953.3,2008.2 C954.7,2003.5 953.5,2004.4 955.7,2001.5 C957.9,1998.6 955.7,2000.2 960.0,1999.4 C964.2,1998.6 962.6,1998.8 968.4,1999.1 C974.3,1999.4 971.5,1999.1 977.5,2000.3 C983.6,2001.5 982.3,2001.3 986.6,2002.7 C990.8,2004.1 988.2,2002.1 990.2,2004.5 C992.2,2006.9 991.0,2005.7 992.6,2010.0 C994.3,2014.2 993.7,2011.8 995.1,2017.2 C996.4,2022.7 995.9,2019.3 996.6,2026.3 C997.3,2033.4 996.9,2030.4 997.2,2038.4 C997.5,2046.5 997.3,2043.7 997.5,2050.5 C997.7,2057.4 996.8,2055.8 997.8,2059.0 C998.8,2062.2 998.4,2059.7 1000.5,2060.2 C1002.6,2060.7 1002.3,2064.3 1004.1,2060.5 C1006.0,2056.7 1004.7,2057.8 1006.1,2048.8 C1007.5,2039.7 1007.1,2044.7 1008.4,2033.4 C1009.7,2022.1 1009.2,2024.7 1009.9,2015.0 C1010.7,2005.2 1009.4,2009.3 1010.7,2004.2 C1012.0,1999.1 1011.5,2000.9 1013.8,1999.6 C1016.1,1998.3 1015.0,1997.8 1017.6,2000.4 C1020.2,2002.9 1018.9,2001.4 1021.5,2007.3 C1024.0,2013.2 1022.7,2010.9 1025.3,2018.0 C1027.9,2025.2 1027.3,2021.1 1029.1,2028.8 C1030.9,2036.5 1029.4,2033.9 1030.7,2041.1 C1032.0,2048.3 1032.5,2042.6 1033.0,2050.3 C1033.5,2058.0 1033.5,2054.4 1032.2,2064.1 C1030.9,2073.9 1031.4,2069.3 1029.1,2079.5 C1026.8,2089.8 1027.1,2084.1 1025.3,2094.9 C1023.5,2105.6 1024.0,2100.0 1023.8,2111.8 C1023.5,2123.6 1023.5,2119.5 1024.5,2130.2 C1025.5,2141.0 1024.5,2137.1 1026.8,2144.0 C1029.1,2151.0 1028.4,2148.9 1031.4,2151.0 C1034.5,2153.0 1033.5,2152.5 1036.0,2150.2 C1038.6,2147.9 1037.6,2152.2 1039.1,2144.0 C1040.7,2135.9 1039.9,2139.4 1040.7,2125.6 C1041.4,2111.8 1040.9,2117.9 1041.4,2102.6 C1041.9,2087.2 1041.7,2094.9 1042.2,2079.5 C1042.7,2064.1 1042.5,2071.8 1043.0,2056.5 C1043.5,2041.1 1043.2,2047.8 1043.7,2033.4 C1044.2,2019.1 1043.5,2023.2 1044.5,2013.4 C1045.5,2003.7 1044.0,2008.6 1046.8,2004.2 C1049.6,1999.9 1047.8,2001.9 1053.0,2000.4 C1058.1,1998.8 1056.0,1999.1 1062.2,1999.6 C1068.3,2000.1 1067.5,1998.3 1071.4,2001.9 C1075.2,2005.5 1073.2,2002.4 1073.7,2010.4 C1074.2,2018.3 1073.4,2015.5 1072.9,2025.7 C1072.4,2036.0 1072.7,2030.9 1072.2,2041.1 C1071.6,2051.3 1071.1,2049.8 1071.4,2056.5 C1071.6,2063.1 1070.9,2059.8 1072.9,2061.1 C1075.0,2062.4 1075.0,2062.9 1077.5,2060.3 C1080.1,2057.7 1079.1,2060.8 1080.6,2053.4 C1082.1,2046.0 1081.1,2048.3 1082.1,2038.0 C1083.2,2027.8 1082.9,2032.9 1083.7,2022.7 C1084.4,2012.4 1083.9,2014.5 1084.4,2007.3 C1085.0,2000.1 1082.4,2004.0 1085.2,2001.1 C1088.0,1998.3 1084.2,2000.3 1092.9,1998.8 C1101.6,1997.4 1100.1,1997.7 1111.3,1996.8 C1122.6,1996.0 1118.0,1995.8 1126.7,1996.2 C1135.4,1996.6 1130.3,1995.7 1137.5,1998.1 C1144.6,2000.5 1142.1,1999.9 1148.2,2003.5 C1154.4,2007.0 1151.8,2004.5 1155.9,2008.8 C1160.0,2013.2 1158.2,2009.3 1160.5,2016.5 C1162.8,2023.7 1161.3,2020.6 1162.8,2030.3 C1164.4,2040.1 1163.8,2034.4 1165.1,2045.7 C1166.4,2057.0 1166.9,2052.4 1166.7,2064.1 C1166.4,2075.9 1166.1,2069.3 1164.4,2081.0 C1162.6,2092.8 1163.1,2087.2 1161.3,2099.5 C1159.5,2111.8 1160.3,2104.1 1159.0,2117.9 C1157.7,2131.8 1157.7,2127.7 1157.4,2141.0 C1157.2,2154.3 1156.7,2148.7 1158.2,2157.9 C1159.7,2167.1 1159.2,2164.3 1162.0,2168.6 C1164.9,2173.0 1164.1,2171.4 1166.7,2170.9 C1169.2,2170.4 1168.2,2174.5 1169.7,2167.1 C1171.3,2159.7 1170.5,2162.5 1171.3,2148.7 C1172.0,2134.8 1171.3,2141.0 1172.0,2125.6 C1172.8,2110.2 1172.5,2117.9 1173.6,2102.6 C1174.6,2087.2 1174.9,2094.9 1175.1,2079.5 C1175.4,2064.1 1173.8,2069.3 1174.3,2056.5 C1174.9,2043.7 1175.2,2050.7 1176.6,2041.1 C1178.1,2031.5 1179.3,2033.7 1178.8,2027.5 C1178.3,2021.4 1177.4,2026.3 1175.1,2022.7 C1172.9,2019.1 1172.8,2020.9 1172.1,2016.6 C1171.4,2012.4 1171.4,2013.8 1173.0,2010.0 C1174.6,2006.1 1173.6,2007.6 1176.9,2005.1 C1180.3,2002.7 1179.0,2003.3 1183.0,2002.7 C1187.0,2002.1 1185.6,2001.9 1189.1,2003.3 C1192.5,2004.7 1191.3,2003.7 1193.3,2006.9 C1195.3,2010.2 1194.6,2008.6 1195.1,2013.0 C1195.6,2017.4 1195.2,2015.4 1194.8,2020.3 C1194.4,2025.1 1194.1,2023.9 1193.9,2027.5 C1193.7,2031.2 1193.0,2029.5 1194.2,2031.2 C1195.4,2032.8 1195.2,2032.0 1197.5,2032.4 C1199.9,2032.8 1199.6,2034.0 1201.2,2032.4 C1202.7,2030.8 1201.9,2032.0 1202.1,2027.5 C1202.3,2023.1 1201.3,2023.9 1201.8,2019.1 C1202.3,2014.2 1201.4,2016.2 1203.6,2013.0 C1205.8,2009.8 1204.8,2011.3 1208.4,2009.4 C1212.1,2007.5 1208.9,2008.8 1214.6,2007.3 C1220.2,2005.8 1219.2,2005.9 1225.3,2005.0 C1231.5,2004.1 1229.4,2004.0 1233.0,2004.5 C1236.6,2005.0 1233.0,2005.6 1236.1,2006.5 C1239.2,2007.4 1237.9,2006.8 1242.2,2007.3 C1246.6,2007.8 1245.8,2006.5 1249.2,2008.1 C1252.5,2009.6 1251.5,2008.6 1252.2,2011.9 C1253.0,2015.2 1252.5,2013.4 1251.5,2018.0 C1250.4,2022.7 1249.4,2021.1 1249.2,2025.7 C1248.9,2030.3 1249.7,2026.8 1250.7,2031.9 C1251.7,2037.0 1252.0,2033.9 1252.2,2041.1 C1252.5,2048.3 1251.5,2046.2 1251.5,2053.4 C1251.5,2060.6 1251.0,2058.3 1252.2,2062.6 C1253.5,2067.0 1253.3,2065.9 1255.3,2066.5 C1257.4,2067.0 1256.8,2067.5 1258.4,2064.1 C1259.9,2060.8 1258.4,2061.1 1259.9,2056.5 C1261.5,2051.9 1260.2,2053.6 1263.0,2050.3 C1265.8,2047.0 1264.5,2048.3 1268.4,2046.5 C1272.2,2044.7 1270.9,2044.9 1274.5,2044.9 C1278.1,2044.9 1277.8,2043.7 1279.1,2046.5 C1280.4,2049.3 1279.6,2048.5 1278.4,2053.4 C1277.1,2058.3 1276.8,2056.0 1275.3,2061.1 C1273.7,2066.2 1273.7,2064.7 1273.7,2068.8 C1273.7,2072.9 1275.5,2070.3 1275.3,2073.4 C1275.0,2076.4 1275.5,2074.9 1273.0,2078.0 C1270.4,2081.0 1271.2,2079.0 1267.6,2082.6 C1264.0,2086.2 1265.3,2083.6 1262.2,2088.7 C1259.1,2093.9 1259.9,2091.8 1258.4,2098.0 C1256.8,2104.1 1257.1,2101.0 1257.6,2107.2 C1258.1,2113.3 1258.1,2112.3 1259.9,2116.4 C1261.7,2120.5 1261.2,2119.5 1263.0,2119.5 C1264.8,2119.5 1264.0,2120.0 1265.3,2116.4 C1266.6,2112.8 1265.3,2114.3 1266.8,2108.7 C1268.4,2103.1 1267.6,2106.1 1269.9,2099.5 C1272.2,2092.8 1270.9,2095.4 1273.7,2088.7 C1276.6,2082.1 1275.5,2082.8 1278.4,2079.5 C1281.2,2076.2 1280.4,2076.2 1282.2,2078.7 C1284.0,2081.3 1283.5,2079.3 1283.7,2087.2 C1284.0,2095.1 1283.0,2092.3 1283.0,2102.6 C1283.0,2112.8 1282.7,2107.7 1283.7,2117.9 C1284.8,2128.2 1285.0,2123.0 1286.0,2133.3 C1287.1,2143.5 1286.8,2138.4 1286.8,2148.7 C1286.8,2158.9 1287.6,2154.8 1286.0,2164.0 C1284.5,2173.2 1284.5,2169.1 1282.2,2176.3 C1279.9,2183.5 1279.6,2180.9 1279.1,2185.5 C1278.6,2190.1 1278.9,2188.4 1280.7,2190.1 C1282.5,2191.9 1282.2,2192.4 1284.5,2190.9 C1286.8,2189.4 1286.3,2191.9 1287.6,2185.5 C1288.9,2179.1 1288.1,2180.9 1288.3,2171.7 C1288.6,2162.5 1287.6,2163.5 1288.3,2157.9 C1289.1,2152.2 1289.2,2153.8 1290.6,2154.8 C1292.1,2155.8 1291.9,2154.8 1292.6,2160.9 C1293.4,2167.1 1292.3,2165.6 1293.0,2173.2 C1293.6,2180.9 1292.4,2178.4 1294.5,2184.0 C1296.5,2189.6 1295.8,2187.6 1299.1,2190.1 C1302.4,2192.7 1300.9,2192.2 1304.5,2191.7 C1308.1,2191.2 1306.8,2190.4 1309.9,2188.6 C1312.9,2186.8 1312.7,2184.8 1313.7,2186.3 C1314.7,2187.8 1314.2,2188.9 1312.9,2193.2 C1311.6,2197.6 1309.9,2195.3 1309.9,2199.4 C1309.9,2203.5 1310.4,2201.9 1312.9,2205.5 C1315.5,2209.1 1314.0,2207.6 1317.5,2210.1 C1321.1,2212.7 1320.1,2210.9 1323.7,2213.2 C1327.3,2215.5 1326.0,2213.4 1328.3,2217.0 C1330.6,2220.6 1328.8,2219.6 1330.6,2223.9 C1332.4,2228.3 1331.9,2225.5 1333.7,2230.1 C1335.5,2234.7 1334.9,2232.1 1336.0,2237.8 C1337.0,2243.4 1335.7,2240.9 1336.7,2247.0 C1337.8,2253.1 1337.3,2251.6 1339.0,2256.2 C1340.8,2260.8 1340.1,2259.0 1342.1,2260.8 C1344.2,2262.6 1343.7,2263.1 1345.2,2261.6 C1346.7,2260.1 1345.2,2259.3 1346.7,2256.2 C1348.3,2253.1 1346.7,2253.9 1349.8,2252.4 C1352.9,2250.8 1352.6,2250.8 1355.9,2251.6 C1359.3,2252.4 1358.0,2251.6 1359.8,2254.7 C1361.6,2257.8 1360.0,2257.8 1361.3,2260.8 C1362.6,2263.9 1360.8,2262.9 1363.6,2263.9 C1366.4,2264.9 1366.7,2264.9 1369.8,2263.9 C1372.9,2262.9 1371.6,2264.4 1372.9,2260.8 C1374.1,2257.2 1373.1,2257.8 1373.6,2253.1 C1374.1,2248.5 1372.9,2250.6 1374.4,2247.0 C1375.9,2243.4 1375.2,2244.2 1378.2,2242.4 C1381.3,2240.6 1380.3,2240.9 1383.6,2241.6 C1386.9,2242.4 1385.7,2241.9 1388.2,2244.7 C1390.8,2247.5 1389.0,2246.7 1391.3,2250.1 C1393.6,2253.4 1394.1,2251.1 1395.1,2254.7 C1396.2,2258.3 1394.9,2257.0 1394.4,2260.8 C1393.9,2264.7 1392.8,2264.2 1393.6,2266.2 C1394.4,2268.3 1394.1,2267.5 1396.7,2267.0 C1399.2,2266.5 1398.7,2268.3 1401.3,2264.7 C1403.8,2261.1 1402.6,2261.1 1404.4,2256.2 C1406.1,2251.4 1404.6,2252.9 1406.7,2250.1 C1408.7,2247.3 1408.2,2247.8 1410.5,2247.8 C1412.8,2247.8 1412.0,2247.3 1413.6,2250.1 C1415.1,2252.9 1413.8,2252.9 1415.1,2256.2 C1416.4,2259.5 1415.1,2259.0 1417.4,2260.1 C1419.7,2261.1 1419.2,2260.6 1422.0,2259.3 C1424.8,2258.0 1423.4,2257.8 1425.9,2256.2 C1428.3,2254.7 1428.2,2255.2 1429.4,2254.7" fill="none" stroke="#5e1c16" stroke-width="2.3" stroke-linejoin="round"/>
<g fill="#f0c8b5" stroke="#5e1c16" stroke-width="2.3" stroke-linejoin="round">
<path d="M260.3,2063.1 C261.3,2060.4 263.0,2062.9 267.8,2066.2 C272.6,2069.4 271.6,2067.2 274.6,2073.0 C277.7,2078.8 274.6,2076.5 276.9,2083.6 C279.2,2090.6 277.4,2088.1 281.5,2094.2 C285.5,2100.2 285.7,2097.2 289.0,2101.7 C292.3,2106.3 291.5,2104.7 291.3,2107.8 C291.0,2110.8 291.5,2110.5 288.3,2110.8 C285.0,2111.1 286.0,2112.1 281.5,2108.5 C276.9,2105.0 278.7,2107.0 274.6,2100.2 C270.6,2093.4 272.6,2096.7 269.3,2088.1 C266.1,2079.5 267.8,2082.8 264.8,2074.5 C261.8,2066.2 259.3,2065.9 260.3,2063.1 Z"/>
<path d="M279.9,2126.7 C282.0,2123.7 282.5,2126.7 289.0,2130.5 C295.6,2134.3 293.1,2132.0 299.6,2138.0 C306.2,2144.1 303.1,2141.6 308.7,2148.6 C314.2,2155.7 313.5,2152.9 316.3,2159.2 C319.0,2165.5 317.5,2163.5 317.0,2167.5 C316.5,2171.6 318.0,2170.8 314.7,2171.3 C311.5,2171.8 312.7,2173.1 307.2,2169.1 C301.6,2165.0 304.2,2166.0 298.1,2159.2 C292.0,2152.4 294.1,2155.2 289.0,2148.6 C284.0,2142.1 286.0,2146.9 283.0,2139.6 C279.9,2132.2 277.9,2129.7 279.9,2126.7 Z"/>
<path d="M1269.1,2005.8 C1270.9,2002.9 1270.7,2004.2 1276.0,2005.0 C1281.4,2005.8 1280.1,2004.7 1285.3,2008.1 C1290.4,2011.4 1288.9,2010.1 1291.4,2015.0 C1294.0,2019.8 1291.4,2017.5 1293.0,2022.7 C1294.5,2027.8 1293.7,2025.7 1296.0,2030.3 C1298.3,2035.0 1298.6,2032.9 1299.9,2036.5 C1301.1,2040.1 1301.1,2038.8 1299.9,2041.1 C1298.6,2043.4 1299.1,2043.4 1296.0,2043.4 C1293.0,2043.4 1293.7,2044.4 1290.6,2041.1 C1287.6,2037.8 1289.6,2038.0 1286.8,2033.4 C1284.0,2028.8 1285.8,2029.8 1282.2,2027.3 C1278.6,2024.7 1279.4,2027.8 1276.0,2025.7 C1272.7,2023.7 1274.0,2025.2 1272.2,2021.1 C1270.4,2017.0 1271.7,2018.6 1270.7,2013.4 C1269.6,2008.3 1267.3,2008.6 1269.1,2005.8 Z"/>
<path d="M1296.0,2056.5 C1298.8,2053.1 1298.1,2055.7 1303.7,2057.2 C1309.3,2058.8 1307.3,2058.3 1312.9,2061.1 C1318.6,2063.9 1316.8,2062.1 1320.6,2065.7 C1324.4,2069.3 1323.4,2067.7 1324.4,2071.8 C1325.5,2075.9 1325.5,2075.2 1323.7,2078.0 C1321.9,2080.8 1323.2,2079.8 1319.1,2080.3 C1315.0,2080.8 1316.5,2079.5 1311.4,2079.5 C1306.3,2079.5 1307.0,2078.2 1303.7,2080.3 C1300.4,2082.3 1301.7,2081.3 1301.4,2085.7 C1301.1,2090.0 1301.9,2087.7 1302.9,2093.3 C1304.0,2099.0 1305.2,2098.5 1304.5,2102.6 C1303.7,2106.7 1303.7,2105.6 1300.6,2105.6 C1297.6,2105.6 1298.1,2105.6 1295.3,2102.6 C1292.4,2099.5 1293.0,2101.0 1292.2,2096.4 C1291.4,2091.8 1291.9,2094.4 1293.0,2088.7 C1294.0,2083.1 1294.5,2086.7 1295.3,2079.5 C1296.0,2072.3 1295.0,2074.9 1295.3,2067.2 C1295.5,2059.5 1293.2,2059.8 1296.0,2056.5 Z"/>
<path d="M1315.2,2098.7 C1318.6,2097.7 1318.0,2098.7 1322.1,2101.0 C1326.2,2103.3 1325.2,2101.5 1327.5,2105.6 C1329.8,2109.7 1329.3,2108.5 1329.1,2113.3 C1328.8,2118.2 1329.6,2117.7 1326.8,2120.2 C1323.9,2122.8 1324.7,2121.8 1320.6,2121.0 C1316.5,2120.2 1317.8,2121.0 1314.5,2117.9 C1311.1,2114.9 1311.4,2116.4 1310.6,2111.8 C1309.9,2107.2 1310.6,2108.5 1312.2,2104.1 C1313.7,2099.7 1311.9,2099.7 1315.2,2098.7 Z"/>
<path d="M1306.0,2131.8 C1308.8,2130.5 1308.1,2130.5 1311.4,2132.5 C1314.7,2134.6 1312.4,2135.3 1316.0,2137.9 C1319.6,2140.5 1318.0,2138.7 1322.1,2140.2 C1326.2,2141.7 1325.2,2139.7 1328.3,2142.5 C1331.4,2145.3 1329.6,2144.0 1331.4,2148.7 C1333.2,2153.3 1331.1,2152.2 1333.7,2156.3 C1336.2,2160.4 1335.7,2158.4 1339.0,2160.9 C1342.4,2163.5 1341.4,2160.4 1343.7,2164.0 C1346.0,2167.6 1345.4,2166.6 1346.0,2171.7 C1346.5,2176.8 1346.7,2176.1 1345.2,2179.4 C1343.7,2182.7 1344.4,2181.7 1341.4,2181.7 C1338.3,2181.7 1339.3,2182.2 1336.0,2179.4 C1332.6,2176.6 1334.9,2177.3 1331.4,2173.2 C1327.8,2169.1 1329.3,2169.7 1325.2,2167.1 C1321.1,2164.5 1322.4,2164.5 1319.1,2165.6 C1315.7,2166.6 1317.3,2167.1 1315.2,2170.2 C1313.2,2173.2 1315.0,2173.5 1312.9,2174.8 C1310.9,2176.1 1311.1,2176.6 1309.1,2174.0 C1307.0,2171.4 1307.3,2172.5 1306.8,2167.1 C1306.3,2161.7 1308.6,2162.5 1307.5,2157.9 C1306.5,2153.3 1305.8,2157.4 1303.7,2153.3 C1301.7,2149.2 1301.7,2151.2 1301.4,2145.6 C1301.1,2139.9 1301.4,2141.0 1302.9,2136.4 C1304.5,2131.8 1303.2,2133.0 1306.0,2131.8 Z"/>
<path d="M1339.8,2191.7 C1342.6,2189.4 1341.9,2190.4 1344.4,2192.4 C1347.0,2194.5 1346.0,2194.5 1347.5,2197.8 C1349.0,2201.2 1346.7,2199.4 1349.0,2202.4 C1351.3,2205.5 1351.9,2203.5 1354.4,2207.0 C1357.0,2210.6 1356.2,2208.6 1356.7,2213.2 C1357.2,2217.8 1357.7,2217.3 1355.9,2220.9 C1354.2,2224.5 1354.7,2223.4 1351.3,2223.9 C1348.0,2224.5 1348.5,2225.0 1346.0,2222.4 C1343.4,2219.9 1345.2,2220.4 1343.7,2216.3 C1342.1,2212.2 1343.4,2213.7 1341.4,2210.1 C1339.3,2206.5 1339.3,2209.1 1337.5,2205.5 C1335.7,2201.9 1335.2,2204.0 1336.0,2199.4 C1336.7,2194.8 1337.0,2194.0 1339.8,2191.7 Z"/>
</g>
<g fill="#fff" stroke="#5e1c16" stroke-width="1.8" stroke-linejoin="round">
<path d="M1302.9,2064.9 C1305.0,2063.4 1306.0,2063.4 1307.5,2065.7 C1309.1,2068.0 1308.6,2068.8 1307.5,2071.8 C1306.5,2074.9 1306.5,2075.4 1304.5,2074.9 C1302.4,2074.4 1301.9,2073.6 1301.4,2070.3 C1300.9,2067.0 1300.9,2066.5 1302.9,2064.9 Z"/>
<path d="M1310.6,2144.8 C1313.2,2144.6 1314.2,2145.1 1316.0,2147.9 C1317.8,2150.7 1317.5,2151.7 1316.0,2153.3 C1314.5,2154.8 1314.0,2154.0 1311.4,2152.5 C1308.8,2151.0 1308.6,2151.2 1308.3,2148.7 C1308.1,2146.1 1308.1,2145.1 1310.6,2144.8 Z"/>
</g>
<path fill="none" stroke="#1a1a1a" stroke-width="2" d="M235.3,2327.0 H1429.4 M238.0,2327.0 v8.5 M274.1,2327.0 v8.5 M310.1,2327.0 v8.5 M346.2,2327.0 v8.5 M382.3,2327.0 v8.5 M418.4,2327.0 v8.5 M454.4,2327.0 v8.5 M490.5,2327.0 v8.5 M526.6,2327.0 v8.5 M562.6,2327.0 v8.5 M598.7,2327.0 v8.5 M634.8,2327.0 v8.5 M670.8,2327.0 v8.5 M706.9,2327.0 v8.5 M743.0,2327.0 v8.5 M779.0,2327.0 v8.5 M815.1,2327.0 v8.5 M851.2,2327.0 v8.5 M887.3,2327.0 v8.5 M923.3,2327.0 v8.5 M959.4,2327.0 v8.5 M995.5,2327.0 v8.5 M1031.5,2327.0 v8.5 M1067.6,2327.0 v8.5 M1103.7,2327.0 v8.5 M1139.8,2327.0 v8.5 M1175.8,2327.0 v8.5 M1211.9,2327.0 v8.5 M1248.0,2327.0 v8.5 M1284.0,2327.0 v8.5 M1320.1,2327.0 v8.5 M1356.2,2327.0 v8.5 M1392.2,2327.0 v8.5 M1428.3,2327.0 v8.5"/>
</g>
<g id="braces">
<g fill="none" stroke="#1a1a1a" stroke-width="2.2" stroke-linecap="butt">
<path d="M235,465 C235,454 237,452 244,452 H477.3 C483.3,452 486.3,449 486.3,440 C486.3,449 489.3,452 495.3,452 H728 C735,452 737,454 737,465"/>
<path d="M747,465 C747,454 749,452 756,452 H989.4 C995.4,452 998.4,449 998.4,440 C998.4,449 1001.4,452 1007.4,452 H1243 C1250,452 1252,454 1252,465"/>
<path d="M228.8,1986.4 C228.8,1973.7 230.8,1971.7 237.8,1971.7 H319.5 C325.5,1971.7 328.5,1968.7 328.5,1958 C328.5,1968.7 331.5,1971.7 337.5,1971.7 H417.6 C424.6,1971.7 426.6,1973.7 426.6,1986.4"/>
<path d="M426.6,1986.4 C426.6,1973.7 428.6,1971.7 435.6,1971.7 H575.5 C581.5,1971.7 584.5,1968.7 584.5,1958 C584.5,1968.7 587.5,1971.7 593.5,1971.7 H733 C740,1971.7 742,1973.7 742,1986.4"/>
<path d="M742,1986.4 C742,1973.7 744,1971.7 751,1971.7 H928.6 C934.6,1971.7 937.6,1968.7 937.6,1958 C937.6,1968.7 940.6,1971.7 946.6,1971.7 H1124.1 C1131.1,1971.7 1133.1,1973.7 1133.1,1986.4"/>
<path d="M1133.1,1986.4 C1133.1,1973.7 1135.1,1971.7 1142.1,1971.7 H1175.9 C1181.9,1971.7 1184.9,1968.7 1184.9,1958 C1184.9,1968.7 1187.9,1971.7 1193.9,1971.7 H1237.4 C1244.4,1971.7 1246.4,1973.7 1246.4,1986.4"/>
<path d="M1246.4,1986.4 C1246.4,1973.7 1248.4,1971.7 1255.4,1971.7 H1348 C1354,1971.7 1357,1968.7 1357,1958 C1357,1968.7 1360,1971.7 1366,1971.7 H1435.2 C1442.2,1971.7 1444.2,1973.7 1444.2,1986.4"/>
<path d="M1496.3,222.4 H1503.2 C1508.4,222.4 1510.4,225.4 1510.4,234.4 V291.2 C1510.4,301.2 1513.4,305.2 1525,305.2 C1513.4,305.2 1510.4,309.2 1510.4,319.2 V385.4 C1510.4,394.4 1508.4,397.4 1503.2,397.4 H1496.3"/>
<path d="M1496.3,1045 H1503.2 C1508.4,1045 1510.4,1048 1510.4,1057 V1163.2 C1510.4,1173.2 1513.4,1177.2 1525,1177.2 C1513.4,1177.2 1510.4,1181.2 1510.4,1191.2 V1319.5 C1510.4,1328.5 1508.4,1331.5 1503.2,1331.5 H1496.3"/>
<path d="M1496.3,1344.8 H1503.2 C1508.4,1344.8 1510.4,1347.8 1510.4,1356.8 V1399 C1510.4,1409 1513.4,1413 1525,1413 C1513.4,1413 1510.4,1417 1510.4,1427 V1477 C1510.4,1486 1508.4,1489 1503.2,1489 H1496.3"/>
<path d="M1496.3,2000.6 H1503.5 C1508.7,2000.6 1510.7,2003.6 1510.7,2012.6 V2143 C1510.7,2153 1513.7,2157 1525,2157 C1513.7,2157 1510.7,2161 1510.7,2171 V2322 C1510.7,2331 1508.7,2334 1503.5,2334 H1496.3"/>
<path d="M210.8,2030.8 H203.2 C198,2030.8 196,2033.8 196,2042.8 V2139.5 C196,2149.5 193,2153.5 182.5,2153.5 C193,2153.5 196,2157.5 196,2167.5 V2264.3 C196,2273.3 198,2276.3 203.2,2276.3 H210.8"/>
<path d="M210.8,2276.3 H201.4 C198,2276.3 196,2279.3 196,2285.3 V2291.3 C196,2298.3 193,2302.3 182.5,2302.3 C193,2302.3 196,2306.3 196,2313.3 V2317.3 C196,2323.3 198,2326.3 201.4,2326.3 H210.8"/>
</g>
<path d="M628.6,183.3 H692.7 M773.8,165.4 H808.7" stroke="#1a1a1a" stroke-width="2" fill="none"/>
</g>
<g id="text">
<text x="812.5" y="27.8" text-anchor="start">Hypothalamus</text>
<text x="812.0" y="68.5" text-anchor="start">GnRH</text>
<text x="619.5" y="88.6" text-anchor="end">Pituitary</text>
<text x="620.7" y="129.5" text-anchor="end">gland</text>
<text x="620.7" y="192.5" text-anchor="end">Anterior</text>
<text x="811.5" y="177.8" text-anchor="start">Posterior</text>
<text x="202.5" y="327.5" text-anchor="start">Follicle-stimulating hormone (FSH)</text>
<text x="804.5" y="327.7" text-anchor="start">Luteinizing hormone (LH)</text>
<text x="374.3" y="423.7" text-anchor="start">Follicular phase</text>
<text x="902.2" y="423.7" text-anchor="start">Luteal phase</text>
<text x="1536.2" y="303.2" text-anchor="start">Pituitary</text>
<text x="1536.2" y="345.1" text-anchor="start">hormones</text>
<text x="229.7" y="801.4" text-anchor="end">LH</text>
<text x="229.7" y="919.9" text-anchor="end">FSH</text>
<text x="1553.9" y="821.4" text-anchor="start" style="fill:#0f9d58">Inhibin A</text>
<text x="1556.8" y="898.2" text-anchor="start" style="fill:#e31e26">Inhibin B</text>
<text x="360.2" y="1072.4" text-anchor="start">Follicular phase</text>
<text x="668.1" y="1077.6" text-anchor="start">Ovulation</text>
<text x="999.5" y="1072.4" text-anchor="start">Luteal phase</text>
<text x="339.2" y="1270.6" text-anchor="middle">Developing</text>
<text x="338.1" y="1312.2" text-anchor="middle">follicles</text>
<text x="917.3" y="1270.6" text-anchor="middle">Corpus</text>
<text x="916.2" y="1312.2" text-anchor="middle">luteum</text>
<text x="1363.0" y="1270.6" text-anchor="middle">Corpus</text>
<text x="1362.3" y="1312.2" text-anchor="middle">albicans</text>
<text x="739.8" y="1335.2" text-anchor="middle">Ovulation</text>
<text x="507.5" y="1425.5" text-anchor="middle">Estrogen</text>
<text x="889.0" y="1399.9" text-anchor="middle">Progesterone</text>
<text x="1070.7" y="1399.9" text-anchor="middle">Some</text>
<text x="1070.7" y="1439.9" text-anchor="middle">estrogen</text>
<text x="1532.1" y="1177.9" text-anchor="start">OVARIAN</text>
<text x="1532.1" y="1219.8" text-anchor="start">CYCLE</text>
<text x="1532.1" y="1400.9" text-anchor="start">Ovarian</text>
<text x="1532.1" y="1441.8" text-anchor="start">hormones</text>
<text x="217.2" y="1760.9" text-anchor="end">Estrogen</text>
<text x="217.2" y="1807.4" text-anchor="end">Progesterone</text>
<text x="322.0" y="1948.1" text-anchor="middle">Menstruation</text>
<text x="585.6" y="1906.1" text-anchor="middle">Proliferative</text>
<text x="584.8" y="1948.1" text-anchor="middle">phase</text>
<text x="938.2" y="1906.1" text-anchor="middle">Secretory</text>
<text x="938.2" y="1948.1" text-anchor="middle">phase</text>
<text x="1185.0" y="1906.1" text-anchor="middle">Ischemic</text>
<text x="1184.6" y="1948.1" text-anchor="middle">phase</text>
<text x="1360.3" y="1948.1" text-anchor="middle">Menstruation</text>
<text x="164.0" y="2151.3" text-anchor="end">Functional</text>
<text x="164.0" y="2193.2" text-anchor="end">layer</text>
<text x="164.0" y="2314.7" text-anchor="end">Basal layer</text>
<text x="164.0" y="2372.0" text-anchor="end">Day</text>
<text x="259.6" y="2372.0" text-anchor="middle">1</text>
<text x="398.8" y="2372.0" text-anchor="middle">5</text>
<text x="581.3" y="2372.0" text-anchor="middle">10</text>
<text x="724.6" y="2372.0" text-anchor="middle">14</text>
<text x="1230.0" y="2372.0" text-anchor="middle">28</text>
<text x="1269.3" y="2372.0" text-anchor="middle">1</text>
<text x="1409.9" y="2372.0" text-anchor="middle">5</text>
<text x="1534.3" y="2145.8" text-anchor="start">ENDOMETRIAL</text>
<text x="1534.3" y="2186.7" text-anchor="start">CYCLE</text>
</g>
</svg>
</body></html>
